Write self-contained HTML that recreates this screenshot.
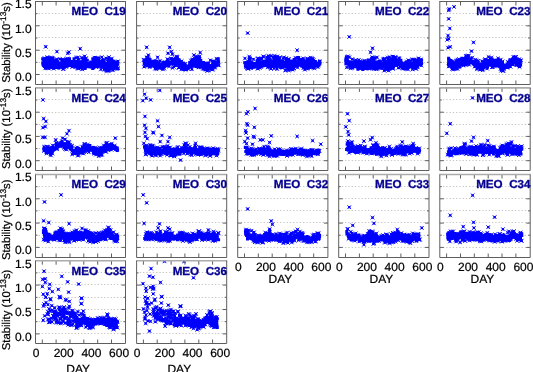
<!DOCTYPE html>
<html><head><meta charset="utf-8"><title>MEO stability</title><style>
html,body{margin:0;padding:0;background:#fff;width:533px;height:372px;overflow:hidden;}
svg{display:block;will-change:transform;}
text{font-family:"Liberation Sans",sans-serif;text-rendering:geometricPrecision;}
.ttl{font-size:11.65px;font-weight:bold;fill:#050090;stroke:#050090;stroke-width:0.3px;white-space:pre;}
.lab text{font-size:12px;}
.lab .yl{font-size:11.3px;}
.lab .sup{font-size:8.4px;}
</style></head><body>
<svg width="533" height="372" viewBox="0 0 533 372">
<rect width="533" height="372" fill="#fff"/>
<path d="M36.4 74.5H124.5M36.4 62.5H124.5M36.4 50.5H124.5M36.4 37.5H124.5M36.4 25.5H124.5M36.4 13.5H124.5" stroke="#c6c6c6" stroke-width="1" stroke-dasharray="1.3 1.97" stroke-dashoffset="1" fill="none"/>
<clipPath id="kC19"><rect x="35.5" y="1.5" width="90" height="83"/></clipPath><g clip-path="url(#kC19)">
<path d="M42.3 60.8L45.4 60.4L52.3 59.9L57.5 61.9L62.6 61.3L69.5 60L76.5 60.2L83.4 61.1L90.3 61.9L95.4 59.4L102.4 60.9L109.3 62.2L116.2 62.3L118.4 62.3L118.4 67.9L116.2 68.6L109.3 69.2L102.4 68.5L95.4 66.5L90.3 68.5L83.4 67.8L76.5 66.8L69.5 65.4L62.6 67.7L57.5 68.5L52.3 66.7L45.4 67.2L42.3 66.9 Z" fill="#0000ff"/>
<path d="M92.6 55.8l3.8 3.8m0 -3.8l-3.8 3.8M70.2 64.9l3.8 3.8m0 -3.8l-3.8 3.8M107 57.6l3.8 3.8m0 -3.8l-3.8 3.8M80.4 67.4l3.8 3.8m0 -3.8l-3.8 3.8M60.7 57.4l3.8 3.8m0 -3.8l-3.8 3.8M77.4 65.6l3.8 3.8m0 -3.8l-3.8 3.8M83 58.1l3.8 3.8m0 -3.8l-3.8 3.8M106.7 67.9l3.8 3.8m0 -3.8l-3.8 3.8M62 58.1l3.8 3.8m0 -3.8l-3.8 3.8M93.9 65.1l3.8 3.8m0 -3.8l-3.8 3.8M74.2 55.8l3.8 3.8m0 -3.8l-3.8 3.8M80.2 65.7l3.8 3.8m0 -3.8l-3.8 3.8M45.9 55.6l3.8 3.8m0 -3.8l-3.8 3.8M47.1 65.3l3.8 3.8m0 -3.8l-3.8 3.8M65.4 56.6l3.8 3.8m0 -3.8l-3.8 3.8M111 68.3l3.8 3.8m0 -3.8l-3.8 3.8M60.3 58.6l3.8 3.8m0 -3.8l-3.8 3.8M77.1 64.7l3.8 3.8m0 -3.8l-3.8 3.8M76.1 55.5l3.8 3.8m0 -3.8l-3.8 3.8M61.4 67.2l3.8 3.8m0 -3.8l-3.8 3.8M80.9 58.3l3.8 3.8m0 -3.8l-3.8 3.8M74.1 65l3.8 3.8m0 -3.8l-3.8 3.8M57.9 57.2l3.8 3.8m0 -3.8l-3.8 3.8M99 67.5l3.8 3.8m0 -3.8l-3.8 3.8M105.8 57.6l3.8 3.8m0 -3.8l-3.8 3.8M106.6 69.1l3.8 3.8m0 -3.8l-3.8 3.8M46.1 56.6l3.8 3.8m0 -3.8l-3.8 3.8M46.2 65.5l3.8 3.8m0 -3.8l-3.8 3.8M50.2 56.2l3.8 3.8m0 -3.8l-3.8 3.8M49.9 64.5l3.8 3.8m0 -3.8l-3.8 3.8M96.4 56.1l3.8 3.8m0 -3.8l-3.8 3.8M104.7 69l3.8 3.8m0 -3.8l-3.8 3.8M94.6 56.2l3.8 3.8m0 -3.8l-3.8 3.8M62.4 65.6l3.8 3.8m0 -3.8l-3.8 3.8M81.9 57l3.8 3.8m0 -3.8l-3.8 3.8M75.6 65.7l3.8 3.8m0 -3.8l-3.8 3.8M79.8 55.8l3.8 3.8m0 -3.8l-3.8 3.8M51.8 66.7l3.8 3.8m0 -3.8l-3.8 3.8M106.2 57l3.8 3.8m0 -3.8l-3.8 3.8M49 65l3.8 3.8m0 -3.8l-3.8 3.8M107.2 57.9l3.8 3.8m0 -3.8l-3.8 3.8M114.8 67.1l3.8 3.8m0 -3.8l-3.8 3.8M49.3 56.6l3.8 3.8m0 -3.8l-3.8 3.8M49.6 66.1l3.8 3.8m0 -3.8l-3.8 3.8M116.1 59.4l3.8 3.8m0 -3.8l-3.8 3.8M102.3 67.7l3.8 3.8m0 -3.8l-3.8 3.8M45.2 55.5l3.8 3.8m0 -3.8l-3.8 3.8M105.7 68.8l3.8 3.8m0 -3.8l-3.8 3.8M84.1 56.8l3.8 3.8m0 -3.8l-3.8 3.8M76.8 66.7l3.8 3.8m0 -3.8l-3.8 3.8M48.8 57l3.8 3.8m0 -3.8l-3.8 3.8M46.4 66.4l3.8 3.8m0 -3.8l-3.8 3.8M41.9 57.5l3.8 3.8m0 -3.8l-3.8 3.8M64.4 65.1l3.8 3.8m0 -3.8l-3.8 3.8M43.8 56.8l3.8 3.8m0 -3.8l-3.8 3.8M116.2 66.3l3.8 3.8m0 -3.8l-3.8 3.8M104.1 56.4l3.8 3.8m0 -3.8l-3.8 3.8M43.3 66.4l3.8 3.8m0 -3.8l-3.8 3.8M61.1 58.1l3.8 3.8m0 -3.8l-3.8 3.8M45.5 65l3.8 3.8m0 -3.8l-3.8 3.8M64.5 57.2l3.8 3.8m0 -3.8l-3.8 3.8M58.7 65.8l3.8 3.8m0 -3.8l-3.8 3.8M49 55.6l3.8 3.8m0 -3.8l-3.8 3.8M45.2 66l3.8 3.8m0 -3.8l-3.8 3.8M42.7 56.5l3.8 3.8m0 -3.8l-3.8 3.8M64.6 63.7l3.8 3.8m0 -3.8l-3.8 3.8M42.2 56.8l3.8 3.8m0 -3.8l-3.8 3.8M94.5 65.1l3.8 3.8m0 -3.8l-3.8 3.8M83.8 56.4l3.8 3.8m0 -3.8l-3.8 3.8M75.9 66.5l3.8 3.8m0 -3.8l-3.8 3.8M54.9 57.7l3.8 3.8m0 -3.8l-3.8 3.8M109 67.3l3.8 3.8m0 -3.8l-3.8 3.8M99.9 55.2l3.8 3.8m0 -3.8l-3.8 3.8M61.3 66.8l3.8 3.8m0 -3.8l-3.8 3.8M106.4 57.3l3.8 3.8m0 -3.8l-3.8 3.8M71.7 64.4l3.8 3.8m0 -3.8l-3.8 3.8M55.1 57.4l3.8 3.8m0 -3.8l-3.8 3.8M104.2 68.1l3.8 3.8m0 -3.8l-3.8 3.8M43.8 44.9l3.8 3.8m0 -3.8l-3.8 3.8M55 49.7l3.8 3.8m0 -3.8l-3.8 3.8M65.9 51.4l3.8 3.8m0 -3.8l-3.8 3.8M67.1 50.2l3.8 3.8m0 -3.8l-3.8 3.8M78.3 46.8l3.8 3.8m0 -3.8l-3.8 3.8M82.8 54.4l3.8 3.8m0 -3.8l-3.8 3.8M107 55.2l3.8 3.8m0 -3.8l-3.8 3.8M110 56.6l3.8 3.8m0 -3.8l-3.8 3.8" stroke="#0000ff" stroke-width="0.85" fill="none"/>
<path d="M93.4 56.6h2.3v2.3h-2.3zM70.9 65.7h2.3v2.3h-2.3zM107.8 58.4h2.3v2.3h-2.3zM81.2 68.2h2.3v2.3h-2.3zM61.5 58.2h2.3v2.3h-2.3zM78.2 66.4h2.3v2.3h-2.3zM83.8 58.8h2.3v2.3h-2.3zM107.4 68.6h2.3v2.3h-2.3zM62.8 58.8h2.3v2.3h-2.3zM94.6 65.8h2.3v2.3h-2.3zM74.9 56.5h2.3v2.3h-2.3zM81 66.5h2.3v2.3h-2.3zM46.6 56.3h2.3v2.3h-2.3zM47.9 66h2.3v2.3h-2.3zM66.2 57.4h2.3v2.3h-2.3zM111.8 69.1h2.3v2.3h-2.3zM61.1 59.4h2.3v2.3h-2.3zM77.9 65.5h2.3v2.3h-2.3zM76.9 56.2h2.3v2.3h-2.3zM62.1 68h2.3v2.3h-2.3zM81.6 59h2.3v2.3h-2.3zM74.8 65.7h2.3v2.3h-2.3zM58.7 58h2.3v2.3h-2.3zM99.8 68.3h2.3v2.3h-2.3zM106.6 58.4h2.3v2.3h-2.3zM107.3 69.8h2.3v2.3h-2.3zM46.9 57.3h2.3v2.3h-2.3zM46.9 66.2h2.3v2.3h-2.3zM50.9 57h2.3v2.3h-2.3zM50.7 65.3h2.3v2.3h-2.3zM97.1 56.8h2.3v2.3h-2.3zM105.5 69.8h2.3v2.3h-2.3zM95.4 56.9h2.3v2.3h-2.3zM63.1 66.3h2.3v2.3h-2.3zM82.6 57.7h2.3v2.3h-2.3zM76.3 66.4h2.3v2.3h-2.3zM80.5 56.6h2.3v2.3h-2.3zM52.5 67.4h2.3v2.3h-2.3zM106.9 57.8h2.3v2.3h-2.3zM49.8 65.7h2.3v2.3h-2.3zM107.9 58.6h2.3v2.3h-2.3zM115.6 67.9h2.3v2.3h-2.3zM50.1 57.4h2.3v2.3h-2.3zM50.3 66.8h2.3v2.3h-2.3zM116.9 60.1h2.3v2.3h-2.3zM103 68.4h2.3v2.3h-2.3zM46 56.3h2.3v2.3h-2.3zM106.4 69.5h2.3v2.3h-2.3zM84.8 57.5h2.3v2.3h-2.3zM77.5 67.4h2.3v2.3h-2.3zM49.5 57.7h2.3v2.3h-2.3zM47.2 67.1h2.3v2.3h-2.3zM42.6 58.3h2.3v2.3h-2.3zM65.2 65.8h2.3v2.3h-2.3zM44.6 57.5h2.3v2.3h-2.3zM116.9 67h2.3v2.3h-2.3zM104.9 57.1h2.3v2.3h-2.3zM44 67.2h2.3v2.3h-2.3zM61.8 58.8h2.3v2.3h-2.3zM46.2 65.7h2.3v2.3h-2.3zM65.2 58h2.3v2.3h-2.3zM59.5 66.5h2.3v2.3h-2.3zM49.7 56.4h2.3v2.3h-2.3zM46 66.8h2.3v2.3h-2.3zM43.5 57.3h2.3v2.3h-2.3zM65.3 64.5h2.3v2.3h-2.3zM42.9 57.5h2.3v2.3h-2.3zM95.3 65.8h2.3v2.3h-2.3zM84.6 57.2h2.3v2.3h-2.3zM76.6 67.3h2.3v2.3h-2.3zM55.6 58.4h2.3v2.3h-2.3zM109.8 68.1h2.3v2.3h-2.3zM100.6 55.9h2.3v2.3h-2.3zM62.1 67.6h2.3v2.3h-2.3zM107.1 58h2.3v2.3h-2.3zM72.5 65.1h2.3v2.3h-2.3zM55.9 58.2h2.3v2.3h-2.3zM104.9 68.9h2.3v2.3h-2.3zM44.6 45.6h2.3v2.3h-2.3zM55.8 50.5h2.3v2.3h-2.3zM66.6 52.1h2.3v2.3h-2.3zM67.8 51h2.3v2.3h-2.3zM79 47.6h2.3v2.3h-2.3zM83.5 55.1h2.3v2.3h-2.3zM107.8 56h2.3v2.3h-2.3zM110.8 57.4h2.3v2.3h-2.3zM72.5 57.3h3v3h-3zM55.6 66.1h3v3h-3zM83.6 60.9h3v3h-3zM47.8 59.7h3v3h-3zM66.8 59.1h3v3h-3zM108.1 66.1h3v3h-3zM94.7 65.1h3v3h-3zM57.3 66.5h3v3h-3zM80.2 61.3h3v3h-3zM52.8 58.8h3v3h-3zM68.8 61.9h3v3h-3zM88.4 62.3h3v3h-3zM56.2 64.6h3v3h-3zM53.4 59.3h3v3h-3zM41.2 57.4h3v3h-3zM101.5 59.1h3v3h-3zM113.4 64h3v3h-3zM54.4 65.3h3v3h-3zM93.4 59.9h3v3h-3zM88.1 62.1h3v3h-3zM93.5 63.9h3v3h-3zM68.5 60.1h3v3h-3zM69.1 62.7h3v3h-3zM61 64.8h3v3h-3zM92.2 66.2h3v3h-3zM55.2 63.1h3v3h-3zM96 65h3v3h-3zM47.1 64.2h3v3h-3zM101 64.6h3v3h-3zM84.2 63.1h3v3h-3zM47.9 60.4h3v3h-3zM80.7 63h3v3h-3zM91.2 66.9h3v3h-3zM44.4 63.5h3v3h-3zM45.2 61.8h3v3h-3zM112.2 65.6h3v3h-3zM45.4 58.9h3v3h-3zM116.3 62.8h3v3h-3zM99.2 64.5h3v3h-3zM115.3 60.5h3v3h-3zM83.6 66.9h3v3h-3zM110 61.2h3v3h-3zM49.3 58.9h3v3h-3zM96.2 59.2h3v3h-3zM80.1 64.1h3v3h-3zM83.5 60.3h3v3h-3zM83.7 65.5h3v3h-3zM87.2 63.7h3v3h-3zM92.7 58.9h3v3h-3zM84.2 63.4h3v3h-3zM96.5 60.7h3v3h-3zM70.5 63.2h3v3h-3zM97.9 60h3v3h-3zM64.9 57.9h3v3h-3zM67.2 58.9h3v3h-3zM93.3 61.9h3v3h-3zM98.2 61.9h3v3h-3zM78.2 66.1h3v3h-3zM44.4 61.1h3v3h-3zM50.4 65.7h3v3h-3zM85.5 65h3v3h-3zM42.5 58.1h3v3h-3zM48.5 62.6h3v3h-3zM55.9 62.1h3v3h-3zM42.8 64.9h3v3h-3zM97.2 57h3v3h-3zM66.9 60.2h3v3h-3zM53.2 61.4h3v3h-3zM42.8 61.8h3v3h-3zM83.1 64.8h3v3h-3zM80.2 63.5h3v3h-3zM110.8 63.2h3v3h-3zM101.4 60h3v3h-3zM50.1 59.2h3v3h-3zM97.2 64.3h3v3h-3zM91.8 60.5h3v3h-3zM60.9 63h3v3h-3zM94.9 62h3v3h-3zM76.9 62.2h3v3h-3zM110.2 59h3v3h-3zM102 59.2h3v3h-3zM48.6 56.5h3v3h-3zM89.2 60.6h3v3h-3zM46.2 61.9h3v3h-3zM90.9 65.5h3v3h-3zM68 57.3h3v3h-3zM56.3 60.8h3v3h-3zM90.1 61.3h3v3h-3zM55.2 64.5h3v3h-3zM61.6 60.3h3v3h-3zM109.7 65.2h3v3h-3zM102.5 65.8h3v3h-3zM112.3 65.1h3v3h-3zM104.2 64.3h3v3h-3zM47 61.9h3v3h-3zM47.7 58.5h3v3h-3zM93.4 59.2h3v3h-3zM93 60.4h3v3h-3zM113 62.8h3v3h-3zM114.4 66.6h3v3h-3zM88.5 63.3h3v3h-3zM107 59.8h3v3h-3zM111.6 63.4h3v3h-3zM96.8 61.9h3v3h-3zM76.3 59.7h3v3h-3zM51.1 59.1h3v3h-3zM114.9 63.2h3v3h-3zM73.3 59.9h3v3h-3zM49.4 57.8h3v3h-3zM83.9 65.7h3v3h-3zM102.4 64h3v3h-3zM42.9 60.1h3v3h-3zM116.5 67.1h3v3h-3zM108.6 67h3v3h-3zM85.8 64.9h3v3h-3zM93.7 56.1h3v3h-3zM112.6 61.3h3v3h-3zM108.9 60.2h3v3h-3zM73.5 65.2h3v3h-3zM60.4 58.8h3v3h-3zM41.6 63h3v3h-3zM47.3 59.9h3v3h-3zM92.1 58.1h3v3h-3zM96.4 61.4h3v3h-3zM91.2 63.2h3v3h-3zM46.4 61.6h3v3h-3zM69.3 60h3v3h-3zM71 60.4h3v3h-3zM84.8 62.7h3v3h-3zM41.2 61.6h3v3h-3zM82.4 62.4h3v3h-3zM41.5 63.3h3v3h-3zM96.5 61.4h3v3h-3zM61.4 64.2h3v3h-3zM98.1 63.5h3v3h-3zM89.8 65.2h3v3h-3zM76.2 63.1h3v3h-3zM73.1 62.6h3v3h-3zM101.8 58.2h3v3h-3zM60.1 63.9h3v3h-3zM93.9 64.5h3v3h-3zM60.5 64.1h3v3h-3zM85.8 58.7h3v3h-3zM68.2 59.6h3v3h-3zM68.2 64.1h3v3h-3zM107 64.8h3v3h-3zM104.6 66.2h3v3h-3zM74.3 62.7h3v3h-3zM66.9 64.1h3v3h-3zM63.3 59.5h3v3h-3zM76.9 58h3v3h-3zM109.1 67.1h3v3h-3zM88.1 63h3v3h-3zM102.7 58.8h3v3h-3zM104.5 62.3h3v3h-3zM82.2 62.6h3v3h-3zM46.1 63.7h3v3h-3zM52.7 66.2h3v3h-3zM114.8 62.5h3v3h-3zM101.2 59h3v3h-3zM95.6 57.8h3v3h-3zM55.4 62.9h3v3h-3zM61.8 63.2h3v3h-3zM78.8 61.2h3v3h-3zM55.6 64.1h3v3h-3zM53.3 61.2h3v3h-3zM92.9 62.4h3v3h-3zM91.3 57.2h3v3h-3zM100.9 59.2h3v3h-3zM112.3 59.7h3v3h-3zM64.8 64.7h3v3h-3zM44.5 64.4h3v3h-3zM57.6 62.6h3v3h-3zM89 64h3v3h-3zM112.8 62.3h3v3h-3zM57.8 65.8h3v3h-3zM100.7 63.3h3v3h-3zM72.1 62.4h3v3h-3zM87 64.1h3v3h-3zM104.5 64.2h3v3h-3zM114.1 61.3h3v3h-3zM82.5 64.4h3v3h-3zM58.5 63.6h3v3h-3zM108.3 67.1h3v3h-3zM55.5 61.1h3v3h-3zM68.6 63.7h3v3h-3zM61.3 65.7h3v3h-3zM66.2 64.3h3v3h-3zM48.5 61.1h3v3h-3zM112.2 66.9h3v3h-3zM107.8 68.7h3v3h-3zM54.9 64.7h3v3h-3zM51.5 56.5h3v3h-3zM80 60.3h3v3h-3zM63.3 65.3h3v3h-3zM66.6 57.9h3v3h-3z" fill="#0000ff"/>
</g>
<path d="M42.3 84.5v-4M42.3 1.5v4M56.1 84.5v-4M56.1 1.5v4M70 84.5v-4M70 1.5v4M83.8 84.5v-4M83.8 1.5v4M97.7 84.5v-4M97.7 1.5v4M111.5 84.5v-4M111.5 1.5v4M35.5 62.3h2M125.5 62.3h-2M35.5 50.2h4M125.5 50.2h-4M35.5 38h2M125.5 38h-2M35.5 25.8h4M125.5 25.8h-4M35.5 13.7h2M125.5 13.7h-2M35.5 74.5h4M125.5 74.5h-4" stroke="#5e5e5e" stroke-width="1" fill="none"/>
<path d="M35 1.5H126" stroke="#5e5e5e" stroke-width="1"/>
<path d="M35.5 1.5V84.5H125.5V1.5" stroke="#5e5e5e" stroke-width="1" fill="none"/>
<text x="125.8" y="15.3" text-anchor="end" class="ttl">MEO  C19</text>
<path d="M137.5 74.5H225.7M137.5 62.5H225.7M137.5 50.5H225.7M137.5 37.5H225.7M137.5 25.5H225.7M137.5 13.5H225.7" stroke="#c6c6c6" stroke-width="1" stroke-dasharray="1.3 1.97" stroke-dashoffset="1" fill="none"/>
<clipPath id="kC20"><rect x="136.6" y="1.5" width="90.1" height="83"/></clipPath><g clip-path="url(#kC20)">
<path d="M143.6 61.4L148.1 58.4L153.3 61.4L158.5 63.4L164.5 62.9L170.5 60.2L177.4 59.1L182.6 64.5L187.8 64.7L193 60.5L199.9 59.1L205.1 64.7L212 64L218 60L219 59.5L219 63.4L218 65.4L212 69.7L205.1 69.9L199.9 65.2L193 67.4L187.8 69.9L182.6 69.6L177.4 65.2L170.5 65.5L164.5 68.1L158.5 69.5L153.3 67.1L148.1 65L143.6 67.1 Z" fill="#0000ff"/>
<path d="M174.4 54.6l3.8 3.8m0 -3.8l-3.8 3.8M201.8 67.1l3.8 3.8m0 -3.8l-3.8 3.8M195.5 54.7l3.8 3.8m0 -3.8l-3.8 3.8M177.4 64.8l3.8 3.8m0 -3.8l-3.8 3.8M181.3 62l3.8 3.8m0 -3.8l-3.8 3.8M161.1 67.4l3.8 3.8m0 -3.8l-3.8 3.8M194.1 54.9l3.8 3.8m0 -3.8l-3.8 3.8M206.4 68.5l3.8 3.8m0 -3.8l-3.8 3.8M162 60.7l3.8 3.8m0 -3.8l-3.8 3.8M145.1 64.2l3.8 3.8m0 -3.8l-3.8 3.8M205.9 61.8l3.8 3.8m0 -3.8l-3.8 3.8M210.5 67.8l3.8 3.8m0 -3.8l-3.8 3.8M210.5 59.3l3.8 3.8m0 -3.8l-3.8 3.8M203.9 67.4l3.8 3.8m0 -3.8l-3.8 3.8M190.5 58.2l3.8 3.8m0 -3.8l-3.8 3.8M179.3 67.5l3.8 3.8m0 -3.8l-3.8 3.8M193.1 57l3.8 3.8m0 -3.8l-3.8 3.8M142.1 64.9l3.8 3.8m0 -3.8l-3.8 3.8M190.7 57.3l3.8 3.8m0 -3.8l-3.8 3.8M212.4 65.7l3.8 3.8m0 -3.8l-3.8 3.8M181.2 61.9l3.8 3.8m0 -3.8l-3.8 3.8M171.8 64.8l3.8 3.8m0 -3.8l-3.8 3.8M179.7 59.3l3.8 3.8m0 -3.8l-3.8 3.8M190 67.3l3.8 3.8m0 -3.8l-3.8 3.8M194.4 55.9l3.8 3.8m0 -3.8l-3.8 3.8M177 65.8l3.8 3.8m0 -3.8l-3.8 3.8M194.6 56.4l3.8 3.8m0 -3.8l-3.8 3.8M203.4 67.1l3.8 3.8m0 -3.8l-3.8 3.8M194.4 56.8l3.8 3.8m0 -3.8l-3.8 3.8M196.9 65.3l3.8 3.8m0 -3.8l-3.8 3.8M171.5 57.1l3.8 3.8m0 -3.8l-3.8 3.8M199.3 65.5l3.8 3.8m0 -3.8l-3.8 3.8M180.5 61.2l3.8 3.8m0 -3.8l-3.8 3.8M211.1 66.7l3.8 3.8m0 -3.8l-3.8 3.8M165.7 57.6l3.8 3.8m0 -3.8l-3.8 3.8M205.3 69l3.8 3.8m0 -3.8l-3.8 3.8M168.6 56.9l3.8 3.8m0 -3.8l-3.8 3.8M201.1 66.7l3.8 3.8m0 -3.8l-3.8 3.8M174.2 56.9l3.8 3.8m0 -3.8l-3.8 3.8M181.7 66.8l3.8 3.8m0 -3.8l-3.8 3.8M169.4 56.6l3.8 3.8m0 -3.8l-3.8 3.8M153.2 66.7l3.8 3.8m0 -3.8l-3.8 3.8M183.4 62.1l3.8 3.8m0 -3.8l-3.8 3.8M210 67.4l3.8 3.8m0 -3.8l-3.8 3.8M162.7 60.1l3.8 3.8m0 -3.8l-3.8 3.8M197.3 64.5l3.8 3.8m0 -3.8l-3.8 3.8M145.9 55.5l3.8 3.8m0 -3.8l-3.8 3.8M160 66l3.8 3.8m0 -3.8l-3.8 3.8M214.6 56.9l3.8 3.8m0 -3.8l-3.8 3.8M213 65.3l3.8 3.8m0 -3.8l-3.8 3.8M157.3 60.8l3.8 3.8m0 -3.8l-3.8 3.8M196.6 65.4l3.8 3.8m0 -3.8l-3.8 3.8M144.8 55.8l3.8 3.8m0 -3.8l-3.8 3.8M174.5 63.2l3.8 3.8m0 -3.8l-3.8 3.8M173.9 56.6l3.8 3.8m0 -3.8l-3.8 3.8M176.9 65.9l3.8 3.8m0 -3.8l-3.8 3.8M212.3 59.5l3.8 3.8m0 -3.8l-3.8 3.8M150.9 64.4l3.8 3.8m0 -3.8l-3.8 3.8M182.3 62.4l3.8 3.8m0 -3.8l-3.8 3.8M217 63.4l3.8 3.8m0 -3.8l-3.8 3.8M141.9 58.1l3.8 3.8m0 -3.8l-3.8 3.8M186.3 67.1l3.8 3.8m0 -3.8l-3.8 3.8M194.5 57l3.8 3.8m0 -3.8l-3.8 3.8M162.4 66.6l3.8 3.8m0 -3.8l-3.8 3.8M189.1 58.7l3.8 3.8m0 -3.8l-3.8 3.8M167.2 64.5l3.8 3.8m0 -3.8l-3.8 3.8M211.1 60.2l3.8 3.8m0 -3.8l-3.8 3.8M154.5 67.3l3.8 3.8m0 -3.8l-3.8 3.8M197.8 54.4l3.8 3.8m0 -3.8l-3.8 3.8M206.6 68.1l3.8 3.8m0 -3.8l-3.8 3.8M157.9 59.1l3.8 3.8m0 -3.8l-3.8 3.8M147.8 65.2l3.8 3.8m0 -3.8l-3.8 3.8M203.4 61.3l3.8 3.8m0 -3.8l-3.8 3.8M216 63.2l3.8 3.8m0 -3.8l-3.8 3.8M142.1 57.8l3.8 3.8m0 -3.8l-3.8 3.8M199 63.8l3.8 3.8m0 -3.8l-3.8 3.8M165.8 57.3l3.8 3.8m0 -3.8l-3.8 3.8M183.7 68l3.8 3.8m0 -3.8l-3.8 3.8M144.8 45.4l3.8 3.8m0 -3.8l-3.8 3.8M146.5 53.1l3.8 3.8m0 -3.8l-3.8 3.8M155.7 55.4l3.8 3.8m0 -3.8l-3.8 3.8M167.8 45.4l3.8 3.8m0 -3.8l-3.8 3.8M166.1 51.4l3.8 3.8m0 -3.8l-3.8 3.8M169.5 49.7l3.8 3.8m0 -3.8l-3.8 3.8M170.4 52.3l3.8 3.8m0 -3.8l-3.8 3.8M170.7 66.1l3.8 3.8m0 -3.8l-3.8 3.8M175.6 54.9l3.8 3.8m0 -3.8l-3.8 3.8M192 53.1l3.8 3.8m0 -3.8l-3.8 3.8M198.3 50.6l3.8 3.8m0 -3.8l-3.8 3.8M208.4 58.3l3.8 3.8m0 -3.8l-3.8 3.8" stroke="#0000ff" stroke-width="0.85" fill="none"/>
<path d="M175.1 55.4h2.3v2.3h-2.3zM202.5 67.8h2.3v2.3h-2.3zM196.2 55.4h2.3v2.3h-2.3zM178.1 65.5h2.3v2.3h-2.3zM182.1 62.8h2.3v2.3h-2.3zM161.8 68.1h2.3v2.3h-2.3zM194.9 55.6h2.3v2.3h-2.3zM207.1 69.2h2.3v2.3h-2.3zM162.8 61.5h2.3v2.3h-2.3zM145.9 65h2.3v2.3h-2.3zM206.7 62.5h2.3v2.3h-2.3zM211.2 68.6h2.3v2.3h-2.3zM211.3 60h2.3v2.3h-2.3zM204.6 68.1h2.3v2.3h-2.3zM191.2 59h2.3v2.3h-2.3zM180.1 68.3h2.3v2.3h-2.3zM193.8 57.7h2.3v2.3h-2.3zM142.9 65.7h2.3v2.3h-2.3zM191.5 58.1h2.3v2.3h-2.3zM213.1 66.4h2.3v2.3h-2.3zM182 62.6h2.3v2.3h-2.3zM172.6 65.5h2.3v2.3h-2.3zM180.5 60.1h2.3v2.3h-2.3zM190.8 68.1h2.3v2.3h-2.3zM195.1 56.7h2.3v2.3h-2.3zM177.7 66.5h2.3v2.3h-2.3zM195.4 57.2h2.3v2.3h-2.3zM204.1 67.9h2.3v2.3h-2.3zM195.2 57.6h2.3v2.3h-2.3zM197.7 66h2.3v2.3h-2.3zM172.3 57.8h2.3v2.3h-2.3zM200.1 66.2h2.3v2.3h-2.3zM181.2 62h2.3v2.3h-2.3zM211.9 67.5h2.3v2.3h-2.3zM166.4 58.4h2.3v2.3h-2.3zM206.1 69.7h2.3v2.3h-2.3zM169.4 57.7h2.3v2.3h-2.3zM201.8 67.4h2.3v2.3h-2.3zM175 57.7h2.3v2.3h-2.3zM182.4 67.6h2.3v2.3h-2.3zM170.2 57.3h2.3v2.3h-2.3zM153.9 67.5h2.3v2.3h-2.3zM184.1 62.8h2.3v2.3h-2.3zM210.8 68.2h2.3v2.3h-2.3zM163.4 60.8h2.3v2.3h-2.3zM198 65.2h2.3v2.3h-2.3zM146.6 56.2h2.3v2.3h-2.3zM160.8 66.8h2.3v2.3h-2.3zM215.3 57.6h2.3v2.3h-2.3zM213.7 66.1h2.3v2.3h-2.3zM158.1 61.5h2.3v2.3h-2.3zM197.4 66.2h2.3v2.3h-2.3zM145.5 56.6h2.3v2.3h-2.3zM175.2 63.9h2.3v2.3h-2.3zM174.7 57.4h2.3v2.3h-2.3zM177.6 66.6h2.3v2.3h-2.3zM213 60.3h2.3v2.3h-2.3zM151.6 65.2h2.3v2.3h-2.3zM183.1 63.1h2.3v2.3h-2.3zM217.7 64.2h2.3v2.3h-2.3zM142.6 58.8h2.3v2.3h-2.3zM187.1 67.8h2.3v2.3h-2.3zM195.3 57.8h2.3v2.3h-2.3zM163.1 67.3h2.3v2.3h-2.3zM189.8 59.4h2.3v2.3h-2.3zM167.9 65.2h2.3v2.3h-2.3zM211.8 60.9h2.3v2.3h-2.3zM155.2 68h2.3v2.3h-2.3zM198.6 55.2h2.3v2.3h-2.3zM207.4 68.8h2.3v2.3h-2.3zM158.7 59.8h2.3v2.3h-2.3zM148.6 65.9h2.3v2.3h-2.3zM204.2 62.1h2.3v2.3h-2.3zM216.7 63.9h2.3v2.3h-2.3zM142.8 58.5h2.3v2.3h-2.3zM199.7 64.5h2.3v2.3h-2.3zM166.6 58.1h2.3v2.3h-2.3zM184.4 68.8h2.3v2.3h-2.3zM145.5 46.1h2.3v2.3h-2.3zM147.2 53.9h2.3v2.3h-2.3zM156.4 56.1h2.3v2.3h-2.3zM168.5 46.1h2.3v2.3h-2.3zM166.8 52.1h2.3v2.3h-2.3zM170.2 50.5h2.3v2.3h-2.3zM171.2 53.1h2.3v2.3h-2.3zM171.4 66.8h2.3v2.3h-2.3zM176.3 55.6h2.3v2.3h-2.3zM192.8 53.9h2.3v2.3h-2.3zM199 51.4h2.3v2.3h-2.3zM209.2 59.1h2.3v2.3h-2.3zM205.6 65.2h3v3h-3zM179.1 63.3h3v3h-3zM214.6 61.9h3v3h-3zM207.1 66.7h3v3h-3zM209.1 65.6h3v3h-3zM187.8 64.8h3v3h-3zM161.6 63h3v3h-3zM152.1 63.6h3v3h-3zM175.3 56.5h3v3h-3zM145.7 58.6h3v3h-3zM194.8 56.8h3v3h-3zM203.7 68.2h3v3h-3zM174.1 63.5h3v3h-3zM188.4 62.4h3v3h-3zM151.5 59.8h3v3h-3zM188.1 63.4h3v3h-3zM216.8 59.4h3v3h-3zM146.9 58.4h3v3h-3zM147.9 57.5h3v3h-3zM143.7 58.7h3v3h-3zM201.5 61.3h3v3h-3zM199.3 59.1h3v3h-3zM204.7 67h3v3h-3zM165.8 59.6h3v3h-3zM202.9 65.3h3v3h-3zM182.8 63.6h3v3h-3zM175.1 58.4h3v3h-3zM185.9 67.1h3v3h-3zM157.1 64.9h3v3h-3zM150.4 64.3h3v3h-3zM175.8 56h3v3h-3zM164.5 61.2h3v3h-3zM206 63.9h3v3h-3zM185.6 64.7h3v3h-3zM197.1 60.7h3v3h-3zM201.8 65.2h3v3h-3zM161.3 60.9h3v3h-3zM198.1 57h3v3h-3zM214.4 64.5h3v3h-3zM212.7 65.5h3v3h-3zM182 67.3h3v3h-3zM178.6 60.8h3v3h-3zM144.5 62.2h3v3h-3zM164.7 60.7h3v3h-3zM159.8 65.8h3v3h-3zM148.9 64.6h3v3h-3zM192 61h3v3h-3zM154.5 63.3h3v3h-3zM177.2 60.7h3v3h-3zM156.2 66.7h3v3h-3zM210.2 65.7h3v3h-3zM217.1 60.4h3v3h-3zM196.1 64.3h3v3h-3zM196.6 60.8h3v3h-3zM184.1 67.3h3v3h-3zM145.2 60.6h3v3h-3zM171.1 60.3h3v3h-3zM158.8 63.6h3v3h-3zM185.1 67.9h3v3h-3zM167.9 61.6h3v3h-3zM153.6 65.2h3v3h-3zM173.9 64h3v3h-3zM213.3 61.7h3v3h-3zM204.1 65.4h3v3h-3zM178.2 61.6h3v3h-3zM146.7 57.3h3v3h-3zM145.8 63.9h3v3h-3zM194.3 64.7h3v3h-3zM142.8 61.9h3v3h-3zM160.7 65.7h3v3h-3zM188.2 61h3v3h-3zM161.1 63.1h3v3h-3zM196.5 63.6h3v3h-3zM161.9 63.5h3v3h-3zM145.4 55.9h3v3h-3zM144.5 59.8h3v3h-3zM148.5 58h3v3h-3zM182.7 64.9h3v3h-3zM191.6 63.2h3v3h-3zM198 59.5h3v3h-3zM164.8 62h3v3h-3zM181.7 62.6h3v3h-3zM175.3 56.4h3v3h-3zM196.5 58.9h3v3h-3zM202.1 60.9h3v3h-3zM177.2 62h3v3h-3zM146.9 58.7h3v3h-3zM149.1 59.9h3v3h-3zM177.7 59.5h3v3h-3zM177.6 58.2h3v3h-3zM177 59.1h3v3h-3zM172.8 60.5h3v3h-3zM209.2 64.2h3v3h-3zM203.8 62.2h3v3h-3zM199.2 62h3v3h-3zM183 64.1h3v3h-3zM180.5 62.7h3v3h-3zM204.2 65.6h3v3h-3zM190.8 64.2h3v3h-3zM161.3 63.4h3v3h-3zM206.9 61.7h3v3h-3zM210.2 67h3v3h-3zM155.3 59.9h3v3h-3zM206.6 63.4h3v3h-3zM199.2 59.2h3v3h-3zM189.7 64.7h3v3h-3zM182.6 68.1h3v3h-3zM215.3 61.7h3v3h-3zM180.7 61.8h3v3h-3zM182.2 65.3h3v3h-3zM146.9 62h3v3h-3zM175.1 62h3v3h-3zM166.9 63.3h3v3h-3zM161 66.9h3v3h-3zM142.9 61.4h3v3h-3zM154.5 62.9h3v3h-3zM200.9 62.2h3v3h-3zM195 64.5h3v3h-3zM216.8 57.2h3v3h-3zM214.4 63.5h3v3h-3zM188.6 64.1h3v3h-3zM166 64.3h3v3h-3zM166.2 60.5h3v3h-3zM157.5 63h3v3h-3zM155.2 65.1h3v3h-3zM192.1 61.1h3v3h-3zM178.2 62.7h3v3h-3zM185.1 65.8h3v3h-3zM199.6 64h3v3h-3zM162.4 64.6h3v3h-3zM172.6 58.1h3v3h-3zM205.3 62.4h3v3h-3zM154.3 61.8h3v3h-3zM153.7 59.3h3v3h-3zM178.8 62.1h3v3h-3zM197.3 58.1h3v3h-3zM214.4 60.3h3v3h-3zM159.8 66.5h3v3h-3zM178 61.4h3v3h-3zM157.8 62.5h3v3h-3zM160.4 65.3h3v3h-3zM180.8 66.5h3v3h-3zM144 63.8h3v3h-3zM152.5 61.2h3v3h-3zM181.6 64.7h3v3h-3zM199 59.4h3v3h-3zM206 65.1h3v3h-3zM171 58.1h3v3h-3zM184.2 65h3v3h-3zM162 66.2h3v3h-3zM194.3 65h3v3h-3zM214 64.2h3v3h-3zM148.5 59.2h3v3h-3zM194.4 57.6h3v3h-3zM177.6 59.3h3v3h-3zM211.6 62.1h3v3h-3zM147.1 64.3h3v3h-3zM180.2 61.9h3v3h-3zM170.2 61.3h3v3h-3zM191.4 61.8h3v3h-3zM182.4 65.1h3v3h-3zM183.8 65.6h3v3h-3zM142.7 60.5h3v3h-3zM194.3 59.6h3v3h-3zM164.7 61.1h3v3h-3zM195.3 61.9h3v3h-3zM184.1 64.3h3v3h-3zM202.4 63.6h3v3h-3z" fill="#0000ff"/>
</g>
<path d="M143.4 84.5v-4M143.4 1.5v4M157.2 84.5v-4M157.2 1.5v4M171.1 84.5v-4M171.1 1.5v4M184.9 84.5v-4M184.9 1.5v4M198.8 84.5v-4M198.8 1.5v4M212.6 84.5v-4M212.6 1.5v4M136.6 62.3h2M226.7 62.3h-2M136.6 50.2h4M226.7 50.2h-4M136.6 38h2M226.7 38h-2M136.6 25.8h4M226.7 25.8h-4M136.6 13.7h2M226.7 13.7h-2M136.6 74.5h4M226.7 74.5h-4" stroke="#5e5e5e" stroke-width="1" fill="none"/>
<path d="M136.1 1.5H227.2" stroke="#5e5e5e" stroke-width="1"/>
<path d="M136.6 1.5V84.5H226.7V1.5" stroke="#5e5e5e" stroke-width="1" fill="none"/>
<text x="227" y="15.3" text-anchor="end" class="ttl">MEO  C20</text>
<path d="M238.6 74.5H326.9M238.6 62.5H326.9M238.6 50.5H326.9M238.6 37.5H326.9M238.6 25.5H326.9M238.6 13.5H326.9" stroke="#c6c6c6" stroke-width="1" stroke-dasharray="1.3 1.97" stroke-dashoffset="1" fill="none"/>
<clipPath id="kC21"><rect x="237.7" y="1.5" width="90.2" height="83"/></clipPath><g clip-path="url(#kC21)">
<path d="M244.6 61.5L249.1 59.3L254.3 62.1L261.2 60.5L267.2 58.7L273.3 59.6L280.2 59.6L287.1 61.7L292.3 62.1L298.3 58.5L304.4 62.3L312.1 60.5L318.2 62.1L320.4 62.5L320.4 66.4L318.2 67L312.1 67.1L304.4 68.9L298.3 65.9L292.3 68.2L287.1 68.7L280.2 67.5L273.3 67.5L267.2 66.6L261.2 67.1L254.3 68.2L249.1 66.7L244.6 66.8 Z" fill="#0000ff"/>
<path d="M278.1 56l3.8 3.8m0 -3.8l-3.8 3.8M246.4 66.9l3.8 3.8m0 -3.8l-3.8 3.8M258.9 57.2l3.8 3.8m0 -3.8l-3.8 3.8M312.6 66.5l3.8 3.8m0 -3.8l-3.8 3.8M286.3 58.4l3.8 3.8m0 -3.8l-3.8 3.8M275.3 67.1l3.8 3.8m0 -3.8l-3.8 3.8M256.2 56.6l3.8 3.8m0 -3.8l-3.8 3.8M302.9 67.7l3.8 3.8m0 -3.8l-3.8 3.8M305.3 56.7l3.8 3.8m0 -3.8l-3.8 3.8M255.8 66.9l3.8 3.8m0 -3.8l-3.8 3.8M281.9 55.4l3.8 3.8m0 -3.8l-3.8 3.8M295.7 65.3l3.8 3.8m0 -3.8l-3.8 3.8M261.7 55l3.8 3.8m0 -3.8l-3.8 3.8M290.7 67.9l3.8 3.8m0 -3.8l-3.8 3.8M269.4 54l3.8 3.8m0 -3.8l-3.8 3.8M291.5 66.9l3.8 3.8m0 -3.8l-3.8 3.8M293.6 55.9l3.8 3.8m0 -3.8l-3.8 3.8M304.5 66.6l3.8 3.8m0 -3.8l-3.8 3.8M306.1 58.7l3.8 3.8m0 -3.8l-3.8 3.8M315.8 65.2l3.8 3.8m0 -3.8l-3.8 3.8M259.8 56.9l3.8 3.8m0 -3.8l-3.8 3.8M245.2 66.2l3.8 3.8m0 -3.8l-3.8 3.8M264.7 55.2l3.8 3.8m0 -3.8l-3.8 3.8M245.9 66.8l3.8 3.8m0 -3.8l-3.8 3.8M275.4 54.5l3.8 3.8m0 -3.8l-3.8 3.8M286.9 68.6l3.8 3.8m0 -3.8l-3.8 3.8M308 57l3.8 3.8m0 -3.8l-3.8 3.8M280.5 66.1l3.8 3.8m0 -3.8l-3.8 3.8M287 57.1l3.8 3.8m0 -3.8l-3.8 3.8M249.2 66.1l3.8 3.8m0 -3.8l-3.8 3.8M247.4 54.7l3.8 3.8m0 -3.8l-3.8 3.8M283.5 68.2l3.8 3.8m0 -3.8l-3.8 3.8M266.7 54.7l3.8 3.8m0 -3.8l-3.8 3.8M265.6 65.5l3.8 3.8m0 -3.8l-3.8 3.8M266.7 54.1l3.8 3.8m0 -3.8l-3.8 3.8M248.6 66.2l3.8 3.8m0 -3.8l-3.8 3.8M310.2 56.5l3.8 3.8m0 -3.8l-3.8 3.8M288.7 67.2l3.8 3.8m0 -3.8l-3.8 3.8M284.4 56.1l3.8 3.8m0 -3.8l-3.8 3.8M244.4 65l3.8 3.8m0 -3.8l-3.8 3.8M308.8 55.8l3.8 3.8m0 -3.8l-3.8 3.8M286.7 66.5l3.8 3.8m0 -3.8l-3.8 3.8M243.1 56.5l3.8 3.8m0 -3.8l-3.8 3.8M294.2 64.5l3.8 3.8m0 -3.8l-3.8 3.8M277.7 55.6l3.8 3.8m0 -3.8l-3.8 3.8M292 66l3.8 3.8m0 -3.8l-3.8 3.8M310.9 57.1l3.8 3.8m0 -3.8l-3.8 3.8M259.3 65.1l3.8 3.8m0 -3.8l-3.8 3.8M305.8 57l3.8 3.8m0 -3.8l-3.8 3.8M269 67l3.8 3.8m0 -3.8l-3.8 3.8M286.1 57.4l3.8 3.8m0 -3.8l-3.8 3.8M257.5 64.9l3.8 3.8m0 -3.8l-3.8 3.8M274.9 55.3l3.8 3.8m0 -3.8l-3.8 3.8M301.5 66.2l3.8 3.8m0 -3.8l-3.8 3.8M272.7 54.1l3.8 3.8m0 -3.8l-3.8 3.8M308.5 66l3.8 3.8m0 -3.8l-3.8 3.8M281.3 56.7l3.8 3.8m0 -3.8l-3.8 3.8M288.8 65.8l3.8 3.8m0 -3.8l-3.8 3.8M301.3 56.5l3.8 3.8m0 -3.8l-3.8 3.8M286.9 67.4l3.8 3.8m0 -3.8l-3.8 3.8M307.8 58.1l3.8 3.8m0 -3.8l-3.8 3.8M292.1 66.1l3.8 3.8m0 -3.8l-3.8 3.8M251.6 57.4l3.8 3.8m0 -3.8l-3.8 3.8M306.2 66.5l3.8 3.8m0 -3.8l-3.8 3.8M301.9 57.8l3.8 3.8m0 -3.8l-3.8 3.8M257.8 66l3.8 3.8m0 -3.8l-3.8 3.8M311.9 58.4l3.8 3.8m0 -3.8l-3.8 3.8M286.6 66.6l3.8 3.8m0 -3.8l-3.8 3.8M318.2 59.5l3.8 3.8m0 -3.8l-3.8 3.8M268.8 65.8l3.8 3.8m0 -3.8l-3.8 3.8M261.4 54.6l3.8 3.8m0 -3.8l-3.8 3.8M272.2 66.5l3.8 3.8m0 -3.8l-3.8 3.8M309.8 57.3l3.8 3.8m0 -3.8l-3.8 3.8M283.6 68.6l3.8 3.8m0 -3.8l-3.8 3.8M258.6 56.9l3.8 3.8m0 -3.8l-3.8 3.8M316.3 63.8l3.8 3.8m0 -3.8l-3.8 3.8M255.9 56.7l3.8 3.8m0 -3.8l-3.8 3.8M255.8 66.3l3.8 3.8m0 -3.8l-3.8 3.8M245.8 31.1l3.8 3.8m0 -3.8l-3.8 3.8M295.2 48.3l3.8 3.8m0 -3.8l-3.8 3.8" stroke="#0000ff" stroke-width="0.85" fill="none"/>
<path d="M278.8 56.8h2.3v2.3h-2.3zM247.1 67.6h2.3v2.3h-2.3zM259.7 58h2.3v2.3h-2.3zM313.3 67.2h2.3v2.3h-2.3zM287.1 59.2h2.3v2.3h-2.3zM276 67.9h2.3v2.3h-2.3zM256.9 57.3h2.3v2.3h-2.3zM303.6 68.4h2.3v2.3h-2.3zM306.1 57.5h2.3v2.3h-2.3zM256.6 67.6h2.3v2.3h-2.3zM282.7 56.2h2.3v2.3h-2.3zM296.5 66.1h2.3v2.3h-2.3zM262.4 55.7h2.3v2.3h-2.3zM291.5 68.6h2.3v2.3h-2.3zM270.1 54.7h2.3v2.3h-2.3zM292.3 67.6h2.3v2.3h-2.3zM294.4 56.7h2.3v2.3h-2.3zM305.2 67.4h2.3v2.3h-2.3zM306.9 59.4h2.3v2.3h-2.3zM316.6 65.9h2.3v2.3h-2.3zM260.5 57.6h2.3v2.3h-2.3zM246 66.9h2.3v2.3h-2.3zM265.5 56h2.3v2.3h-2.3zM246.6 67.5h2.3v2.3h-2.3zM276.1 55.2h2.3v2.3h-2.3zM287.7 69.3h2.3v2.3h-2.3zM308.8 57.8h2.3v2.3h-2.3zM281.2 66.8h2.3v2.3h-2.3zM287.8 57.9h2.3v2.3h-2.3zM249.9 66.9h2.3v2.3h-2.3zM248.1 55.5h2.3v2.3h-2.3zM284.3 69h2.3v2.3h-2.3zM267.5 55.5h2.3v2.3h-2.3zM266.4 66.2h2.3v2.3h-2.3zM267.5 54.8h2.3v2.3h-2.3zM249.4 66.9h2.3v2.3h-2.3zM310.9 57.2h2.3v2.3h-2.3zM289.4 67.9h2.3v2.3h-2.3zM285.1 56.9h2.3v2.3h-2.3zM245.2 65.7h2.3v2.3h-2.3zM309.6 56.6h2.3v2.3h-2.3zM287.4 67.2h2.3v2.3h-2.3zM243.8 57.2h2.3v2.3h-2.3zM295 65.2h2.3v2.3h-2.3zM278.4 56.3h2.3v2.3h-2.3zM292.8 66.8h2.3v2.3h-2.3zM311.6 57.8h2.3v2.3h-2.3zM260 65.8h2.3v2.3h-2.3zM306.6 57.7h2.3v2.3h-2.3zM269.7 67.8h2.3v2.3h-2.3zM286.9 58.2h2.3v2.3h-2.3zM258.2 65.7h2.3v2.3h-2.3zM275.6 56h2.3v2.3h-2.3zM302.2 66.9h2.3v2.3h-2.3zM273.5 54.8h2.3v2.3h-2.3zM309.2 66.8h2.3v2.3h-2.3zM282.1 57.5h2.3v2.3h-2.3zM289.5 66.5h2.3v2.3h-2.3zM302.1 57.2h2.3v2.3h-2.3zM287.6 68.2h2.3v2.3h-2.3zM308.5 58.9h2.3v2.3h-2.3zM292.9 66.9h2.3v2.3h-2.3zM252.3 58.1h2.3v2.3h-2.3zM307 67.2h2.3v2.3h-2.3zM302.6 58.5h2.3v2.3h-2.3zM258.5 66.8h2.3v2.3h-2.3zM312.6 59.1h2.3v2.3h-2.3zM287.4 67.4h2.3v2.3h-2.3zM319 60.2h2.3v2.3h-2.3zM269.6 66.6h2.3v2.3h-2.3zM262.1 55.3h2.3v2.3h-2.3zM272.9 67.2h2.3v2.3h-2.3zM310.5 58h2.3v2.3h-2.3zM284.4 69.3h2.3v2.3h-2.3zM259.3 57.7h2.3v2.3h-2.3zM317 64.6h2.3v2.3h-2.3zM256.6 57.4h2.3v2.3h-2.3zM256.5 67h2.3v2.3h-2.3zM246.5 31.9h2.3v2.3h-2.3zM296 49.1h2.3v2.3h-2.3zM291 65.9h3v3h-3zM254.7 61.9h3v3h-3zM270.4 64.5h3v3h-3zM293.5 58.9h3v3h-3zM248.4 64.4h3v3h-3zM305.8 64h3v3h-3zM289.1 60.1h3v3h-3zM254.1 63.2h3v3h-3zM311.6 58.5h3v3h-3zM275.8 60h3v3h-3zM313.4 63.2h3v3h-3zM293.2 58.3h3v3h-3zM317.9 59.8h3v3h-3zM272.6 58.6h3v3h-3zM250.8 64.7h3v3h-3zM289.6 65.9h3v3h-3zM269.2 62.7h3v3h-3zM275.5 62.1h3v3h-3zM246.2 65.2h3v3h-3zM288.4 62.7h3v3h-3zM295.9 56.2h3v3h-3zM294.7 61.2h3v3h-3zM267.5 59.4h3v3h-3zM303.7 65.5h3v3h-3zM304.9 65.4h3v3h-3zM273.9 60.5h3v3h-3zM273.5 59.7h3v3h-3zM286.2 62.9h3v3h-3zM294.3 62h3v3h-3zM257.4 60.6h3v3h-3zM274.9 57.7h3v3h-3zM284 63.7h3v3h-3zM305.8 65.3h3v3h-3zM255.3 64.9h3v3h-3zM257.3 59.7h3v3h-3zM303.7 66.4h3v3h-3zM310.9 60.4h3v3h-3zM262.4 64.3h3v3h-3zM306.2 65.1h3v3h-3zM276.5 59.9h3v3h-3zM260.5 64.7h3v3h-3zM311.5 63.1h3v3h-3zM256.3 60.2h3v3h-3zM250.4 66h3v3h-3zM266.3 57.5h3v3h-3zM280 60.9h3v3h-3zM291.9 66.1h3v3h-3zM309.5 65h3v3h-3zM255.8 59.1h3v3h-3zM309.3 62.5h3v3h-3zM301.3 61.4h3v3h-3zM305.6 62.7h3v3h-3zM248.8 56.5h3v3h-3zM300.6 61.8h3v3h-3zM294.5 62.1h3v3h-3zM305.5 66.8h3v3h-3zM292.6 64.9h3v3h-3zM288.7 65.2h3v3h-3zM282.8 64.1h3v3h-3zM256.3 59.6h3v3h-3zM291.8 61.9h3v3h-3zM288.6 61.5h3v3h-3zM307.6 63.8h3v3h-3zM311.6 62h3v3h-3zM247.3 60.7h3v3h-3zM249.8 66.1h3v3h-3zM304.9 59.4h3v3h-3zM256.7 64.3h3v3h-3zM284.4 63.8h3v3h-3zM302.3 63.2h3v3h-3zM255 63.8h3v3h-3zM308.3 62.9h3v3h-3zM296.3 60.9h3v3h-3zM256.7 62.3h3v3h-3zM253.7 63.6h3v3h-3zM311.8 66h3v3h-3zM284.9 57.9h3v3h-3zM291.9 66h3v3h-3zM295.8 63.1h3v3h-3zM255.8 65.5h3v3h-3zM244.8 63.1h3v3h-3zM281.2 59.9h3v3h-3zM304.9 66.1h3v3h-3zM257.1 64.9h3v3h-3zM248.6 62.3h3v3h-3zM286.1 59.9h3v3h-3zM269.6 63h3v3h-3zM247.8 57.5h3v3h-3zM296.6 61.1h3v3h-3zM254.1 63h3v3h-3zM268.6 57.6h3v3h-3zM251.5 64.5h3v3h-3zM273 57.1h3v3h-3zM270.5 65h3v3h-3zM288.4 59.6h3v3h-3zM302.3 60.2h3v3h-3zM283.7 60.8h3v3h-3zM295.8 60.4h3v3h-3zM255.8 65.1h3v3h-3zM258.6 57.6h3v3h-3zM292.6 58h3v3h-3zM297.1 56h3v3h-3zM246.4 61.7h3v3h-3zM277.8 57.7h3v3h-3zM290 59.6h3v3h-3zM312.9 64.3h3v3h-3zM243.9 64.5h3v3h-3zM244.9 61.2h3v3h-3zM293.6 61.1h3v3h-3zM260.2 56.8h3v3h-3zM299.7 59.5h3v3h-3zM289.9 65h3v3h-3zM305.9 65.2h3v3h-3zM264.9 60.6h3v3h-3zM277 57.9h3v3h-3zM290.9 61.2h3v3h-3zM275.4 65.5h3v3h-3zM279.1 66.1h3v3h-3zM310.4 61.9h3v3h-3zM282.8 62.2h3v3h-3zM290.1 66.2h3v3h-3zM244.4 65.6h3v3h-3zM261.8 61.9h3v3h-3zM286.6 65.5h3v3h-3zM313.4 63.7h3v3h-3zM286.2 61.9h3v3h-3zM314.8 62.4h3v3h-3zM268.9 60.2h3v3h-3zM297.1 62.8h3v3h-3zM248.7 57.6h3v3h-3zM299 57.9h3v3h-3zM313.9 60.1h3v3h-3zM306.7 62.9h3v3h-3zM297.2 62.6h3v3h-3zM258.5 57.7h3v3h-3zM285.4 62.1h3v3h-3zM271.9 55.7h3v3h-3zM284.8 65.4h3v3h-3zM252.6 65.8h3v3h-3zM249.5 64.9h3v3h-3zM270.9 60.4h3v3h-3zM305.3 60.5h3v3h-3zM266.5 65h3v3h-3zM302.6 61.5h3v3h-3zM246.9 64.3h3v3h-3zM306.5 61h3v3h-3zM281 61.6h3v3h-3zM300.5 64.5h3v3h-3zM312.9 64.3h3v3h-3zM249.4 62.7h3v3h-3zM258.1 65.5h3v3h-3zM297.4 60.5h3v3h-3zM287.8 64.1h3v3h-3zM312.1 63.6h3v3h-3zM318.2 61.6h3v3h-3zM305.8 58.7h3v3h-3zM254.1 63.5h3v3h-3zM318.4 62.3h3v3h-3zM245 62.9h3v3h-3zM284.5 61.9h3v3h-3zM253.9 64.8h3v3h-3zM258.5 63.9h3v3h-3zM307.8 61h3v3h-3zM267.2 57.2h3v3h-3zM263.1 61.6h3v3h-3zM285.9 61h3v3h-3zM300.1 64.6h3v3h-3zM317.7 62.7h3v3h-3zM313.9 61h3v3h-3zM243.2 61.3h3v3h-3zM251.2 63.4h3v3h-3zM301.3 61.8h3v3h-3zM296.7 63h3v3h-3zM275 65.6h3v3h-3zM274.9 60h3v3h-3zM259.1 62h3v3h-3zM280.7 61.9h3v3h-3zM279.1 63h3v3h-3zM311.2 59.2h3v3h-3zM263.2 62.6h3v3h-3zM263.6 63.7h3v3h-3zM286 59.3h3v3h-3zM295.1 60.2h3v3h-3zM246 63h3v3h-3zM287.6 67.8h3v3h-3zM302.5 62.2h3v3h-3zM308.7 63h3v3h-3zM292 60h3v3h-3zM250 65.3h3v3h-3zM244.7 61h3v3h-3zM261.3 63.2h3v3h-3zM316.2 62.2h3v3h-3zM261.8 64h3v3h-3zM305 59.7h3v3h-3zM308 65.8h3v3h-3zM299.5 63.2h3v3h-3zM314.6 61.5h3v3h-3zM261.5 63.9h3v3h-3zM267.4 56.8h3v3h-3z" fill="#0000ff"/>
</g>
<path d="M244.5 84.5v-4M244.5 1.5v4M258.3 84.5v-4M258.3 1.5v4M272.2 84.5v-4M272.2 1.5v4M286 84.5v-4M286 1.5v4M299.9 84.5v-4M299.9 1.5v4M313.7 84.5v-4M313.7 1.5v4M237.7 62.3h2M327.9 62.3h-2M237.7 50.2h4M327.9 50.2h-4M237.7 38h2M327.9 38h-2M237.7 25.8h4M327.9 25.8h-4M237.7 13.7h2M327.9 13.7h-2M237.7 74.5h4M327.9 74.5h-4" stroke="#5e5e5e" stroke-width="1" fill="none"/>
<path d="M237.2 1.5H328.4" stroke="#5e5e5e" stroke-width="1"/>
<path d="M237.7 1.5V84.5H327.9V1.5" stroke="#5e5e5e" stroke-width="1" fill="none"/>
<text x="328.2" y="15.3" text-anchor="end" class="ttl">MEO  C21</text>
<path d="M339.6 74.5H428M339.6 62.5H428M339.6 50.5H428M339.6 37.5H428M339.6 25.5H428M339.6 13.5H428" stroke="#c6c6c6" stroke-width="1" stroke-dasharray="1.3 1.97" stroke-dashoffset="1" fill="none"/>
<clipPath id="kC22"><rect x="338.7" y="1.5" width="90.3" height="83"/></clipPath><g clip-path="url(#kC22)">
<path d="M345.6 60L345.8 57.5L350.1 60.5L355.3 62.1L362.2 63.8L368.2 62.1L372.5 60L379.5 60.8L386.4 61.9L393.3 59L399.3 59.7L407.1 63.5L414 60.8L420.9 60L421.9 60.8L421.9 64.7L420.9 65.7L414 67.8L407.1 69.2L399.3 66.3L393.3 67.3L386.4 69.1L379.5 67.8L372.5 66.9L368.2 68.2L362.2 69.9L355.3 68.2L350.1 67.1L345.8 65L345.6 65.7 Z" fill="#0000ff"/>
<path d="M416.7 56.4l3.8 3.8m0 -3.8l-3.8 3.8M348.6 64.7l3.8 3.8m0 -3.8l-3.8 3.8M418.8 57.6l3.8 3.8m0 -3.8l-3.8 3.8M410.6 67.5l3.8 3.8m0 -3.8l-3.8 3.8M382.4 56.8l3.8 3.8m0 -3.8l-3.8 3.8M370.5 65.8l3.8 3.8m0 -3.8l-3.8 3.8M359 59.6l3.8 3.8m0 -3.8l-3.8 3.8M415.8 65.4l3.8 3.8m0 -3.8l-3.8 3.8M383.2 57.4l3.8 3.8m0 -3.8l-3.8 3.8M382.3 68.7l3.8 3.8m0 -3.8l-3.8 3.8M393.2 55.2l3.8 3.8m0 -3.8l-3.8 3.8M414.3 66.6l3.8 3.8m0 -3.8l-3.8 3.8M397.6 56.8l3.8 3.8m0 -3.8l-3.8 3.8M375.4 66.7l3.8 3.8m0 -3.8l-3.8 3.8M363.8 60.1l3.8 3.8m0 -3.8l-3.8 3.8M406.1 67.5l3.8 3.8m0 -3.8l-3.8 3.8M393.1 55.7l3.8 3.8m0 -3.8l-3.8 3.8M367.9 66.6l3.8 3.8m0 -3.8l-3.8 3.8M410.4 57.5l3.8 3.8m0 -3.8l-3.8 3.8M349.9 65.4l3.8 3.8m0 -3.8l-3.8 3.8M350.5 57.1l3.8 3.8m0 -3.8l-3.8 3.8M348.6 66.5l3.8 3.8m0 -3.8l-3.8 3.8M356.9 58.1l3.8 3.8m0 -3.8l-3.8 3.8M347.6 64.5l3.8 3.8m0 -3.8l-3.8 3.8M406.6 58.3l3.8 3.8m0 -3.8l-3.8 3.8M372.2 66.9l3.8 3.8m0 -3.8l-3.8 3.8M406.8 58.8l3.8 3.8m0 -3.8l-3.8 3.8M344.9 65.4l3.8 3.8m0 -3.8l-3.8 3.8M393.4 55.7l3.8 3.8m0 -3.8l-3.8 3.8M396.5 65.9l3.8 3.8m0 -3.8l-3.8 3.8M390.9 54.8l3.8 3.8m0 -3.8l-3.8 3.8M391.1 65.8l3.8 3.8m0 -3.8l-3.8 3.8M362.7 60l3.8 3.8m0 -3.8l-3.8 3.8M414.9 64.8l3.8 3.8m0 -3.8l-3.8 3.8M358.1 59.2l3.8 3.8m0 -3.8l-3.8 3.8M386.6 68.7l3.8 3.8m0 -3.8l-3.8 3.8M355.8 60.2l3.8 3.8m0 -3.8l-3.8 3.8M380.6 66.2l3.8 3.8m0 -3.8l-3.8 3.8M383.2 57l3.8 3.8m0 -3.8l-3.8 3.8M374.3 67.3l3.8 3.8m0 -3.8l-3.8 3.8M346.1 54.4l3.8 3.8m0 -3.8l-3.8 3.8M385.4 67.6l3.8 3.8m0 -3.8l-3.8 3.8M381.4 57.6l3.8 3.8m0 -3.8l-3.8 3.8M378.9 66l3.8 3.8m0 -3.8l-3.8 3.8M385.9 55.7l3.8 3.8m0 -3.8l-3.8 3.8M370.2 66.6l3.8 3.8m0 -3.8l-3.8 3.8M362.9 58.7l3.8 3.8m0 -3.8l-3.8 3.8M358.2 66.7l3.8 3.8m0 -3.8l-3.8 3.8M387.7 55.1l3.8 3.8m0 -3.8l-3.8 3.8M399.4 64.6l3.8 3.8m0 -3.8l-3.8 3.8M352.9 58.6l3.8 3.8m0 -3.8l-3.8 3.8M390.7 66.4l3.8 3.8m0 -3.8l-3.8 3.8M355.3 59.8l3.8 3.8m0 -3.8l-3.8 3.8M390.9 66.8l3.8 3.8m0 -3.8l-3.8 3.8M354.1 58.2l3.8 3.8m0 -3.8l-3.8 3.8M390.7 66l3.8 3.8m0 -3.8l-3.8 3.8M386.3 57.6l3.8 3.8m0 -3.8l-3.8 3.8M374.7 66.5l3.8 3.8m0 -3.8l-3.8 3.8M375.1 55.4l3.8 3.8m0 -3.8l-3.8 3.8M385.4 66.9l3.8 3.8m0 -3.8l-3.8 3.8M411.8 57.9l3.8 3.8m0 -3.8l-3.8 3.8M413.8 67l3.8 3.8m0 -3.8l-3.8 3.8M362.6 59.8l3.8 3.8m0 -3.8l-3.8 3.8M400.6 66l3.8 3.8m0 -3.8l-3.8 3.8M396.8 56l3.8 3.8m0 -3.8l-3.8 3.8M349.2 64.9l3.8 3.8m0 -3.8l-3.8 3.8M412.4 57.7l3.8 3.8m0 -3.8l-3.8 3.8M398.6 65.5l3.8 3.8m0 -3.8l-3.8 3.8M404.4 60.8l3.8 3.8m0 -3.8l-3.8 3.8M401.1 66.7l3.8 3.8m0 -3.8l-3.8 3.8M347.4 55.4l3.8 3.8m0 -3.8l-3.8 3.8M369.2 66l3.8 3.8m0 -3.8l-3.8 3.8M366 59.3l3.8 3.8m0 -3.8l-3.8 3.8M419.4 63.6l3.8 3.8m0 -3.8l-3.8 3.8M405 59.6l3.8 3.8m0 -3.8l-3.8 3.8M403.3 66.4l3.8 3.8m0 -3.8l-3.8 3.8M370.4 55.2l3.8 3.8m0 -3.8l-3.8 3.8M384.3 67.6l3.8 3.8m0 -3.8l-3.8 3.8M347.3 35l3.8 3.8m0 -3.8l-3.8 3.8M370.6 46.3l3.8 3.8m0 -3.8l-3.8 3.8M368.6 50.4l3.8 3.8m0 -3.8l-3.8 3.8" stroke="#0000ff" stroke-width="0.85" fill="none"/>
<path d="M417.5 57.1h2.3v2.3h-2.3zM349.3 65.5h2.3v2.3h-2.3zM419.5 58.4h2.3v2.3h-2.3zM411.3 68.2h2.3v2.3h-2.3zM383.1 57.6h2.3v2.3h-2.3zM371.2 66.6h2.3v2.3h-2.3zM359.7 60.4h2.3v2.3h-2.3zM416.5 66.2h2.3v2.3h-2.3zM384 58.1h2.3v2.3h-2.3zM383 69.4h2.3v2.3h-2.3zM393.9 55.9h2.3v2.3h-2.3zM415.1 67.3h2.3v2.3h-2.3zM398.3 57.5h2.3v2.3h-2.3zM376.1 67.5h2.3v2.3h-2.3zM364.6 60.8h2.3v2.3h-2.3zM406.9 68.2h2.3v2.3h-2.3zM393.9 56.5h2.3v2.3h-2.3zM368.7 67.3h2.3v2.3h-2.3zM411.2 58.3h2.3v2.3h-2.3zM350.7 66.1h2.3v2.3h-2.3zM351.2 57.9h2.3v2.3h-2.3zM349.3 67.3h2.3v2.3h-2.3zM357.6 58.8h2.3v2.3h-2.3zM348.4 65.2h2.3v2.3h-2.3zM407.4 59h2.3v2.3h-2.3zM372.9 67.6h2.3v2.3h-2.3zM407.6 59.5h2.3v2.3h-2.3zM345.6 66.2h2.3v2.3h-2.3zM394.2 56.5h2.3v2.3h-2.3zM397.2 66.7h2.3v2.3h-2.3zM391.6 55.5h2.3v2.3h-2.3zM391.9 66.6h2.3v2.3h-2.3zM363.4 60.8h2.3v2.3h-2.3zM415.6 65.6h2.3v2.3h-2.3zM358.9 59.9h2.3v2.3h-2.3zM387.4 69.4h2.3v2.3h-2.3zM356.6 60.9h2.3v2.3h-2.3zM381.3 67h2.3v2.3h-2.3zM384 57.8h2.3v2.3h-2.3zM375 68.1h2.3v2.3h-2.3zM346.9 55.2h2.3v2.3h-2.3zM386.2 68.3h2.3v2.3h-2.3zM382.1 58.4h2.3v2.3h-2.3zM379.6 66.7h2.3v2.3h-2.3zM386.7 56.5h2.3v2.3h-2.3zM370.9 67.3h2.3v2.3h-2.3zM363.7 59.5h2.3v2.3h-2.3zM358.9 67.5h2.3v2.3h-2.3zM388.4 55.9h2.3v2.3h-2.3zM400.2 65.4h2.3v2.3h-2.3zM353.6 59.4h2.3v2.3h-2.3zM391.4 67.1h2.3v2.3h-2.3zM356 60.5h2.3v2.3h-2.3zM391.6 67.5h2.3v2.3h-2.3zM354.8 59h2.3v2.3h-2.3zM391.5 66.7h2.3v2.3h-2.3zM387.1 58.3h2.3v2.3h-2.3zM375.5 67.2h2.3v2.3h-2.3zM375.9 56.2h2.3v2.3h-2.3zM386.2 67.7h2.3v2.3h-2.3zM412.5 58.6h2.3v2.3h-2.3zM414.5 67.8h2.3v2.3h-2.3zM363.3 60.5h2.3v2.3h-2.3zM401.4 66.7h2.3v2.3h-2.3zM397.6 56.8h2.3v2.3h-2.3zM349.9 65.6h2.3v2.3h-2.3zM413.2 58.4h2.3v2.3h-2.3zM399.3 66.2h2.3v2.3h-2.3zM405.2 61.5h2.3v2.3h-2.3zM401.8 67.5h2.3v2.3h-2.3zM348.2 56.1h2.3v2.3h-2.3zM369.9 66.8h2.3v2.3h-2.3zM366.8 60h2.3v2.3h-2.3zM420.2 64.4h2.3v2.3h-2.3zM405.7 60.3h2.3v2.3h-2.3zM404.1 67.2h2.3v2.3h-2.3zM371.2 56h2.3v2.3h-2.3zM385.1 68.4h2.3v2.3h-2.3zM348.1 35.8h2.3v2.3h-2.3zM371.4 47.1h2.3v2.3h-2.3zM369.4 51.1h2.3v2.3h-2.3zM391.3 55.2h3v3h-3zM369.2 63.3h3v3h-3zM391.2 57.7h3v3h-3zM387.8 58.7h3v3h-3zM349.8 62.9h3v3h-3zM387.7 63.4h3v3h-3zM393 62h3v3h-3zM367.1 60.5h3v3h-3zM369.6 61.3h3v3h-3zM414 61.8h3v3h-3zM389.9 66.6h3v3h-3zM353.8 60.3h3v3h-3zM384.1 66.4h3v3h-3zM411.6 65h3v3h-3zM366.9 64.6h3v3h-3zM350.6 64.4h3v3h-3zM358.6 64.8h3v3h-3zM363.5 64h3v3h-3zM382 57.9h3v3h-3zM363 61.1h3v3h-3zM395.3 58.6h3v3h-3zM404.6 60.9h3v3h-3zM359.3 64h3v3h-3zM384.5 59.9h3v3h-3zM380.4 66.7h3v3h-3zM391.7 54.9h3v3h-3zM404.7 66.9h3v3h-3zM388.9 60.1h3v3h-3zM350.1 65.6h3v3h-3zM357.6 59.9h3v3h-3zM359.2 63.2h3v3h-3zM374 66.2h3v3h-3zM399.3 58.8h3v3h-3zM388.5 62h3v3h-3zM378.6 59.9h3v3h-3zM387.7 63h3v3h-3zM390.2 63.6h3v3h-3zM353.8 62.7h3v3h-3zM405.3 62.4h3v3h-3zM402.8 62.9h3v3h-3zM350 61.5h3v3h-3zM407.5 62.7h3v3h-3zM379.7 66h3v3h-3zM354.4 62h3v3h-3zM366.6 66.8h3v3h-3zM351.1 60.4h3v3h-3zM389.6 61.9h3v3h-3zM372.3 59.4h3v3h-3zM399.1 59.1h3v3h-3zM406.7 65.4h3v3h-3zM382.7 63.5h3v3h-3zM391.1 64.1h3v3h-3zM356.6 61.8h3v3h-3zM406 66.1h3v3h-3zM357.2 60h3v3h-3zM351.2 60.4h3v3h-3zM377.9 66.3h3v3h-3zM353.7 64.6h3v3h-3zM360.3 62.3h3v3h-3zM355.5 64.9h3v3h-3zM413.6 63.9h3v3h-3zM395.4 61h3v3h-3zM418 61.4h3v3h-3zM376.5 62.6h3v3h-3zM375 61.9h3v3h-3zM393.5 61.3h3v3h-3zM359.9 60.8h3v3h-3zM355.9 62h3v3h-3zM386.4 67.3h3v3h-3zM344.4 57.3h3v3h-3zM375 62.2h3v3h-3zM385.6 66h3v3h-3zM411.5 65.3h3v3h-3zM381.2 64.7h3v3h-3zM396.8 59.6h3v3h-3zM370.5 60.6h3v3h-3zM397 60h3v3h-3zM390.7 59.8h3v3h-3zM405.8 61.8h3v3h-3zM415.5 58.6h3v3h-3zM399.4 59.6h3v3h-3zM418.7 60.1h3v3h-3zM378.1 59.4h3v3h-3zM383.4 62.6h3v3h-3zM412.8 58.2h3v3h-3zM415.4 60.4h3v3h-3zM410.1 62h3v3h-3zM383.3 63.8h3v3h-3zM420.1 58.8h3v3h-3zM363.7 64.1h3v3h-3zM392 65.5h3v3h-3zM412.1 62.8h3v3h-3zM358.2 66.4h3v3h-3zM345.5 55.8h3v3h-3zM414.1 62.4h3v3h-3zM395.5 61h3v3h-3zM399.6 64.2h3v3h-3zM365.2 63.7h3v3h-3zM346.1 62.3h3v3h-3zM408.8 59.5h3v3h-3zM368.4 66h3v3h-3zM391.7 58.1h3v3h-3zM361.6 66.5h3v3h-3zM399.2 63.5h3v3h-3zM404.2 61.6h3v3h-3zM385.2 62.5h3v3h-3zM415.3 63.6h3v3h-3zM401.6 64.9h3v3h-3zM370.1 56.7h3v3h-3zM373.3 63.3h3v3h-3zM382.3 63.4h3v3h-3zM382.4 64h3v3h-3zM372.1 65h3v3h-3zM361.5 62.8h3v3h-3zM359.1 62.3h3v3h-3zM386.3 65.5h3v3h-3zM376.5 63.4h3v3h-3zM358.1 64.2h3v3h-3zM353.2 64.2h3v3h-3zM357.2 65.7h3v3h-3zM379.8 62.7h3v3h-3zM374.2 63.1h3v3h-3zM374.7 63.8h3v3h-3zM377.5 60h3v3h-3zM419.7 61.9h3v3h-3zM371.3 65.8h3v3h-3zM406.3 64.7h3v3h-3zM381.9 58.3h3v3h-3zM369.3 62.6h3v3h-3zM417.2 59.5h3v3h-3zM367 58.5h3v3h-3zM344.2 59h3v3h-3zM371.4 65h3v3h-3zM344.6 60.6h3v3h-3zM361.5 67.6h3v3h-3zM371.7 56.9h3v3h-3zM419.8 58.2h3v3h-3zM361.3 67.9h3v3h-3zM356.8 65.1h3v3h-3zM357.7 64h3v3h-3zM381.2 62.9h3v3h-3zM371.8 59h3v3h-3zM417.2 57.6h3v3h-3zM404.9 64h3v3h-3zM415.8 62.9h3v3h-3zM388.8 67.2h3v3h-3zM405.9 63.8h3v3h-3zM400.1 64.9h3v3h-3zM411.2 62.8h3v3h-3zM387.7 67.4h3v3h-3zM344.4 62h3v3h-3zM387.4 59.4h3v3h-3zM368.6 59.1h3v3h-3zM383.1 64.7h3v3h-3zM381.7 57.4h3v3h-3zM366.6 66.1h3v3h-3zM409 61.9h3v3h-3zM416.2 63.6h3v3h-3zM416 62.9h3v3h-3zM344.8 60.8h3v3h-3zM403.4 67.4h3v3h-3zM364.5 66.9h3v3h-3zM373.6 56.8h3v3h-3zM361.1 66.2h3v3h-3zM394 57.2h3v3h-3zM360.9 63.6h3v3h-3zM394.9 63.8h3v3h-3zM351.3 66.5h3v3h-3zM412.2 66.6h3v3h-3zM386.9 58.7h3v3h-3zM356.4 67.8h3v3h-3zM389.6 60.6h3v3h-3zM345 57h3v3h-3zM365.9 67.2h3v3h-3zM360.9 65.8h3v3h-3zM388.2 66.8h3v3h-3zM370.7 65h3v3h-3zM351.6 64.8h3v3h-3zM420 62.1h3v3h-3zM389.9 57.7h3v3h-3zM362.9 60.2h3v3h-3zM361.1 65.8h3v3h-3zM382.7 61h3v3h-3zM373.1 56.3h3v3h-3zM385.1 63.1h3v3h-3zM345.7 58.7h3v3h-3zM356 62.3h3v3h-3zM396.3 60.2h3v3h-3zM369.6 64.1h3v3h-3zM413.6 62.2h3v3h-3zM366 61h3v3h-3zM344.9 55.2h3v3h-3zM418.1 59.1h3v3h-3zM359.4 64.3h3v3h-3zM406.2 60.6h3v3h-3zM368.5 60.9h3v3h-3zM362.4 60.6h3v3h-3z" fill="#0000ff"/>
</g>
<path d="M345.5 84.5v-4M345.5 1.5v4M359.4 84.5v-4M359.4 1.5v4M373.2 84.5v-4M373.2 1.5v4M387.1 84.5v-4M387.1 1.5v4M400.9 84.5v-4M400.9 1.5v4M414.8 84.5v-4M414.8 1.5v4M338.7 62.3h2M429 62.3h-2M338.7 50.2h4M429 50.2h-4M338.7 38h2M429 38h-2M338.7 25.8h4M429 25.8h-4M338.7 13.7h2M429 13.7h-2M338.7 74.5h4M429 74.5h-4" stroke="#5e5e5e" stroke-width="1" fill="none"/>
<path d="M338.2 1.5H429.5" stroke="#5e5e5e" stroke-width="1"/>
<path d="M338.7 1.5V84.5H429V1.5" stroke="#5e5e5e" stroke-width="1" fill="none"/>
<text x="429.3" y="15.3" text-anchor="end" class="ttl">MEO  C22</text>
<path d="M440.7 74.5H529.2M440.7 62.5H529.2M440.7 50.5H529.2M440.7 37.5H529.2M440.7 25.5H529.2M440.7 13.5H529.2" stroke="#c6c6c6" stroke-width="1" stroke-dasharray="1.3 1.97" stroke-dashoffset="1" fill="none"/>
<clipPath id="kC23"><rect x="439.8" y="1.5" width="90.4" height="83"/></clipPath><g clip-path="url(#kC23)">
<path d="M447.2 58.5L449.4 59.1L454.5 64L459.7 60.8L464.9 58.6L470.1 57.9L475.3 60.8L480.5 64.4L483.9 63.4L489.1 59.6L494.3 59.7L499.4 61.9L504.6 64L509.8 61.4L514.1 56.7L518.4 61.1L521 62.6L521.2 59.3L521.2 65.9L521 67.5L518.4 66.4L514.1 63.3L509.8 67.1L504.6 69.7L499.4 68.5L494.3 65.3L489.1 66.6L483.9 69.5L480.5 69.2L475.3 66.9L470.1 63.6L464.9 64.5L459.7 66.9L454.5 69.7L449.4 65.2L447.2 63.8 Z" fill="#0000ff"/>
<path d="M500.5 59.8l3.8 3.8m0 -3.8l-3.8 3.8M467.3 62.8l3.8 3.8m0 -3.8l-3.8 3.8M482.9 58.5l3.8 3.8m0 -3.8l-3.8 3.8M472.7 64.8l3.8 3.8m0 -3.8l-3.8 3.8M474.7 58.8l3.8 3.8m0 -3.8l-3.8 3.8M502 67.1l3.8 3.8m0 -3.8l-3.8 3.8M517.3 57.5l3.8 3.8m0 -3.8l-3.8 3.8M499.3 68.7l3.8 3.8m0 -3.8l-3.8 3.8M482 59.7l3.8 3.8m0 -3.8l-3.8 3.8M475.3 65.9l3.8 3.8m0 -3.8l-3.8 3.8M511.5 55l3.8 3.8m0 -3.8l-3.8 3.8M475.1 67.3l3.8 3.8m0 -3.8l-3.8 3.8M457.7 57.9l3.8 3.8m0 -3.8l-3.8 3.8M450.2 67l3.8 3.8m0 -3.8l-3.8 3.8M466.4 53.6l3.8 3.8m0 -3.8l-3.8 3.8M490.5 65.2l3.8 3.8m0 -3.8l-3.8 3.8M489.4 55.7l3.8 3.8m0 -3.8l-3.8 3.8M517.7 65l3.8 3.8m0 -3.8l-3.8 3.8M466.8 54.1l3.8 3.8m0 -3.8l-3.8 3.8M478.1 67.8l3.8 3.8m0 -3.8l-3.8 3.8M470.3 55.8l3.8 3.8m0 -3.8l-3.8 3.8M480.8 68.3l3.8 3.8m0 -3.8l-3.8 3.8M514.1 55l3.8 3.8m0 -3.8l-3.8 3.8M515 63l3.8 3.8m0 -3.8l-3.8 3.8M457.5 57.5l3.8 3.8m0 -3.8l-3.8 3.8M448 64.2l3.8 3.8m0 -3.8l-3.8 3.8M486.7 55.1l3.8 3.8m0 -3.8l-3.8 3.8M461.2 63.4l3.8 3.8m0 -3.8l-3.8 3.8M505.9 60l3.8 3.8m0 -3.8l-3.8 3.8M447.8 63.8l3.8 3.8m0 -3.8l-3.8 3.8M518.4 59.7l3.8 3.8m0 -3.8l-3.8 3.8M485 66.7l3.8 3.8m0 -3.8l-3.8 3.8M455 58.6l3.8 3.8m0 -3.8l-3.8 3.8M476.5 65.5l3.8 3.8m0 -3.8l-3.8 3.8M483.5 57.3l3.8 3.8m0 -3.8l-3.8 3.8M490.1 65.3l3.8 3.8m0 -3.8l-3.8 3.8M473.5 57.8l3.8 3.8m0 -3.8l-3.8 3.8M511 62.7l3.8 3.8m0 -3.8l-3.8 3.8M454.2 59.1l3.8 3.8m0 -3.8l-3.8 3.8M490.7 65.2l3.8 3.8m0 -3.8l-3.8 3.8M460.1 57.5l3.8 3.8m0 -3.8l-3.8 3.8M446.8 64.4l3.8 3.8m0 -3.8l-3.8 3.8M488.2 56.9l3.8 3.8m0 -3.8l-3.8 3.8M501.4 68.9l3.8 3.8m0 -3.8l-3.8 3.8M513.4 55.1l3.8 3.8m0 -3.8l-3.8 3.8M461.6 63.5l3.8 3.8m0 -3.8l-3.8 3.8M483.2 57.9l3.8 3.8m0 -3.8l-3.8 3.8M514.1 62.7l3.8 3.8m0 -3.8l-3.8 3.8M455.8 57.9l3.8 3.8m0 -3.8l-3.8 3.8M453.9 66.7l3.8 3.8m0 -3.8l-3.8 3.8M516.8 57.7l3.8 3.8m0 -3.8l-3.8 3.8M452.7 67.2l3.8 3.8m0 -3.8l-3.8 3.8M498.9 57.8l3.8 3.8m0 -3.8l-3.8 3.8M508.6 64.8l3.8 3.8m0 -3.8l-3.8 3.8M463.9 54l3.8 3.8m0 -3.8l-3.8 3.8M493 64.5l3.8 3.8m0 -3.8l-3.8 3.8M465.2 54.1l3.8 3.8m0 -3.8l-3.8 3.8M450 65.1l3.8 3.8m0 -3.8l-3.8 3.8M480.2 59.5l3.8 3.8m0 -3.8l-3.8 3.8M451.2 67.5l3.8 3.8m0 -3.8l-3.8 3.8M476.5 60.9l3.8 3.8m0 -3.8l-3.8 3.8M464.5 63l3.8 3.8m0 -3.8l-3.8 3.8M457.3 57.7l3.8 3.8m0 -3.8l-3.8 3.8M462.7 62.5l3.8 3.8m0 -3.8l-3.8 3.8M519.2 58.4l3.8 3.8m0 -3.8l-3.8 3.8M498.8 67l3.8 3.8m0 -3.8l-3.8 3.8M500.2 59.7l3.8 3.8m0 -3.8l-3.8 3.8M456.9 65.4l3.8 3.8m0 -3.8l-3.8 3.8M514.9 57.3l3.8 3.8m0 -3.8l-3.8 3.8M455.5 67l3.8 3.8m0 -3.8l-3.8 3.8M476.3 59l3.8 3.8m0 -3.8l-3.8 3.8M505.4 65.9l3.8 3.8m0 -3.8l-3.8 3.8M496.2 56.5l3.8 3.8m0 -3.8l-3.8 3.8M457 64.7l3.8 3.8m0 -3.8l-3.8 3.8M454.1 60.9l3.8 3.8m0 -3.8l-3.8 3.8M501.1 69l3.8 3.8m0 -3.8l-3.8 3.8M452.1 5l3.8 3.8m0 -3.8l-3.8 3.8M447.4 7.1l3.8 3.8m0 -3.8l-3.8 3.8M446.8 8.4l3.8 3.8m0 -3.8l-3.8 3.8M446.8 17l3.8 3.8m0 -3.8l-3.8 3.8M447.9 26.5l3.8 3.8m0 -3.8l-3.8 3.8M446.1 33.6l3.8 3.8m0 -3.8l-3.8 3.8M445.3 37.9l3.8 3.8m0 -3.8l-3.8 3.8M446.8 36.8l3.8 3.8m0 -3.8l-3.8 3.8M446.1 45.8l3.8 3.8m0 -3.8l-3.8 3.8M448.3 45l3.8 3.8m0 -3.8l-3.8 3.8M471.6 40.5l3.8 3.8m0 -3.8l-3.8 3.8M469.6 49.2l3.8 3.8m0 -3.8l-3.8 3.8" stroke="#0000ff" stroke-width="0.85" fill="none"/>
<path d="M501.3 60.5h2.3v2.3h-2.3zM468.1 63.5h2.3v2.3h-2.3zM483.6 59.3h2.3v2.3h-2.3zM473.5 65.6h2.3v2.3h-2.3zM475.4 59.6h2.3v2.3h-2.3zM502.8 67.9h2.3v2.3h-2.3zM518.1 58.2h2.3v2.3h-2.3zM500.1 69.4h2.3v2.3h-2.3zM482.8 60.5h2.3v2.3h-2.3zM476.1 66.7h2.3v2.3h-2.3zM512.2 55.7h2.3v2.3h-2.3zM475.8 68h2.3v2.3h-2.3zM458.5 58.7h2.3v2.3h-2.3zM450.9 67.8h2.3v2.3h-2.3zM467.2 54.4h2.3v2.3h-2.3zM491.3 66h2.3v2.3h-2.3zM490.2 56.4h2.3v2.3h-2.3zM518.4 65.7h2.3v2.3h-2.3zM467.5 54.9h2.3v2.3h-2.3zM478.9 68.6h2.3v2.3h-2.3zM471 56.5h2.3v2.3h-2.3zM481.6 69h2.3v2.3h-2.3zM514.9 55.8h2.3v2.3h-2.3zM515.8 63.7h2.3v2.3h-2.3zM458.2 58.2h2.3v2.3h-2.3zM448.7 64.9h2.3v2.3h-2.3zM487.4 55.8h2.3v2.3h-2.3zM462 64.2h2.3v2.3h-2.3zM506.7 60.7h2.3v2.3h-2.3zM448.5 64.6h2.3v2.3h-2.3zM519.1 60.4h2.3v2.3h-2.3zM485.8 67.5h2.3v2.3h-2.3zM455.7 59.3h2.3v2.3h-2.3zM477.3 66.3h2.3v2.3h-2.3zM484.2 58.1h2.3v2.3h-2.3zM490.9 66.1h2.3v2.3h-2.3zM474.2 58.6h2.3v2.3h-2.3zM511.8 63.4h2.3v2.3h-2.3zM454.9 59.8h2.3v2.3h-2.3zM491.4 65.9h2.3v2.3h-2.3zM460.9 58.2h2.3v2.3h-2.3zM447.5 65.1h2.3v2.3h-2.3zM489 57.6h2.3v2.3h-2.3zM502.1 69.6h2.3v2.3h-2.3zM514.2 55.9h2.3v2.3h-2.3zM462.3 64.3h2.3v2.3h-2.3zM483.9 58.7h2.3v2.3h-2.3zM514.8 63.4h2.3v2.3h-2.3zM456.5 58.7h2.3v2.3h-2.3zM454.6 67.4h2.3v2.3h-2.3zM517.5 58.5h2.3v2.3h-2.3zM453.5 67.9h2.3v2.3h-2.3zM499.7 58.5h2.3v2.3h-2.3zM509.3 65.6h2.3v2.3h-2.3zM464.6 54.8h2.3v2.3h-2.3zM493.8 65.3h2.3v2.3h-2.3zM465.9 54.8h2.3v2.3h-2.3zM450.8 65.9h2.3v2.3h-2.3zM480.9 60.3h2.3v2.3h-2.3zM452 68.3h2.3v2.3h-2.3zM477.2 61.7h2.3v2.3h-2.3zM465.3 63.8h2.3v2.3h-2.3zM458 58.5h2.3v2.3h-2.3zM463.4 63.3h2.3v2.3h-2.3zM519.9 59.1h2.3v2.3h-2.3zM499.5 67.7h2.3v2.3h-2.3zM500.9 60.4h2.3v2.3h-2.3zM457.6 66.1h2.3v2.3h-2.3zM515.6 58.1h2.3v2.3h-2.3zM456.3 67.8h2.3v2.3h-2.3zM477 59.8h2.3v2.3h-2.3zM506.1 66.6h2.3v2.3h-2.3zM497 57.3h2.3v2.3h-2.3zM457.8 65.5h2.3v2.3h-2.3zM454.8 61.6h2.3v2.3h-2.3zM501.9 69.7h2.3v2.3h-2.3zM452.9 5.8h2.3v2.3h-2.3zM448.2 7.8h2.3v2.3h-2.3zM447.6 9.2h2.3v2.3h-2.3zM447.6 17.8h2.3v2.3h-2.3zM448.7 27.2h2.3v2.3h-2.3zM446.9 34.4h2.3v2.3h-2.3zM446.1 38.6h2.3v2.3h-2.3zM447.6 37.6h2.3v2.3h-2.3zM446.9 46.6h2.3v2.3h-2.3zM449.1 45.8h2.3v2.3h-2.3zM472.4 41.2h2.3v2.3h-2.3zM470.4 50h2.3v2.3h-2.3zM511.4 58.1h3v3h-3zM496.6 63h3v3h-3zM490.6 59h3v3h-3zM481.9 65.3h3v3h-3zM447 63.1h3v3h-3zM506.5 62.5h3v3h-3zM509.8 59.4h3v3h-3zM448.7 62.2h3v3h-3zM485.4 64.6h3v3h-3zM518.6 60.7h3v3h-3zM471.9 62.6h3v3h-3zM516.5 63.4h3v3h-3zM514.8 58.3h3v3h-3zM506.7 65.7h3v3h-3zM512.7 56.6h3v3h-3zM513.6 59.2h3v3h-3zM451.6 60.2h3v3h-3zM489.7 60.9h3v3h-3zM482.2 60.8h3v3h-3zM478.9 64h3v3h-3zM461 62.9h3v3h-3zM508.1 59.7h3v3h-3zM457.9 62h3v3h-3zM447.9 61.1h3v3h-3zM486.5 63.8h3v3h-3zM462 57.1h3v3h-3zM512.3 59.2h3v3h-3zM506 65.7h3v3h-3zM515 59.8h3v3h-3zM476.2 61.9h3v3h-3zM479.6 66.6h3v3h-3zM463.8 58.6h3v3h-3zM515.1 63.5h3v3h-3zM478.5 66.4h3v3h-3zM450.6 62.3h3v3h-3zM507.6 62h3v3h-3zM460.4 59.5h3v3h-3zM497.9 62.5h3v3h-3zM470.5 60.8h3v3h-3zM492.8 63.2h3v3h-3zM497.9 62.9h3v3h-3zM511 57.5h3v3h-3zM486.5 58.8h3v3h-3zM486.8 59.9h3v3h-3zM482.7 64.8h3v3h-3zM458.4 59.9h3v3h-3zM455.2 60.6h3v3h-3zM456.5 64.2h3v3h-3zM481.3 68h3v3h-3zM448 58.7h3v3h-3zM491 59.3h3v3h-3zM508.7 61.1h3v3h-3zM510.6 58.4h3v3h-3zM493.9 59.6h3v3h-3zM448 62.9h3v3h-3zM461.1 59.4h3v3h-3zM449 59h3v3h-3zM500.8 60.6h3v3h-3zM513.3 57.8h3v3h-3zM478.1 66.6h3v3h-3zM507.5 61.8h3v3h-3zM450.4 61.3h3v3h-3zM497 60h3v3h-3zM447.7 63.3h3v3h-3zM465 61.9h3v3h-3zM483.8 61.6h3v3h-3zM450.2 59.5h3v3h-3zM479.8 65.3h3v3h-3zM515.8 61.1h3v3h-3zM498.9 61.4h3v3h-3zM489.7 61.2h3v3h-3zM493.6 58.8h3v3h-3zM477 63h3v3h-3zM519.1 63.6h3v3h-3zM450.1 64.7h3v3h-3zM468.2 61.2h3v3h-3zM488.2 62.2h3v3h-3zM449.8 64h3v3h-3zM508.5 58.3h3v3h-3zM490.6 57.4h3v3h-3zM508.7 61.1h3v3h-3zM498 60h3v3h-3zM466.5 56.3h3v3h-3zM486 65.7h3v3h-3zM478.5 63.8h3v3h-3zM453.3 66.6h3v3h-3zM495.4 59.1h3v3h-3zM498 61.6h3v3h-3zM492.1 59.9h3v3h-3zM478.2 63.7h3v3h-3zM447.7 61h3v3h-3zM462.3 63.3h3v3h-3zM498.6 64.6h3v3h-3zM494.1 64.1h3v3h-3zM510.9 61.2h3v3h-3zM495.5 64.2h3v3h-3zM473.3 61.4h3v3h-3zM499.8 67.4h3v3h-3zM452 63.5h3v3h-3zM479.9 63.2h3v3h-3zM476.5 64.3h3v3h-3zM518.8 60.1h3v3h-3zM456.8 65.6h3v3h-3zM459.2 59.2h3v3h-3zM465 58.4h3v3h-3zM447.7 58.2h3v3h-3zM463.3 58.8h3v3h-3zM516.7 59.5h3v3h-3zM482.7 61.9h3v3h-3zM452.9 66.7h3v3h-3zM452.6 65.9h3v3h-3zM478.6 65.1h3v3h-3zM458.4 64.9h3v3h-3zM451.6 63h3v3h-3zM479.3 63.5h3v3h-3zM510.5 59.5h3v3h-3zM447.9 59.2h3v3h-3zM454.6 62.3h3v3h-3zM497.5 59.1h3v3h-3zM485.9 63.2h3v3h-3zM518.1 65h3v3h-3zM511.5 63.1h3v3h-3zM506.8 61.6h3v3h-3zM497.8 64.3h3v3h-3zM477.5 62.7h3v3h-3zM516.9 64.3h3v3h-3zM477.9 63.6h3v3h-3zM502.6 64.7h3v3h-3zM461.8 61.1h3v3h-3zM460.4 56.8h3v3h-3zM495.4 63.9h3v3h-3zM479.4 62.7h3v3h-3zM518.3 61.3h3v3h-3zM493.1 63.7h3v3h-3zM512.7 60.7h3v3h-3zM494 63.6h3v3h-3zM455.4 62h3v3h-3zM450.1 60.9h3v3h-3zM474 64.2h3v3h-3zM447.1 56.8h3v3h-3zM464.1 57h3v3h-3zM458 61.7h3v3h-3zM471.9 62.6h3v3h-3zM458 62.6h3v3h-3zM484.6 62.9h3v3h-3zM490.3 64h3v3h-3zM464 56.4h3v3h-3zM451.7 64.5h3v3h-3zM484.6 63.2h3v3h-3zM495.5 58.4h3v3h-3zM500.8 61.7h3v3h-3zM508.4 58.4h3v3h-3zM499.8 68.1h3v3h-3zM489 59h3v3h-3zM476.3 64.1h3v3h-3zM497.7 60h3v3h-3zM469.2 60.3h3v3h-3zM514.5 57h3v3h-3zM450.9 61.8h3v3h-3zM478.2 64.5h3v3h-3zM461.1 59.2h3v3h-3zM517.5 60.7h3v3h-3zM487.1 61.5h3v3h-3zM484.1 64.5h3v3h-3zM508.7 63.1h3v3h-3zM464.1 61.5h3v3h-3zM452.2 61.9h3v3h-3zM501 61.2h3v3h-3zM480.7 64.1h3v3h-3zM480.5 66.9h3v3h-3zM468.5 57.4h3v3h-3z" fill="#0000ff"/>
</g>
<path d="M446.6 84.5v-4M446.6 1.5v4M460.5 84.5v-4M460.5 1.5v4M474.3 84.5v-4M474.3 1.5v4M488.2 84.5v-4M488.2 1.5v4M502 84.5v-4M502 1.5v4M515.9 84.5v-4M515.9 1.5v4M439.8 62.3h2M530.2 62.3h-2M439.8 50.2h4M530.2 50.2h-4M439.8 38h2M530.2 38h-2M439.8 25.8h4M530.2 25.8h-4M439.8 13.7h2M530.2 13.7h-2M439.8 74.5h4M530.2 74.5h-4" stroke="#5e5e5e" stroke-width="1" fill="none"/>
<path d="M439.3 1.5H530.7" stroke="#5e5e5e" stroke-width="1"/>
<path d="M439.8 1.5V84.5H530.2V1.5" stroke="#5e5e5e" stroke-width="1" fill="none"/>
<text x="530.5" y="15.3" text-anchor="end" class="ttl">MEO  C23</text>
<path d="M36.4 160.5H124.5M36.4 148.5H124.5M36.4 136.5H124.5M36.4 124.5H124.5M36.4 112.5H124.5M36.4 99.5H124.5" stroke="#c6c6c6" stroke-width="1" stroke-dasharray="1.3 1.97" stroke-dashoffset="1" fill="none"/>
<clipPath id="kC24"><rect x="35.5" y="87.9" width="90" height="82.6"/></clipPath><g clip-path="url(#kC24)">
<path d="M43.5 146.3L45.4 148.3L50.5 149.5L54 146.8L57.5 143.7L60.9 142.6L65.2 141.9L69.5 144.2L73 148.8L76.5 150.2L81.6 147.4L86.8 145.7L92 146.8L97.2 150L100.6 149.7L104.1 146.2L108.4 144.6L112.7 144.9L117 147.5L118 149.2L118 152.6L117 150.9L112.7 148.3L108.4 149.6L104.1 151.9L100.6 155.3L97.2 154.9L92 152.1L86.8 150.6L81.6 153.5L76.5 155.5L73 154.5L69.5 149.5L65.2 147.6L60.9 147.2L57.5 148.1L54 152.1L50.5 154.7L45.4 153.1L43.5 150.7 Z" fill="#0000ff"/>
<path d="M56.8 141.7l3.8 3.8m0 -3.8l-3.8 3.8M106.4 147.7l3.8 3.8m0 -3.8l-3.8 3.8M85.7 142.9l3.8 3.8m0 -3.8l-3.8 3.8M107 146.9l3.8 3.8m0 -3.8l-3.8 3.8M45.4 145l3.8 3.8m0 -3.8l-3.8 3.8M111.4 146.8l3.8 3.8m0 -3.8l-3.8 3.8M44.9 144.7l3.8 3.8m0 -3.8l-3.8 3.8M55.2 146.9l3.8 3.8m0 -3.8l-3.8 3.8M101.9 143.6l3.8 3.8m0 -3.8l-3.8 3.8M106.3 148.2l3.8 3.8m0 -3.8l-3.8 3.8M82.8 143.5l3.8 3.8m0 -3.8l-3.8 3.8M107.4 147.3l3.8 3.8m0 -3.8l-3.8 3.8M66.5 140.3l3.8 3.8m0 -3.8l-3.8 3.8M70.2 152.4l3.8 3.8m0 -3.8l-3.8 3.8M112.4 144.9l3.8 3.8m0 -3.8l-3.8 3.8M62.6 145.6l3.8 3.8m0 -3.8l-3.8 3.8M104.3 141.8l3.8 3.8m0 -3.8l-3.8 3.8M80.4 151.2l3.8 3.8m0 -3.8l-3.8 3.8M46.1 145.2l3.8 3.8m0 -3.8l-3.8 3.8M109.1 147.6l3.8 3.8m0 -3.8l-3.8 3.8M42.2 144.9l3.8 3.8m0 -3.8l-3.8 3.8M113.8 147.6l3.8 3.8m0 -3.8l-3.8 3.8M60 139.4l3.8 3.8m0 -3.8l-3.8 3.8M63.2 147.2l3.8 3.8m0 -3.8l-3.8 3.8M49.4 145.6l3.8 3.8m0 -3.8l-3.8 3.8M94 152.7l3.8 3.8m0 -3.8l-3.8 3.8M93.3 145.7l3.8 3.8m0 -3.8l-3.8 3.8M55.2 145.6l3.8 3.8m0 -3.8l-3.8 3.8M50.8 143.6l3.8 3.8m0 -3.8l-3.8 3.8M55 147.3l3.8 3.8m0 -3.8l-3.8 3.8M65.1 139.8l3.8 3.8m0 -3.8l-3.8 3.8M58.5 144l3.8 3.8m0 -3.8l-3.8 3.8M70.2 143.8l3.8 3.8m0 -3.8l-3.8 3.8M92.3 151.8l3.8 3.8m0 -3.8l-3.8 3.8M82.6 142.1l3.8 3.8m0 -3.8l-3.8 3.8M100.1 152.8l3.8 3.8m0 -3.8l-3.8 3.8M63.3 137.4l3.8 3.8m0 -3.8l-3.8 3.8M98.7 153.2l3.8 3.8m0 -3.8l-3.8 3.8M112.7 143.8l3.8 3.8m0 -3.8l-3.8 3.8M50.5 151.6l3.8 3.8m0 -3.8l-3.8 3.8M46.1 146.8l3.8 3.8m0 -3.8l-3.8 3.8M83.6 149.7l3.8 3.8m0 -3.8l-3.8 3.8M105 140.9l3.8 3.8m0 -3.8l-3.8 3.8M108.5 146.6l3.8 3.8m0 -3.8l-3.8 3.8M73.9 146.3l3.8 3.8m0 -3.8l-3.8 3.8M64.6 147.6l3.8 3.8m0 -3.8l-3.8 3.8M83 142.2l3.8 3.8m0 -3.8l-3.8 3.8M63.1 145.2l3.8 3.8m0 -3.8l-3.8 3.8M97.9 145.7l3.8 3.8m0 -3.8l-3.8 3.8M103.8 149.6l3.8 3.8m0 -3.8l-3.8 3.8M66.9 141.6l3.8 3.8m0 -3.8l-3.8 3.8M102.6 149.4l3.8 3.8m0 -3.8l-3.8 3.8M80.3 144.8l3.8 3.8m0 -3.8l-3.8 3.8M42.2 149l3.8 3.8m0 -3.8l-3.8 3.8M82.3 144l3.8 3.8m0 -3.8l-3.8 3.8M81.3 151.6l3.8 3.8m0 -3.8l-3.8 3.8M75.4 145.5l3.8 3.8m0 -3.8l-3.8 3.8M62.2 145.4l3.8 3.8m0 -3.8l-3.8 3.8M54.1 141.1l3.8 3.8m0 -3.8l-3.8 3.8M92.2 150.6l3.8 3.8m0 -3.8l-3.8 3.8M68.3 142.8l3.8 3.8m0 -3.8l-3.8 3.8M49.1 153.5l3.8 3.8m0 -3.8l-3.8 3.8M109.9 141.7l3.8 3.8m0 -3.8l-3.8 3.8M76.6 153.2l3.8 3.8m0 -3.8l-3.8 3.8M104.6 141.7l3.8 3.8m0 -3.8l-3.8 3.8M44.7 151.6l3.8 3.8m0 -3.8l-3.8 3.8M55.3 141.3l3.8 3.8m0 -3.8l-3.8 3.8M96.8 154.2l3.8 3.8m0 -3.8l-3.8 3.8M67 140.3l3.8 3.8m0 -3.8l-3.8 3.8M104.1 149.8l3.8 3.8m0 -3.8l-3.8 3.8M94.6 146.4l3.8 3.8m0 -3.8l-3.8 3.8M76 153.7l3.8 3.8m0 -3.8l-3.8 3.8M48.5 146.1l3.8 3.8m0 -3.8l-3.8 3.8M86.9 150.3l3.8 3.8m0 -3.8l-3.8 3.8M66.6 141.8l3.8 3.8m0 -3.8l-3.8 3.8M82.1 150.1l3.8 3.8m0 -3.8l-3.8 3.8M41 98l3.8 3.8m0 -3.8l-3.8 3.8M41.7 116.8l3.8 3.8m0 -3.8l-3.8 3.8M44 119.5l3.8 3.8m0 -3.8l-3.8 3.8M41 125.8l3.8 3.8m0 -3.8l-3.8 3.8M43.3 124.7l3.8 3.8m0 -3.8l-3.8 3.8M40.9 135.4l3.8 3.8m0 -3.8l-3.8 3.8M43.1 135.4l3.8 3.8m0 -3.8l-3.8 3.8M65.1 131.9l3.8 3.8m0 -3.8l-3.8 3.8M67.1 128.8l3.8 3.8m0 -3.8l-3.8 3.8M53.8 138l3.8 3.8m0 -3.8l-3.8 3.8M60.7 136.2l3.8 3.8m0 -3.8l-3.8 3.8M113.4 136.2l3.8 3.8m0 -3.8l-3.8 3.8" stroke="#0000ff" stroke-width="0.85" fill="none"/>
<path d="M57.5 142.5h2.3v2.3h-2.3zM107.1 148.5h2.3v2.3h-2.3zM86.4 143.6h2.3v2.3h-2.3zM107.8 147.7h2.3v2.3h-2.3zM46.2 145.7h2.3v2.3h-2.3zM112.2 147.6h2.3v2.3h-2.3zM45.7 145.4h2.3v2.3h-2.3zM56 147.7h2.3v2.3h-2.3zM102.7 144.4h2.3v2.3h-2.3zM107 148.9h2.3v2.3h-2.3zM83.6 144.2h2.3v2.3h-2.3zM108.2 148h2.3v2.3h-2.3zM67.2 141h2.3v2.3h-2.3zM71 153.2h2.3v2.3h-2.3zM113.2 145.7h2.3v2.3h-2.3zM63.4 146.4h2.3v2.3h-2.3zM105 142.6h2.3v2.3h-2.3zM81.1 151.9h2.3v2.3h-2.3zM46.9 145.9h2.3v2.3h-2.3zM109.9 148.4h2.3v2.3h-2.3zM43 145.6h2.3v2.3h-2.3zM114.5 148.4h2.3v2.3h-2.3zM60.8 140.1h2.3v2.3h-2.3zM63.9 148h2.3v2.3h-2.3zM50.1 146.3h2.3v2.3h-2.3zM94.8 153.4h2.3v2.3h-2.3zM94.1 146.5h2.3v2.3h-2.3zM55.9 146.4h2.3v2.3h-2.3zM51.6 144.3h2.3v2.3h-2.3zM55.8 148h2.3v2.3h-2.3zM65.9 140.6h2.3v2.3h-2.3zM59.3 144.8h2.3v2.3h-2.3zM70.9 144.6h2.3v2.3h-2.3zM93 152.6h2.3v2.3h-2.3zM83.3 142.8h2.3v2.3h-2.3zM100.9 153.6h2.3v2.3h-2.3zM64 138.1h2.3v2.3h-2.3zM99.5 154h2.3v2.3h-2.3zM113.4 144.6h2.3v2.3h-2.3zM51.3 152.4h2.3v2.3h-2.3zM46.9 147.5h2.3v2.3h-2.3zM84.4 150.5h2.3v2.3h-2.3zM105.8 141.6h2.3v2.3h-2.3zM109.2 147.3h2.3v2.3h-2.3zM74.6 147.1h2.3v2.3h-2.3zM65.3 148.3h2.3v2.3h-2.3zM83.8 142.9h2.3v2.3h-2.3zM63.8 145.9h2.3v2.3h-2.3zM98.6 146.5h2.3v2.3h-2.3zM104.6 150.3h2.3v2.3h-2.3zM67.6 142.3h2.3v2.3h-2.3zM103.3 150.2h2.3v2.3h-2.3zM81 145.5h2.3v2.3h-2.3zM43 149.8h2.3v2.3h-2.3zM83 144.8h2.3v2.3h-2.3zM82 152.4h2.3v2.3h-2.3zM76.1 146.3h2.3v2.3h-2.3zM62.9 146.1h2.3v2.3h-2.3zM54.9 141.8h2.3v2.3h-2.3zM92.9 151.3h2.3v2.3h-2.3zM69 143.5h2.3v2.3h-2.3zM49.8 154.3h2.3v2.3h-2.3zM110.7 142.4h2.3v2.3h-2.3zM77.3 154h2.3v2.3h-2.3zM105.4 142.4h2.3v2.3h-2.3zM45.4 152.3h2.3v2.3h-2.3zM56.1 142h2.3v2.3h-2.3zM97.6 154.9h2.3v2.3h-2.3zM67.8 141.1h2.3v2.3h-2.3zM104.9 150.5h2.3v2.3h-2.3zM95.4 147.2h2.3v2.3h-2.3zM76.8 154.4h2.3v2.3h-2.3zM49.2 146.8h2.3v2.3h-2.3zM87.7 151h2.3v2.3h-2.3zM67.4 142.6h2.3v2.3h-2.3zM82.9 150.8h2.3v2.3h-2.3zM41.8 98.8h2.3v2.3h-2.3zM42.5 117.5h2.3v2.3h-2.3zM44.8 120.2h2.3v2.3h-2.3zM41.8 126.5h2.3v2.3h-2.3zM44.1 125.4h2.3v2.3h-2.3zM41.6 136.2h2.3v2.3h-2.3zM43.9 136.2h2.3v2.3h-2.3zM65.8 132.7h2.3v2.3h-2.3zM67.8 129.5h2.3v2.3h-2.3zM54.6 138.8h2.3v2.3h-2.3zM61.5 136.9h2.3v2.3h-2.3zM114.1 136.9h2.3v2.3h-2.3zM105.8 143.4h3v3h-3zM100.1 146.2h3v3h-3zM99.9 153.6h3v3h-3zM68.8 146.9h3v3h-3zM54.5 143.5h3v3h-3zM67.5 144.8h3v3h-3zM114.3 146h3v3h-3zM56.7 143.5h3v3h-3zM45.8 150.7h3v3h-3zM51.8 147.7h3v3h-3zM109.7 146.2h3v3h-3zM87.2 149.1h3v3h-3zM112.3 144.6h3v3h-3zM81.7 148h3v3h-3zM87.3 145.7h3v3h-3zM58.4 144.7h3v3h-3zM44.9 148.1h3v3h-3zM42.5 148.9h3v3h-3zM86.1 147.6h3v3h-3zM55.2 142.4h3v3h-3zM48.9 150.9h3v3h-3zM87.4 145.3h3v3h-3zM98.7 149.6h3v3h-3zM46.3 148.2h3v3h-3zM95.3 150h3v3h-3zM81.1 150.6h3v3h-3zM49 152.8h3v3h-3zM108.4 143.5h3v3h-3zM109.9 143.7h3v3h-3zM88.1 148.2h3v3h-3zM70.4 148.2h3v3h-3zM47.6 150.4h3v3h-3zM71.6 148.9h3v3h-3zM45.1 151.6h3v3h-3zM105 146.3h3v3h-3zM73.8 149.3h3v3h-3zM86 145.9h3v3h-3zM65.7 145.7h3v3h-3zM95.8 151.3h3v3h-3zM113.7 145.8h3v3h-3zM98.4 151.1h3v3h-3zM82.5 147h3v3h-3zM49.5 152.1h3v3h-3zM59.4 141h3v3h-3zM51.1 146.5h3v3h-3zM55.8 143.1h3v3h-3zM81.2 145.9h3v3h-3zM44.6 151h3v3h-3zM116.1 148.5h3v3h-3zM69.1 147.2h3v3h-3zM49.2 148.3h3v3h-3zM110.2 145.4h3v3h-3zM79.6 151h3v3h-3zM88.8 147.8h3v3h-3zM98.2 152.6h3v3h-3zM99 147.4h3v3h-3zM101.5 146.6h3v3h-3zM49.3 150.1h3v3h-3zM114.7 147.4h3v3h-3zM96.5 151.7h3v3h-3zM107.8 147.4h3v3h-3zM104.2 146.5h3v3h-3zM95.4 150.6h3v3h-3zM111 143.9h3v3h-3zM99.4 148.3h3v3h-3zM81 147.1h3v3h-3zM80 150.1h3v3h-3zM103.7 144.1h3v3h-3zM103.9 147.1h3v3h-3zM49.9 150.7h3v3h-3zM99.3 146.9h3v3h-3zM45.1 149.1h3v3h-3zM95.6 152.5h3v3h-3zM76.8 148.8h3v3h-3zM55.1 142.8h3v3h-3zM99.3 150.1h3v3h-3zM114.7 147.5h3v3h-3zM58.5 143.9h3v3h-3zM83.2 146.8h3v3h-3zM94.4 150.3h3v3h-3zM115.8 146.5h3v3h-3zM112.2 144.4h3v3h-3zM93.2 147.9h3v3h-3zM102.6 145.1h3v3h-3zM95.2 149.3h3v3h-3zM78.8 151h3v3h-3zM103.7 147.1h3v3h-3zM110.2 143.1h3v3h-3zM88.4 143.9h3v3h-3zM110.3 145.1h3v3h-3zM113.3 145.5h3v3h-3zM95.9 150.6h3v3h-3zM77.6 149.6h3v3h-3zM42.5 146.5h3v3h-3zM67.4 145.8h3v3h-3zM97.4 150.7h3v3h-3zM45.8 146.7h3v3h-3zM104.1 145.1h3v3h-3zM115.6 149h3v3h-3zM99.4 151.1h3v3h-3zM84.7 144.3h3v3h-3zM94.7 151h3v3h-3zM94.3 149.7h3v3h-3zM87.2 148.2h3v3h-3zM86.6 145.6h3v3h-3zM96.3 147.5h3v3h-3zM73.2 151.1h3v3h-3zM54.6 146.6h3v3h-3zM59 142.3h3v3h-3zM97.6 149.8h3v3h-3zM46.1 147.4h3v3h-3zM102.5 145.2h3v3h-3zM85.7 145.7h3v3h-3zM55.3 144.4h3v3h-3zM58.3 144.2h3v3h-3zM107.9 147.2h3v3h-3zM77.8 147.7h3v3h-3zM91.9 151.3h3v3h-3zM45 150.4h3v3h-3zM87.5 148.5h3v3h-3zM81.6 151.3h3v3h-3zM84.4 148.2h3v3h-3zM104.7 142.8h3v3h-3zM60.7 140.8h3v3h-3zM109.3 142.9h3v3h-3zM109.9 146.3h3v3h-3zM92.7 151.6h3v3h-3zM72.9 151.7h3v3h-3zM91.7 146.1h3v3h-3zM103.5 149.7h3v3h-3zM76.1 148.8h3v3h-3zM83.1 146.7h3v3h-3zM95.9 152.7h3v3h-3zM98 152.5h3v3h-3zM85.6 146.7h3v3h-3zM55.3 146.8h3v3h-3zM95.9 151.9h3v3h-3zM107.3 143.3h3v3h-3zM59.3 144.7h3v3h-3zM113.3 145.9h3v3h-3zM77.3 147h3v3h-3zM70.3 145.5h3v3h-3zM84.3 148.8h3v3h-3zM68.7 147.5h3v3h-3zM111.2 144.7h3v3h-3zM112.1 145.9h3v3h-3z" fill="#0000ff"/>
</g>
<path d="M42.3 170.5v-4M42.3 87.9v4M56.1 170.5v-4M56.1 87.9v4M70 170.5v-4M70 87.9v4M83.8 170.5v-4M83.8 87.9v4M97.7 170.5v-4M97.7 87.9v4M111.5 170.5v-4M111.5 87.9v4M35.5 148.6h2M125.5 148.6h-2M35.5 136.4h4M125.5 136.4h-4M35.5 124.3h2M125.5 124.3h-2M35.5 112.2h4M125.5 112.2h-4M35.5 100h2M125.5 100h-2M35.5 160.7h4M125.5 160.7h-4" stroke="#5e5e5e" stroke-width="1" fill="none"/>
<path d="M35 87.9H126" stroke="#ababab" stroke-width="1.6"/>
<path d="M35.5 87.9V170.5H125.5V87.9" stroke="#5e5e5e" stroke-width="1" fill="none"/>
<text x="125.8" y="101.7" text-anchor="end" class="ttl">MEO  C24</text>
<path d="M137.5 160.5H225.7M137.5 148.5H225.7M137.5 136.5H225.7M137.5 124.5H225.7M137.5 112.5H225.7M137.5 99.5H225.7" stroke="#c6c6c6" stroke-width="1" stroke-dasharray="1.3 1.97" stroke-dashoffset="1" fill="none"/>
<clipPath id="kC25"><rect x="136.6" y="87.9" width="90.1" height="82.6"/></clipPath><g clip-path="url(#kC25)">
<path d="M144.2 147.1L146.4 147.4L151.5 147.6L156.7 147.9L161.9 148.8L167.1 147.9L172.3 150L177.5 149.7L182.6 147.1L186.1 145.7L191.3 148.6L196.4 147.9L201.6 149.5L206.8 149.5L212 150L217.2 150.6L219 151.3L219 155.2L217.2 155L212 154.9L206.8 154.7L201.6 154.7L196.4 153.6L191.3 153.8L186.1 151.8L182.6 152.7L177.5 155.3L172.3 154.9L167.1 153.6L161.9 154.5L156.7 153.6L151.5 154.2L146.4 153.5L144.2 151.5 Z" fill="#0000ff"/>
<path d="M186.1 143.2l3.8 3.8m0 -3.8l-3.8 3.8M171.2 152.6l3.8 3.8m0 -3.8l-3.8 3.8M164.3 145.7l3.8 3.8m0 -3.8l-3.8 3.8M158.3 153.7l3.8 3.8m0 -3.8l-3.8 3.8M175.8 145.1l3.8 3.8m0 -3.8l-3.8 3.8M195.8 152.8l3.8 3.8m0 -3.8l-3.8 3.8M216.5 147.3l3.8 3.8m0 -3.8l-3.8 3.8M189.9 153.2l3.8 3.8m0 -3.8l-3.8 3.8M199.5 147.4l3.8 3.8m0 -3.8l-3.8 3.8M151.5 151.9l3.8 3.8m0 -3.8l-3.8 3.8M193.2 143.9l3.8 3.8m0 -3.8l-3.8 3.8M143.7 152.6l3.8 3.8m0 -3.8l-3.8 3.8M198.7 146.6l3.8 3.8m0 -3.8l-3.8 3.8M171.9 153.1l3.8 3.8m0 -3.8l-3.8 3.8M162.4 144.9l3.8 3.8m0 -3.8l-3.8 3.8M154.1 153.4l3.8 3.8m0 -3.8l-3.8 3.8M197.5 145.3l3.8 3.8m0 -3.8l-3.8 3.8M190.9 151.2l3.8 3.8m0 -3.8l-3.8 3.8M144.7 144.1l3.8 3.8m0 -3.8l-3.8 3.8M163.3 151.8l3.8 3.8m0 -3.8l-3.8 3.8M172.2 148.1l3.8 3.8m0 -3.8l-3.8 3.8M214.6 153.6l3.8 3.8m0 -3.8l-3.8 3.8M183.4 143.3l3.8 3.8m0 -3.8l-3.8 3.8M165.2 153.1l3.8 3.8m0 -3.8l-3.8 3.8M199.4 145.7l3.8 3.8m0 -3.8l-3.8 3.8M199.6 152.8l3.8 3.8m0 -3.8l-3.8 3.8M160.6 145l3.8 3.8m0 -3.8l-3.8 3.8M171.5 152.2l3.8 3.8m0 -3.8l-3.8 3.8M210.7 147.5l3.8 3.8m0 -3.8l-3.8 3.8M191.8 150.9l3.8 3.8m0 -3.8l-3.8 3.8M151.1 144.3l3.8 3.8m0 -3.8l-3.8 3.8M188.8 152.7l3.8 3.8m0 -3.8l-3.8 3.8M165.6 144l3.8 3.8m0 -3.8l-3.8 3.8M169 153.9l3.8 3.8m0 -3.8l-3.8 3.8M211.3 146.2l3.8 3.8m0 -3.8l-3.8 3.8M194.1 152.2l3.8 3.8m0 -3.8l-3.8 3.8M216.5 148.6l3.8 3.8m0 -3.8l-3.8 3.8M181.9 151.4l3.8 3.8m0 -3.8l-3.8 3.8M175.1 146.4l3.8 3.8m0 -3.8l-3.8 3.8M208 152.6l3.8 3.8m0 -3.8l-3.8 3.8M168.3 145.5l3.8 3.8m0 -3.8l-3.8 3.8M172.2 154.2l3.8 3.8m0 -3.8l-3.8 3.8M150.5 143.8l3.8 3.8m0 -3.8l-3.8 3.8M184.6 149.6l3.8 3.8m0 -3.8l-3.8 3.8M169.7 147.2l3.8 3.8m0 -3.8l-3.8 3.8M172.5 154.5l3.8 3.8m0 -3.8l-3.8 3.8M210.2 148l3.8 3.8m0 -3.8l-3.8 3.8M159.2 151.9l3.8 3.8m0 -3.8l-3.8 3.8M155.4 145.5l3.8 3.8m0 -3.8l-3.8 3.8M144.2 152.2l3.8 3.8m0 -3.8l-3.8 3.8M209.8 147.4l3.8 3.8m0 -3.8l-3.8 3.8M153 153.1l3.8 3.8m0 -3.8l-3.8 3.8M205.4 146.3l3.8 3.8m0 -3.8l-3.8 3.8M185.8 151.5l3.8 3.8m0 -3.8l-3.8 3.8M148.4 143.1l3.8 3.8m0 -3.8l-3.8 3.8M172 153.2l3.8 3.8m0 -3.8l-3.8 3.8M179.4 145.6l3.8 3.8m0 -3.8l-3.8 3.8M168.8 152.9l3.8 3.8m0 -3.8l-3.8 3.8M184.4 141.6l3.8 3.8m0 -3.8l-3.8 3.8M163.9 151.4l3.8 3.8m0 -3.8l-3.8 3.8M194.1 145.1l3.8 3.8m0 -3.8l-3.8 3.8M150.1 153.8l3.8 3.8m0 -3.8l-3.8 3.8M182.3 143.4l3.8 3.8m0 -3.8l-3.8 3.8M169 153.2l3.8 3.8m0 -3.8l-3.8 3.8M198.8 145.2l3.8 3.8m0 -3.8l-3.8 3.8M208.1 154l3.8 3.8m0 -3.8l-3.8 3.8M203.1 146.7l3.8 3.8m0 -3.8l-3.8 3.8M167 151.2l3.8 3.8m0 -3.8l-3.8 3.8M148.8 144.6l3.8 3.8m0 -3.8l-3.8 3.8M185.3 151.7l3.8 3.8m0 -3.8l-3.8 3.8M215.5 146.9l3.8 3.8m0 -3.8l-3.8 3.8M147.9 151.4l3.8 3.8m0 -3.8l-3.8 3.8M144.6 143.5l3.8 3.8m0 -3.8l-3.8 3.8M203.5 153.6l3.8 3.8m0 -3.8l-3.8 3.8M187.9 145l3.8 3.8m0 -3.8l-3.8 3.8M208.1 153.8l3.8 3.8m0 -3.8l-3.8 3.8M149.8 144.1l3.8 3.8m0 -3.8l-3.8 3.8M165.6 151.6l3.8 3.8m0 -3.8l-3.8 3.8M157.9 88.5l3.8 3.8m0 -3.8l-3.8 3.8M142.7 92.3l3.8 3.8m0 -3.8l-3.8 3.8M140.9 98.7l3.8 3.8m0 -3.8l-3.8 3.8M144.3 96.4l3.8 3.8m0 -3.8l-3.8 3.8M148.8 98l3.8 3.8m0 -3.8l-3.8 3.8M143.1 114.5l3.8 3.8m0 -3.8l-3.8 3.8M155.7 119l3.8 3.8m0 -3.8l-3.8 3.8M156.6 124.7l3.8 3.8m0 -3.8l-3.8 3.8M142.7 123.3l3.8 3.8m0 -3.8l-3.8 3.8M144.1 126.4l3.8 3.8m0 -3.8l-3.8 3.8M143.1 130.5l3.8 3.8m0 -3.8l-3.8 3.8M143.6 134.5l3.8 3.8m0 -3.8l-3.8 3.8M145.3 136.8l3.8 3.8m0 -3.8l-3.8 3.8M151 130.5l3.8 3.8m0 -3.8l-3.8 3.8M151.7 131.1l3.8 3.8m0 -3.8l-3.8 3.8M160 133.6l3.8 3.8m0 -3.8l-3.8 3.8M167.8 135.4l3.8 3.8m0 -3.8l-3.8 3.8M166.1 139.7l3.8 3.8m0 -3.8l-3.8 3.8M158.3 139.7l3.8 3.8m0 -3.8l-3.8 3.8M141.9 141.4l3.8 3.8m0 -3.8l-3.8 3.8M178.7 158.2l3.8 3.8m0 -3.8l-3.8 3.8M193.7 141.4l3.8 3.8m0 -3.8l-3.8 3.8M183.3 141.4l3.8 3.8m0 -3.8l-3.8 3.8" stroke="#0000ff" stroke-width="0.85" fill="none"/>
<path d="M186.8 144h2.3v2.3h-2.3zM172 153.3h2.3v2.3h-2.3zM165 146.5h2.3v2.3h-2.3zM159.1 154.4h2.3v2.3h-2.3zM176.5 145.8h2.3v2.3h-2.3zM196.6 153.5h2.3v2.3h-2.3zM217.2 148.1h2.3v2.3h-2.3zM190.7 153.9h2.3v2.3h-2.3zM200.2 148.2h2.3v2.3h-2.3zM152.3 152.6h2.3v2.3h-2.3zM193.9 144.6h2.3v2.3h-2.3zM144.4 153.3h2.3v2.3h-2.3zM199.5 147.3h2.3v2.3h-2.3zM172.6 153.9h2.3v2.3h-2.3zM163.2 145.7h2.3v2.3h-2.3zM154.9 154.1h2.3v2.3h-2.3zM198.3 146.1h2.3v2.3h-2.3zM191.6 152h2.3v2.3h-2.3zM145.5 144.8h2.3v2.3h-2.3zM164.1 152.6h2.3v2.3h-2.3zM173 148.9h2.3v2.3h-2.3zM215.4 154.4h2.3v2.3h-2.3zM184.1 144.1h2.3v2.3h-2.3zM165.9 153.8h2.3v2.3h-2.3zM200.2 146.5h2.3v2.3h-2.3zM200.4 153.5h2.3v2.3h-2.3zM161.3 145.8h2.3v2.3h-2.3zM172.3 152.9h2.3v2.3h-2.3zM211.5 148.3h2.3v2.3h-2.3zM192.6 151.6h2.3v2.3h-2.3zM151.9 145h2.3v2.3h-2.3zM189.6 153.5h2.3v2.3h-2.3zM166.3 144.8h2.3v2.3h-2.3zM169.7 154.6h2.3v2.3h-2.3zM212.1 147h2.3v2.3h-2.3zM194.9 152.9h2.3v2.3h-2.3zM217.2 149.3h2.3v2.3h-2.3zM182.6 152.1h2.3v2.3h-2.3zM175.9 147.2h2.3v2.3h-2.3zM208.7 153.3h2.3v2.3h-2.3zM169.1 146.3h2.3v2.3h-2.3zM172.9 154.9h2.3v2.3h-2.3zM151.2 144.5h2.3v2.3h-2.3zM185.4 150.3h2.3v2.3h-2.3zM170.5 148h2.3v2.3h-2.3zM173.2 155.2h2.3v2.3h-2.3zM210.9 148.7h2.3v2.3h-2.3zM159.9 152.6h2.3v2.3h-2.3zM156.2 146.3h2.3v2.3h-2.3zM145 153h2.3v2.3h-2.3zM210.5 148.2h2.3v2.3h-2.3zM153.8 153.8h2.3v2.3h-2.3zM206.2 147h2.3v2.3h-2.3zM186.6 152.2h2.3v2.3h-2.3zM149.1 143.8h2.3v2.3h-2.3zM172.8 153.9h2.3v2.3h-2.3zM180.2 146.4h2.3v2.3h-2.3zM169.5 153.6h2.3v2.3h-2.3zM185.1 142.3h2.3v2.3h-2.3zM164.6 152.1h2.3v2.3h-2.3zM194.9 145.8h2.3v2.3h-2.3zM150.8 154.6h2.3v2.3h-2.3zM183 144.2h2.3v2.3h-2.3zM169.8 154h2.3v2.3h-2.3zM199.6 145.9h2.3v2.3h-2.3zM208.9 154.7h2.3v2.3h-2.3zM203.9 147.5h2.3v2.3h-2.3zM167.8 152h2.3v2.3h-2.3zM149.6 145.4h2.3v2.3h-2.3zM186.1 152.5h2.3v2.3h-2.3zM216.2 147.7h2.3v2.3h-2.3zM148.7 152.2h2.3v2.3h-2.3zM145.3 144.2h2.3v2.3h-2.3zM204.2 154.3h2.3v2.3h-2.3zM188.7 145.8h2.3v2.3h-2.3zM208.9 154.6h2.3v2.3h-2.3zM150.5 144.9h2.3v2.3h-2.3zM166.4 152.3h2.3v2.3h-2.3zM158.7 89.2h2.3v2.3h-2.3zM143.4 93h2.3v2.3h-2.3zM141.7 99.4h2.3v2.3h-2.3zM145 97.1h2.3v2.3h-2.3zM149.5 98.8h2.3v2.3h-2.3zM143.8 115.2h2.3v2.3h-2.3zM156.4 119.8h2.3v2.3h-2.3zM157.3 125.4h2.3v2.3h-2.3zM143.4 124h2.3v2.3h-2.3zM144.8 127.2h2.3v2.3h-2.3zM143.8 131.2h2.3v2.3h-2.3zM144.3 135.2h2.3v2.3h-2.3zM146 137.5h2.3v2.3h-2.3zM151.8 131.2h2.3v2.3h-2.3zM152.4 131.8h2.3v2.3h-2.3zM160.8 134.3h2.3v2.3h-2.3zM168.5 136.2h2.3v2.3h-2.3zM166.8 140.4h2.3v2.3h-2.3zM159 140.4h2.3v2.3h-2.3zM142.7 142.2h2.3v2.3h-2.3zM179.4 158.9h2.3v2.3h-2.3zM194.4 142.2h2.3v2.3h-2.3zM184 142.2h2.3v2.3h-2.3zM150.9 148h3v3h-3zM153.8 146.9h3v3h-3zM163.8 148h3v3h-3zM174.4 148h3v3h-3zM162.9 148h3v3h-3zM153 149.7h3v3h-3zM209.3 149.3h3v3h-3zM211.9 152.2h3v3h-3zM214.2 152.4h3v3h-3zM183.4 149.2h3v3h-3zM184.8 146.1h3v3h-3zM203.4 147.8h3v3h-3zM211.2 152h3v3h-3zM170.8 148.2h3v3h-3zM158.3 148.9h3v3h-3zM194.2 147.8h3v3h-3zM172.9 147.4h3v3h-3zM157.7 149.8h3v3h-3zM192.3 147.8h3v3h-3zM192.3 150.6h3v3h-3zM177.9 151.5h3v3h-3zM202.6 150.3h3v3h-3zM155 148.5h3v3h-3zM154.9 150.5h3v3h-3zM206.3 150.4h3v3h-3zM150.2 148.4h3v3h-3zM189 149.1h3v3h-3zM163 151h3v3h-3zM193.3 145.9h3v3h-3zM179 148.9h3v3h-3zM164.8 146.8h3v3h-3zM176.3 150.8h3v3h-3zM197.8 151.4h3v3h-3zM206.4 148h3v3h-3zM215.5 152.7h3v3h-3zM202.9 152.3h3v3h-3zM166.5 146.7h3v3h-3zM184 145.6h3v3h-3zM212.3 151h3v3h-3zM198 153h3v3h-3zM180.9 150h3v3h-3zM207.7 148.2h3v3h-3zM198.6 149.3h3v3h-3zM214.5 148.1h3v3h-3zM169.1 151.3h3v3h-3zM149.8 150.7h3v3h-3zM167.4 145.9h3v3h-3zM213.5 150.8h3v3h-3zM143.4 144.9h3v3h-3zM144.7 147h3v3h-3zM206.4 152h3v3h-3zM144.9 146.8h3v3h-3zM150.6 148.2h3v3h-3zM212.2 151.7h3v3h-3zM214.1 152.6h3v3h-3zM167.2 148.6h3v3h-3zM170.3 150.3h3v3h-3zM184.7 147.6h3v3h-3zM202.5 149h3v3h-3zM159.4 152.4h3v3h-3zM162.6 145.5h3v3h-3zM178.6 152.3h3v3h-3zM215.1 151.6h3v3h-3zM176.4 150.5h3v3h-3zM159.9 150.1h3v3h-3zM186.3 148.9h3v3h-3zM199.9 150.1h3v3h-3zM177.8 151.3h3v3h-3zM153.3 146.3h3v3h-3zM172 148.1h3v3h-3zM174.1 153h3v3h-3zM197 149.7h3v3h-3zM156.7 152.3h3v3h-3zM165.7 147.9h3v3h-3zM216.4 151.4h3v3h-3zM192.2 148.1h3v3h-3zM162 151.3h3v3h-3zM160 149.9h3v3h-3zM153.4 146.3h3v3h-3zM192 148.9h3v3h-3zM184.8 148.6h3v3h-3zM186.5 148.5h3v3h-3zM212.1 149.3h3v3h-3zM201.4 149.6h3v3h-3zM188.5 150.6h3v3h-3zM215.2 151.7h3v3h-3zM174.4 153.6h3v3h-3zM177.9 152.7h3v3h-3zM180.7 148.2h3v3h-3zM188.2 149.8h3v3h-3zM143.2 145.2h3v3h-3zM143.7 147.2h3v3h-3zM189.9 151.6h3v3h-3zM153.5 151.2h3v3h-3zM198.2 148.1h3v3h-3zM152.6 148.7h3v3h-3zM198.4 153h3v3h-3zM209.2 153h3v3h-3zM190 149.8h3v3h-3zM177.6 148.7h3v3h-3zM202.5 147.6h3v3h-3zM151.2 149h3v3h-3zM172.6 148.1h3v3h-3zM168.6 149.9h3v3h-3zM172.3 149.2h3v3h-3zM153 149.8h3v3h-3zM176.4 152.3h3v3h-3zM197.4 150.6h3v3h-3zM211.7 150.1h3v3h-3zM196 149.3h3v3h-3zM194.6 149.9h3v3h-3zM209.2 147.7h3v3h-3zM160 151.2h3v3h-3zM145.2 150.7h3v3h-3zM204.3 152.9h3v3h-3zM193.1 146.4h3v3h-3zM185.9 150.9h3v3h-3zM148.2 145.1h3v3h-3zM165.8 146.4h3v3h-3zM183.2 149.6h3v3h-3zM150.8 146.9h3v3h-3zM180.1 148.9h3v3h-3zM153.4 148.3h3v3h-3zM208.8 151.3h3v3h-3zM189.7 147.1h3v3h-3zM151.7 148.2h3v3h-3zM148.5 152.1h3v3h-3zM213.4 148h3v3h-3zM172.3 153.4h3v3h-3zM206.4 147.3h3v3h-3zM198.2 149h3v3h-3zM159.4 149.3h3v3h-3zM185.3 148.3h3v3h-3zM149.7 152.9h3v3h-3zM165.1 146.6h3v3h-3zM210.9 151.5h3v3h-3zM143 145.6h3v3h-3zM205.1 152.9h3v3h-3zM187.4 149.4h3v3h-3zM158.5 146.8h3v3h-3zM214.4 152.2h3v3h-3zM193.4 149h3v3h-3zM215.4 151.6h3v3h-3zM154.7 148h3v3h-3zM194.8 151.3h3v3h-3zM204.1 151.1h3v3h-3zM166.2 150.5h3v3h-3zM180.8 148.8h3v3h-3zM176.7 148h3v3h-3zM184.3 149.5h3v3h-3zM161.2 149.4h3v3h-3zM201.8 148.6h3v3h-3zM209.8 151.2h3v3h-3zM156.5 152.6h3v3h-3zM178.7 148.5h3v3h-3zM144.1 149h3v3h-3zM201.2 146.6h3v3h-3zM168.7 148.9h3v3h-3zM144.3 148.3h3v3h-3z" fill="#0000ff"/>
</g>
<path d="M143.4 170.5v-4M143.4 87.9v4M157.2 170.5v-4M157.2 87.9v4M171.1 170.5v-4M171.1 87.9v4M184.9 170.5v-4M184.9 87.9v4M198.8 170.5v-4M198.8 87.9v4M212.6 170.5v-4M212.6 87.9v4M136.6 148.6h2M226.7 148.6h-2M136.6 136.4h4M226.7 136.4h-4M136.6 124.3h2M226.7 124.3h-2M136.6 112.2h4M226.7 112.2h-4M136.6 100h2M226.7 100h-2M136.6 160.7h4M226.7 160.7h-4" stroke="#5e5e5e" stroke-width="1" fill="none"/>
<path d="M136.1 87.9H227.2" stroke="#ababab" stroke-width="1.6"/>
<path d="M136.6 87.9V170.5H226.7V87.9" stroke="#5e5e5e" stroke-width="1" fill="none"/>
<text x="227" y="101.7" text-anchor="end" class="ttl">MEO  C25</text>
<path d="M238.6 160.5H326.9M238.6 148.5H326.9M238.6 136.5H326.9M238.6 124.5H326.9M238.6 112.5H326.9M238.6 99.5H326.9" stroke="#c6c6c6" stroke-width="1" stroke-dasharray="1.3 1.97" stroke-dashoffset="1" fill="none"/>
<clipPath id="kC26"><rect x="237.7" y="87.9" width="90.2" height="82.6"/></clipPath><g clip-path="url(#kC26)">
<path d="M245.2 146.9L246.5 145.9L250.8 149.2L256 150.6L261.2 148.9L266.4 148.8L271.5 150.2L276.7 150.6L281.9 151.5L287.1 150.6L292.3 149.7L297.4 149.7L302.6 150.4L307.8 151.5L313 150L318.2 150.4L320 151L320 154.3L318.2 154.3L313 154.9L307.8 155.9L302.6 154.3L297.4 154.1L292.3 154.1L287.1 155L281.9 155.9L276.7 155L271.5 155.5L266.4 154.5L261.2 153.3L256 155L250.8 154L246.5 152.4L245.2 150.9 Z" fill="#0000ff"/>
<path d="M257.7 146.9l3.8 3.8m0 -3.8l-3.8 3.8M261.6 152.7l3.8 3.8m0 -3.8l-3.8 3.8M254.6 147.4l3.8 3.8m0 -3.8l-3.8 3.8M308.9 152.8l3.8 3.8m0 -3.8l-3.8 3.8M307.1 149.8l3.8 3.8m0 -3.8l-3.8 3.8M296.3 152.2l3.8 3.8m0 -3.8l-3.8 3.8M298.4 147.6l3.8 3.8m0 -3.8l-3.8 3.8M274.2 153.4l3.8 3.8m0 -3.8l-3.8 3.8M244.6 141.6l3.8 3.8m0 -3.8l-3.8 3.8M246.8 152l3.8 3.8m0 -3.8l-3.8 3.8M249.4 146.5l3.8 3.8m0 -3.8l-3.8 3.8M287.7 152.3l3.8 3.8m0 -3.8l-3.8 3.8M288.4 148.5l3.8 3.8m0 -3.8l-3.8 3.8M252.1 152.3l3.8 3.8m0 -3.8l-3.8 3.8M292.7 148.2l3.8 3.8m0 -3.8l-3.8 3.8M300.8 153.1l3.8 3.8m0 -3.8l-3.8 3.8M262.3 144.8l3.8 3.8m0 -3.8l-3.8 3.8M267.7 154.4l3.8 3.8m0 -3.8l-3.8 3.8M267.2 146.6l3.8 3.8m0 -3.8l-3.8 3.8M246.1 151.4l3.8 3.8m0 -3.8l-3.8 3.8M294 146.7l3.8 3.8m0 -3.8l-3.8 3.8M304.5 152.9l3.8 3.8m0 -3.8l-3.8 3.8M299.7 147l3.8 3.8m0 -3.8l-3.8 3.8M249.4 152.8l3.8 3.8m0 -3.8l-3.8 3.8M265.4 144.7l3.8 3.8m0 -3.8l-3.8 3.8M297.3 151.9l3.8 3.8m0 -3.8l-3.8 3.8M258.2 147.2l3.8 3.8m0 -3.8l-3.8 3.8M254.2 152l3.8 3.8m0 -3.8l-3.8 3.8M257.6 146.8l3.8 3.8m0 -3.8l-3.8 3.8M259.1 152.2l3.8 3.8m0 -3.8l-3.8 3.8M257.6 147l3.8 3.8m0 -3.8l-3.8 3.8M247 151.8l3.8 3.8m0 -3.8l-3.8 3.8M249.6 147l3.8 3.8m0 -3.8l-3.8 3.8M261.5 153l3.8 3.8m0 -3.8l-3.8 3.8M298.7 147.3l3.8 3.8m0 -3.8l-3.8 3.8M248.3 151.2l3.8 3.8m0 -3.8l-3.8 3.8M306.7 149.4l3.8 3.8m0 -3.8l-3.8 3.8M285.4 152.9l3.8 3.8m0 -3.8l-3.8 3.8M314.6 148.3l3.8 3.8m0 -3.8l-3.8 3.8M275.3 153.9l3.8 3.8m0 -3.8l-3.8 3.8M305.7 148.9l3.8 3.8m0 -3.8l-3.8 3.8M272.9 154.1l3.8 3.8m0 -3.8l-3.8 3.8M279.5 149.4l3.8 3.8m0 -3.8l-3.8 3.8M299.4 151.5l3.8 3.8m0 -3.8l-3.8 3.8M316.8 149l3.8 3.8m0 -3.8l-3.8 3.8M272.5 153.7l3.8 3.8m0 -3.8l-3.8 3.8M277.8 147.4l3.8 3.8m0 -3.8l-3.8 3.8M305.3 152.6l3.8 3.8m0 -3.8l-3.8 3.8M250.5 147.7l3.8 3.8m0 -3.8l-3.8 3.8M288.4 152.9l3.8 3.8m0 -3.8l-3.8 3.8M315.8 149l3.8 3.8m0 -3.8l-3.8 3.8M305 154.5l3.8 3.8m0 -3.8l-3.8 3.8M278.6 148.8l3.8 3.8m0 -3.8l-3.8 3.8M251.9 153l3.8 3.8m0 -3.8l-3.8 3.8M272.8 147.3l3.8 3.8m0 -3.8l-3.8 3.8M285.2 154l3.8 3.8m0 -3.8l-3.8 3.8M266.2 145.6l3.8 3.8m0 -3.8l-3.8 3.8M290.9 152.9l3.8 3.8m0 -3.8l-3.8 3.8M290.8 147.4l3.8 3.8m0 -3.8l-3.8 3.8M298.2 151.6l3.8 3.8m0 -3.8l-3.8 3.8M284.9 148.5l3.8 3.8m0 -3.8l-3.8 3.8M309.7 154.2l3.8 3.8m0 -3.8l-3.8 3.8M308 149l3.8 3.8m0 -3.8l-3.8 3.8M304.1 152.4l3.8 3.8m0 -3.8l-3.8 3.8M316.8 149.4l3.8 3.8m0 -3.8l-3.8 3.8M293.2 151.5l3.8 3.8m0 -3.8l-3.8 3.8M276.3 147.1l3.8 3.8m0 -3.8l-3.8 3.8M250.6 153.3l3.8 3.8m0 -3.8l-3.8 3.8M266.3 146l3.8 3.8m0 -3.8l-3.8 3.8M312.6 151.4l3.8 3.8m0 -3.8l-3.8 3.8M289 147l3.8 3.8m0 -3.8l-3.8 3.8M297.5 151.9l3.8 3.8m0 -3.8l-3.8 3.8M317.5 149.1l3.8 3.8m0 -3.8l-3.8 3.8M244.8 151.7l3.8 3.8m0 -3.8l-3.8 3.8M257.3 147.5l3.8 3.8m0 -3.8l-3.8 3.8M275.6 152.3l3.8 3.8m0 -3.8l-3.8 3.8M278.4 148.5l3.8 3.8m0 -3.8l-3.8 3.8M316 152.3l3.8 3.8m0 -3.8l-3.8 3.8M253.2 106.6l3.8 3.8m0 -3.8l-3.8 3.8M244.6 111.8l3.8 3.8m0 -3.8l-3.8 3.8M246 110l3.8 3.8m0 -3.8l-3.8 3.8M245.1 121.9l3.8 3.8m0 -3.8l-3.8 3.8M245.8 123.3l3.8 3.8m0 -3.8l-3.8 3.8M252.4 125.4l3.8 3.8m0 -3.8l-3.8 3.8M243.7 128.8l3.8 3.8m0 -3.8l-3.8 3.8M244.1 131.1l3.8 3.8m0 -3.8l-3.8 3.8M245.8 136.2l3.8 3.8m0 -3.8l-3.8 3.8M251.5 134.5l3.8 3.8m0 -3.8l-3.8 3.8M252.4 135.4l3.8 3.8m0 -3.8l-3.8 3.8M258.4 138l3.8 3.8m0 -3.8l-3.8 3.8M261 138l3.8 3.8m0 -3.8l-3.8 3.8M269.3 134l3.8 3.8m0 -3.8l-3.8 3.8M267.6 140.6l3.8 3.8m0 -3.8l-3.8 3.8M250.6 142.3l3.8 3.8m0 -3.8l-3.8 3.8M295.2 134.5l3.8 3.8m0 -3.8l-3.8 3.8M310.7 138.8l3.8 3.8m0 -3.8l-3.8 3.8M318.9 142.3l3.8 3.8m0 -3.8l-3.8 3.8M242.9 139.7l3.8 3.8m0 -3.8l-3.8 3.8" stroke="#0000ff" stroke-width="0.85" fill="none"/>
<path d="M258.4 147.6h2.3v2.3h-2.3zM262.3 153.5h2.3v2.3h-2.3zM255.4 148.1h2.3v2.3h-2.3zM309.6 153.5h2.3v2.3h-2.3zM307.9 150.5h2.3v2.3h-2.3zM297 152.9h2.3v2.3h-2.3zM299.2 148.3h2.3v2.3h-2.3zM275 154.2h2.3v2.3h-2.3zM245.4 142.4h2.3v2.3h-2.3zM247.5 152.8h2.3v2.3h-2.3zM250.2 147.2h2.3v2.3h-2.3zM288.4 153h2.3v2.3h-2.3zM289.2 149.2h2.3v2.3h-2.3zM252.9 153h2.3v2.3h-2.3zM293.5 148.9h2.3v2.3h-2.3zM301.6 153.8h2.3v2.3h-2.3zM263 145.5h2.3v2.3h-2.3zM268.4 155.1h2.3v2.3h-2.3zM268 147.4h2.3v2.3h-2.3zM246.8 152.2h2.3v2.3h-2.3zM294.7 147.4h2.3v2.3h-2.3zM305.3 153.6h2.3v2.3h-2.3zM300.5 147.8h2.3v2.3h-2.3zM250.1 153.6h2.3v2.3h-2.3zM266.2 145.4h2.3v2.3h-2.3zM298.1 152.7h2.3v2.3h-2.3zM259 148h2.3v2.3h-2.3zM255 152.8h2.3v2.3h-2.3zM258.3 147.6h2.3v2.3h-2.3zM259.9 153h2.3v2.3h-2.3zM258.3 147.7h2.3v2.3h-2.3zM247.7 152.6h2.3v2.3h-2.3zM250.3 147.8h2.3v2.3h-2.3zM262.3 153.8h2.3v2.3h-2.3zM299.4 148.1h2.3v2.3h-2.3zM249.1 152h2.3v2.3h-2.3zM307.5 150.2h2.3v2.3h-2.3zM286.2 153.6h2.3v2.3h-2.3zM315.3 149h2.3v2.3h-2.3zM276 154.7h2.3v2.3h-2.3zM306.5 149.6h2.3v2.3h-2.3zM273.7 154.9h2.3v2.3h-2.3zM280.3 150.2h2.3v2.3h-2.3zM300.2 152.3h2.3v2.3h-2.3zM317.6 149.8h2.3v2.3h-2.3zM273.3 154.4h2.3v2.3h-2.3zM278.5 148.1h2.3v2.3h-2.3zM306 153.3h2.3v2.3h-2.3zM251.3 148.4h2.3v2.3h-2.3zM289.2 153.7h2.3v2.3h-2.3zM316.6 149.7h2.3v2.3h-2.3zM305.8 155.3h2.3v2.3h-2.3zM279.3 149.5h2.3v2.3h-2.3zM252.7 153.7h2.3v2.3h-2.3zM273.6 148h2.3v2.3h-2.3zM286 154.7h2.3v2.3h-2.3zM266.9 146.3h2.3v2.3h-2.3zM291.7 153.6h2.3v2.3h-2.3zM291.6 148.1h2.3v2.3h-2.3zM298.9 152.4h2.3v2.3h-2.3zM285.7 149.3h2.3v2.3h-2.3zM310.5 155h2.3v2.3h-2.3zM308.7 149.8h2.3v2.3h-2.3zM304.9 153.2h2.3v2.3h-2.3zM317.6 150.2h2.3v2.3h-2.3zM294 152.3h2.3v2.3h-2.3zM277 147.9h2.3v2.3h-2.3zM251.4 154h2.3v2.3h-2.3zM267.1 146.7h2.3v2.3h-2.3zM313.4 152.2h2.3v2.3h-2.3zM289.8 147.8h2.3v2.3h-2.3zM298.3 152.7h2.3v2.3h-2.3zM318.3 149.8h2.3v2.3h-2.3zM245.5 152.4h2.3v2.3h-2.3zM258.1 148.3h2.3v2.3h-2.3zM276.3 153.1h2.3v2.3h-2.3zM279.2 149.2h2.3v2.3h-2.3zM316.8 153h2.3v2.3h-2.3zM253.9 107.3h2.3v2.3h-2.3zM245.3 112.5h2.3v2.3h-2.3zM246.8 110.8h2.3v2.3h-2.3zM245.8 122.6h2.3v2.3h-2.3zM246.5 124h2.3v2.3h-2.3zM253.2 126.1h2.3v2.3h-2.3zM244.4 129.5h2.3v2.3h-2.3zM244.8 131.8h2.3v2.3h-2.3zM246.5 136.9h2.3v2.3h-2.3zM252.2 135.2h2.3v2.3h-2.3zM253.2 136.2h2.3v2.3h-2.3zM259.2 138.8h2.3v2.3h-2.3zM261.8 138.8h2.3v2.3h-2.3zM270.1 134.8h2.3v2.3h-2.3zM268.4 141.3h2.3v2.3h-2.3zM251.3 143h2.3v2.3h-2.3zM296 135.2h2.3v2.3h-2.3zM311.5 139.5h2.3v2.3h-2.3zM319.7 143h2.3v2.3h-2.3zM243.7 140.4h2.3v2.3h-2.3zM271.2 150.1h3v3h-3zM284.2 151.7h3v3h-3zM287.4 151.9h3v3h-3zM302.2 148.7h3v3h-3zM253.6 152.4h3v3h-3zM267.3 152h3v3h-3zM266.1 153.5h3v3h-3zM303.6 149.7h3v3h-3zM308 150.1h3v3h-3zM303.9 149.2h3v3h-3zM300.6 152.4h3v3h-3zM253.6 150.6h3v3h-3zM311.5 148.5h3v3h-3zM301.5 149.2h3v3h-3zM292 147.9h3v3h-3zM302 152h3v3h-3zM262.9 150.8h3v3h-3zM283.6 151h3v3h-3zM309.5 148.3h3v3h-3zM279.2 152.4h3v3h-3zM313.1 150.7h3v3h-3zM262.8 151.9h3v3h-3zM302.6 151.5h3v3h-3zM306.8 154h3v3h-3zM285.9 152.2h3v3h-3zM305.5 150.1h3v3h-3zM316.5 152.4h3v3h-3zM302.3 149.6h3v3h-3zM275.2 151.9h3v3h-3zM266.8 146.5h3v3h-3zM305.8 152.8h3v3h-3zM310.1 152.1h3v3h-3zM278.9 150.9h3v3h-3zM315.6 152.5h3v3h-3zM311 151.8h3v3h-3zM253.8 149.1h3v3h-3zM252.6 152.5h3v3h-3zM271.5 150h3v3h-3zM305.7 152.8h3v3h-3zM296.5 150.1h3v3h-3zM263.4 148.4h3v3h-3zM306.7 149.4h3v3h-3zM251.4 149.3h3v3h-3zM259.9 147.7h3v3h-3zM316.9 148.8h3v3h-3zM313.9 152.2h3v3h-3zM295.7 149.5h3v3h-3zM271 151.4h3v3h-3zM249.1 150.2h3v3h-3zM291.7 150.1h3v3h-3zM306.7 151.1h3v3h-3zM251.2 150.7h3v3h-3zM253.8 148.6h3v3h-3zM275.3 151.9h3v3h-3zM291 152.2h3v3h-3zM252.3 151.2h3v3h-3zM316.2 148.9h3v3h-3zM270.3 153h3v3h-3zM281.4 149.9h3v3h-3zM266.4 148.9h3v3h-3zM282 152.4h3v3h-3zM266.5 151.4h3v3h-3zM301.1 151h3v3h-3zM305.2 152.8h3v3h-3zM250.9 149.9h3v3h-3zM281.9 152.8h3v3h-3zM284.8 150.5h3v3h-3zM259.4 150.6h3v3h-3zM268.4 147.9h3v3h-3zM267.1 148.8h3v3h-3zM288.5 150.3h3v3h-3zM273.6 149.3h3v3h-3zM243.8 146h3v3h-3zM281.5 151.1h3v3h-3zM295.6 150.2h3v3h-3zM296.5 148.7h3v3h-3zM283.3 150h3v3h-3zM264.5 148h3v3h-3zM287.6 149.5h3v3h-3zM262.3 146.5h3v3h-3zM303.1 149.5h3v3h-3zM250.8 149.7h3v3h-3zM245.5 145.8h3v3h-3zM313.5 151.7h3v3h-3zM309 151.1h3v3h-3zM251.5 152.6h3v3h-3zM289.7 150.3h3v3h-3zM265.7 148.5h3v3h-3zM248.2 148.5h3v3h-3zM279.6 150.7h3v3h-3zM308.4 150.7h3v3h-3zM315.5 150.8h3v3h-3zM282.3 151.5h3v3h-3zM282.2 152.9h3v3h-3zM270.7 149.2h3v3h-3zM310.5 150.5h3v3h-3zM273.9 152.4h3v3h-3zM272.1 150.1h3v3h-3zM289.7 148.1h3v3h-3zM262 149.8h3v3h-3zM262.7 149.4h3v3h-3zM281.9 149.8h3v3h-3zM275.6 149.4h3v3h-3zM297.4 152.2h3v3h-3zM253.4 151.2h3v3h-3zM270.8 151.9h3v3h-3zM282 152.6h3v3h-3zM259.4 148.5h3v3h-3zM311.3 149.8h3v3h-3zM305.8 152h3v3h-3zM248.3 150.1h3v3h-3zM291.4 149.4h3v3h-3zM309 151.2h3v3h-3zM303.2 152.6h3v3h-3zM293.1 151.7h3v3h-3zM264 148.3h3v3h-3zM282.2 151.2h3v3h-3zM252 150.1h3v3h-3zM256.9 151.5h3v3h-3zM300 150.7h3v3h-3zM309.4 149.4h3v3h-3zM304.7 149.6h3v3h-3zM298 151.7h3v3h-3zM309.4 150.8h3v3h-3zM307.1 151.4h3v3h-3zM244.3 150h3v3h-3zM280.9 151.8h3v3h-3zM271.5 153.9h3v3h-3zM247.3 151h3v3h-3zM297.7 151.7h3v3h-3zM283.9 152.8h3v3h-3zM282.3 152.3h3v3h-3zM317.2 150h3v3h-3zM316.5 151.3h3v3h-3z" fill="#0000ff"/>
</g>
<path d="M244.5 170.5v-4M244.5 87.9v4M258.3 170.5v-4M258.3 87.9v4M272.2 170.5v-4M272.2 87.9v4M286 170.5v-4M286 87.9v4M299.9 170.5v-4M299.9 87.9v4M313.7 170.5v-4M313.7 87.9v4M237.7 148.6h2M327.9 148.6h-2M237.7 136.4h4M327.9 136.4h-4M237.7 124.3h2M327.9 124.3h-2M237.7 112.2h4M327.9 112.2h-4M237.7 100h2M327.9 100h-2M237.7 160.7h4M327.9 160.7h-4" stroke="#5e5e5e" stroke-width="1" fill="none"/>
<path d="M237.2 87.9H328.4" stroke="#ababab" stroke-width="1.6"/>
<path d="M237.7 87.9V170.5H327.9V87.9" stroke="#5e5e5e" stroke-width="1" fill="none"/>
<text x="328.2" y="101.7" text-anchor="end" class="ttl">MEO  C26</text>
<path d="M339.6 160.5H428M339.6 148.5H428M339.6 136.5H428M339.6 124.5H428M339.6 112.5H428M339.6 99.5H428" stroke="#c6c6c6" stroke-width="1" stroke-dasharray="1.3 1.97" stroke-dashoffset="1" fill="none"/>
<clipPath id="kC27"><rect x="338.7" y="87.9" width="90.3" height="82.6"/></clipPath><g clip-path="url(#kC27)">
<path d="M346.2 147.3L347.5 145.2L351.8 146L355.3 149L360.5 145.8L365.6 148.4L370.8 148.1L376 147.1L381.2 149.2L386.4 149L391.5 149L396.7 148.7L401.9 147.4L407.1 148.7L412.3 146.3L417.4 149L420.2 147.5L420.2 151.9L417.4 152.9L412.3 151.6L407.1 153.5L401.9 153.1L396.7 153.5L391.5 154.2L386.4 154.2L381.2 154.8L376 153.7L370.8 153.3L365.6 152.8L360.5 150.2L355.3 154.2L351.8 152.1L347.5 151.3L346.2 151.2 Z" fill="#0000ff"/>
<path d="M348.6 142.2l3.8 3.8m0 -3.8l-3.8 3.8M363.2 150.4l3.8 3.8m0 -3.8l-3.8 3.8M352.6 145.5l3.8 3.8m0 -3.8l-3.8 3.8M378.9 152.8l3.8 3.8m0 -3.8l-3.8 3.8M374.5 142.9l3.8 3.8m0 -3.8l-3.8 3.8M393.9 151.4l3.8 3.8m0 -3.8l-3.8 3.8M371.2 143.3l3.8 3.8m0 -3.8l-3.8 3.8M368.9 150.6l3.8 3.8m0 -3.8l-3.8 3.8M387.5 144.6l3.8 3.8m0 -3.8l-3.8 3.8M407.6 151.7l3.8 3.8m0 -3.8l-3.8 3.8M411.9 144.3l3.8 3.8m0 -3.8l-3.8 3.8M364.9 151.7l3.8 3.8m0 -3.8l-3.8 3.8M399 143.7l3.8 3.8m0 -3.8l-3.8 3.8M375.5 151.9l3.8 3.8m0 -3.8l-3.8 3.8M372.7 143.2l3.8 3.8m0 -3.8l-3.8 3.8M355.5 149.5l3.8 3.8m0 -3.8l-3.8 3.8M404.9 144.7l3.8 3.8m0 -3.8l-3.8 3.8M365.4 150l3.8 3.8m0 -3.8l-3.8 3.8M371.2 144.1l3.8 3.8m0 -3.8l-3.8 3.8M390.1 153.1l3.8 3.8m0 -3.8l-3.8 3.8M382.1 146.7l3.8 3.8m0 -3.8l-3.8 3.8M379.9 152.1l3.8 3.8m0 -3.8l-3.8 3.8M375.6 143.3l3.8 3.8m0 -3.8l-3.8 3.8M396.4 152l3.8 3.8m0 -3.8l-3.8 3.8M350 141.4l3.8 3.8m0 -3.8l-3.8 3.8M397.5 151.2l3.8 3.8m0 -3.8l-3.8 3.8M347.9 141.2l3.8 3.8m0 -3.8l-3.8 3.8M409.9 150.9l3.8 3.8m0 -3.8l-3.8 3.8M356.3 144.3l3.8 3.8m0 -3.8l-3.8 3.8M369.4 151.5l3.8 3.8m0 -3.8l-3.8 3.8M417.4 146.4l3.8 3.8m0 -3.8l-3.8 3.8M401.9 152.7l3.8 3.8m0 -3.8l-3.8 3.8M355.8 144.6l3.8 3.8m0 -3.8l-3.8 3.8M382.3 152.6l3.8 3.8m0 -3.8l-3.8 3.8M389.2 147l3.8 3.8m0 -3.8l-3.8 3.8M361.9 150.6l3.8 3.8m0 -3.8l-3.8 3.8M402.1 145l3.8 3.8m0 -3.8l-3.8 3.8M415.7 151.8l3.8 3.8m0 -3.8l-3.8 3.8M396.3 146.2l3.8 3.8m0 -3.8l-3.8 3.8M403.1 151.9l3.8 3.8m0 -3.8l-3.8 3.8M403.7 144.6l3.8 3.8m0 -3.8l-3.8 3.8M359.4 148.5l3.8 3.8m0 -3.8l-3.8 3.8M394 146.8l3.8 3.8m0 -3.8l-3.8 3.8M408.8 150.7l3.8 3.8m0 -3.8l-3.8 3.8M358.8 143.7l3.8 3.8m0 -3.8l-3.8 3.8M403.7 152.8l3.8 3.8m0 -3.8l-3.8 3.8M355.5 145.9l3.8 3.8m0 -3.8l-3.8 3.8M361.5 150.5l3.8 3.8m0 -3.8l-3.8 3.8M383.1 146l3.8 3.8m0 -3.8l-3.8 3.8M355.7 150.5l3.8 3.8m0 -3.8l-3.8 3.8M410.7 143.8l3.8 3.8m0 -3.8l-3.8 3.8M369.8 150.7l3.8 3.8m0 -3.8l-3.8 3.8M375.8 144.7l3.8 3.8m0 -3.8l-3.8 3.8M400.8 152.4l3.8 3.8m0 -3.8l-3.8 3.8M362.6 144.7l3.8 3.8m0 -3.8l-3.8 3.8M355.7 150.3l3.8 3.8m0 -3.8l-3.8 3.8M398.4 144.6l3.8 3.8m0 -3.8l-3.8 3.8M362.2 149l3.8 3.8m0 -3.8l-3.8 3.8M354 145.1l3.8 3.8m0 -3.8l-3.8 3.8M384.5 153.5l3.8 3.8m0 -3.8l-3.8 3.8M394.8 145.9l3.8 3.8m0 -3.8l-3.8 3.8M360.5 149.3l3.8 3.8m0 -3.8l-3.8 3.8M414 146.5l3.8 3.8m0 -3.8l-3.8 3.8M397.8 150.6l3.8 3.8m0 -3.8l-3.8 3.8M345.8 141.2l3.8 3.8m0 -3.8l-3.8 3.8M412.4 149.7l3.8 3.8m0 -3.8l-3.8 3.8M395.4 144.7l3.8 3.8m0 -3.8l-3.8 3.8M370.6 150.8l3.8 3.8m0 -3.8l-3.8 3.8M362.9 144.9l3.8 3.8m0 -3.8l-3.8 3.8M389.9 152l3.8 3.8m0 -3.8l-3.8 3.8M410 144.7l3.8 3.8m0 -3.8l-3.8 3.8M347.1 150.8l3.8 3.8m0 -3.8l-3.8 3.8M374.1 143.9l3.8 3.8m0 -3.8l-3.8 3.8M389.9 152l3.8 3.8m0 -3.8l-3.8 3.8M409.6 144.2l3.8 3.8m0 -3.8l-3.8 3.8M357.5 149.9l3.8 3.8m0 -3.8l-3.8 3.8M345.6 111.9l3.8 3.8m0 -3.8l-3.8 3.8M347.3 118.8l3.8 3.8m0 -3.8l-3.8 3.8M343.9 125l3.8 3.8m0 -3.8l-3.8 3.8M346.1 129.7l3.8 3.8m0 -3.8l-3.8 3.8M346.8 133.1l3.8 3.8m0 -3.8l-3.8 3.8M346.1 139.2l3.8 3.8m0 -3.8l-3.8 3.8M349.9 140.1l3.8 3.8m0 -3.8l-3.8 3.8M362 139.2l3.8 3.8m0 -3.8l-3.8 3.8M370.3 135.7l3.8 3.8m0 -3.8l-3.8 3.8M368.6 137.8l3.8 3.8m0 -3.8l-3.8 3.8M374.1 140.9l3.8 3.8m0 -3.8l-3.8 3.8M379.3 154.4l3.8 3.8m0 -3.8l-3.8 3.8M400.3 140.1l3.8 3.8m0 -3.8l-3.8 3.8M411.2 141.8l3.8 3.8m0 -3.8l-3.8 3.8" stroke="#0000ff" stroke-width="0.85" fill="none"/>
<path d="M349.3 143h2.3v2.3h-2.3zM364 151.1h2.3v2.3h-2.3zM353.4 146.3h2.3v2.3h-2.3zM379.7 153.6h2.3v2.3h-2.3zM375.3 143.7h2.3v2.3h-2.3zM394.6 152.2h2.3v2.3h-2.3zM372 144.1h2.3v2.3h-2.3zM369.7 151.3h2.3v2.3h-2.3zM388.2 145.4h2.3v2.3h-2.3zM408.4 152.4h2.3v2.3h-2.3zM412.7 145h2.3v2.3h-2.3zM365.6 152.4h2.3v2.3h-2.3zM399.7 144.4h2.3v2.3h-2.3zM376.2 152.7h2.3v2.3h-2.3zM373.4 143.9h2.3v2.3h-2.3zM356.3 150.2h2.3v2.3h-2.3zM405.7 145.4h2.3v2.3h-2.3zM366.2 150.7h2.3v2.3h-2.3zM372 144.9h2.3v2.3h-2.3zM390.8 153.8h2.3v2.3h-2.3zM382.8 147.5h2.3v2.3h-2.3zM380.7 152.9h2.3v2.3h-2.3zM376.4 144h2.3v2.3h-2.3zM397.2 152.7h2.3v2.3h-2.3zM350.8 142.2h2.3v2.3h-2.3zM398.3 151.9h2.3v2.3h-2.3zM348.7 141.9h2.3v2.3h-2.3zM410.7 151.7h2.3v2.3h-2.3zM357 145h2.3v2.3h-2.3zM370.2 152.2h2.3v2.3h-2.3zM418.2 147.2h2.3v2.3h-2.3zM402.7 153.4h2.3v2.3h-2.3zM356.6 145.4h2.3v2.3h-2.3zM383 153.4h2.3v2.3h-2.3zM390 147.8h2.3v2.3h-2.3zM362.7 151.4h2.3v2.3h-2.3zM402.8 145.8h2.3v2.3h-2.3zM416.4 152.5h2.3v2.3h-2.3zM397.1 146.9h2.3v2.3h-2.3zM403.8 152.6h2.3v2.3h-2.3zM404.4 145.3h2.3v2.3h-2.3zM360.1 149.2h2.3v2.3h-2.3zM394.8 147.5h2.3v2.3h-2.3zM409.6 151.4h2.3v2.3h-2.3zM359.5 144.4h2.3v2.3h-2.3zM404.4 153.5h2.3v2.3h-2.3zM356.3 146.6h2.3v2.3h-2.3zM362.2 151.2h2.3v2.3h-2.3zM383.9 146.7h2.3v2.3h-2.3zM356.4 151.2h2.3v2.3h-2.3zM411.4 144.5h2.3v2.3h-2.3zM370.5 151.5h2.3v2.3h-2.3zM376.5 145.5h2.3v2.3h-2.3zM401.5 153.2h2.3v2.3h-2.3zM363.4 145.4h2.3v2.3h-2.3zM356.5 151h2.3v2.3h-2.3zM399.2 145.4h2.3v2.3h-2.3zM363 149.8h2.3v2.3h-2.3zM354.8 145.8h2.3v2.3h-2.3zM385.3 154.2h2.3v2.3h-2.3zM395.5 146.6h2.3v2.3h-2.3zM361.3 150h2.3v2.3h-2.3zM414.7 147.2h2.3v2.3h-2.3zM398.6 151.4h2.3v2.3h-2.3zM346.6 142h2.3v2.3h-2.3zM413.2 150.4h2.3v2.3h-2.3zM396.1 145.4h2.3v2.3h-2.3zM371.3 151.6h2.3v2.3h-2.3zM363.7 145.7h2.3v2.3h-2.3zM390.6 152.8h2.3v2.3h-2.3zM410.7 145.4h2.3v2.3h-2.3zM347.9 151.5h2.3v2.3h-2.3zM374.9 144.7h2.3v2.3h-2.3zM390.6 152.7h2.3v2.3h-2.3zM410.3 145h2.3v2.3h-2.3zM358.3 150.6h2.3v2.3h-2.3zM346.4 112.6h2.3v2.3h-2.3zM348.1 119.5h2.3v2.3h-2.3zM344.7 125.8h2.3v2.3h-2.3zM346.9 130.4h2.3v2.3h-2.3zM347.6 133.8h2.3v2.3h-2.3zM346.9 139.9h2.3v2.3h-2.3zM350.7 140.8h2.3v2.3h-2.3zM362.8 139.9h2.3v2.3h-2.3zM371.1 136.4h2.3v2.3h-2.3zM369.4 138.5h2.3v2.3h-2.3zM374.9 141.7h2.3v2.3h-2.3zM380.1 155.2h2.3v2.3h-2.3zM401.1 140.8h2.3v2.3h-2.3zM412 142.5h2.3v2.3h-2.3zM382.3 152.2h3v3h-3zM355.8 148.7h3v3h-3zM381.9 146.7h3v3h-3zM417.2 150.7h3v3h-3zM400.7 145.7h3v3h-3zM372.9 148h3v3h-3zM347.5 145.4h3v3h-3zM370.5 152.1h3v3h-3zM387.9 148.4h3v3h-3zM386 148.1h3v3h-3zM381.7 148.4h3v3h-3zM389.6 149.1h3v3h-3zM387.2 149.4h3v3h-3zM387.7 147.9h3v3h-3zM411.7 148h3v3h-3zM404.7 148.5h3v3h-3zM413 148.6h3v3h-3zM411.3 144.6h3v3h-3zM395.7 149.9h3v3h-3zM363.6 145.8h3v3h-3zM416.2 151h3v3h-3zM379.6 148h3v3h-3zM362.8 148h3v3h-3zM393.4 148.7h3v3h-3zM357.7 148.9h3v3h-3zM354.8 146.1h3v3h-3zM378.4 147.1h3v3h-3zM347.4 146.3h3v3h-3zM366.2 148.5h3v3h-3zM374.9 152.7h3v3h-3zM412.9 148.1h3v3h-3zM354.6 149.4h3v3h-3zM392.6 149.7h3v3h-3zM374.2 147.2h3v3h-3zM407.3 148.8h3v3h-3zM349.1 147.9h3v3h-3zM408.5 148.8h3v3h-3zM376.9 145.9h3v3h-3zM371.3 150.6h3v3h-3zM374.5 149.5h3v3h-3zM369.5 146.4h3v3h-3zM401.4 151.6h3v3h-3zM374 149.2h3v3h-3zM378.5 149.2h3v3h-3zM387.9 146.9h3v3h-3zM400.9 148.1h3v3h-3zM353.7 150.3h3v3h-3zM412 148h3v3h-3zM382.7 151.4h3v3h-3zM369.9 146.2h3v3h-3zM407.4 149.3h3v3h-3zM407.7 145.6h3v3h-3zM402.6 149.4h3v3h-3zM360.8 146.8h3v3h-3zM399.5 151.6h3v3h-3zM363.5 147.4h3v3h-3zM393.1 152.1h3v3h-3zM349.2 149.5h3v3h-3zM361.5 149.8h3v3h-3zM385.6 150.9h3v3h-3zM397.9 148.4h3v3h-3zM382.8 150h3v3h-3zM370.6 151.5h3v3h-3zM385.5 151.8h3v3h-3zM415.2 147.4h3v3h-3zM393.4 148.2h3v3h-3zM397.2 147.2h3v3h-3zM349.4 146.3h3v3h-3zM372.6 148.4h3v3h-3zM406.3 146.3h3v3h-3zM377.1 149.6h3v3h-3zM413.3 147.8h3v3h-3zM389.7 150.8h3v3h-3zM417.6 150.8h3v3h-3zM363.1 147h3v3h-3zM355.8 147.4h3v3h-3zM408.8 146.2h3v3h-3zM371.6 149.9h3v3h-3zM385.6 152.3h3v3h-3zM379.3 149.4h3v3h-3zM345.7 142.8h3v3h-3zM379.6 148.4h3v3h-3zM417.5 148.1h3v3h-3zM371.6 148.4h3v3h-3zM347.6 147.9h3v3h-3zM347.1 145.6h3v3h-3zM412.5 149.1h3v3h-3zM370.9 149.3h3v3h-3zM389.5 150.4h3v3h-3zM377.8 152.2h3v3h-3zM379.8 150.9h3v3h-3zM370.4 148.2h3v3h-3zM376.8 147.8h3v3h-3zM372.3 149.6h3v3h-3zM376.6 148.3h3v3h-3zM414.8 149.5h3v3h-3zM364 150.6h3v3h-3zM356.3 150.7h3v3h-3zM365.4 149.6h3v3h-3zM418 149h3v3h-3zM408.1 148.8h3v3h-3zM416.1 148.4h3v3h-3zM348.5 142.8h3v3h-3zM358.5 147.5h3v3h-3zM377.9 147.5h3v3h-3zM380.9 146.3h3v3h-3zM349.6 149.9h3v3h-3zM410.5 147.3h3v3h-3zM402 147h3v3h-3zM409 145.7h3v3h-3zM412.7 149.4h3v3h-3zM365.1 149.7h3v3h-3zM359.7 146.3h3v3h-3zM351.4 144.4h3v3h-3zM416 147.2h3v3h-3zM391.2 150.2h3v3h-3zM417.1 150.1h3v3h-3zM360.7 146.5h3v3h-3zM367.6 148h3v3h-3zM357.5 145.9h3v3h-3zM381.6 151.6h3v3h-3zM363.4 147.2h3v3h-3zM345.1 147.9h3v3h-3zM380.4 152.6h3v3h-3zM365.6 151.3h3v3h-3zM369.8 147h3v3h-3zM373.2 147.2h3v3h-3zM363.3 146.7h3v3h-3zM400.7 146.8h3v3h-3zM399.1 151.3h3v3h-3zM411.4 146.8h3v3h-3zM407.2 150.3h3v3h-3zM405.1 147.8h3v3h-3zM371 149.9h3v3h-3zM415 146.8h3v3h-3zM345.7 147.3h3v3h-3zM357 147.3h3v3h-3zM404.4 149.3h3v3h-3zM381.2 152.3h3v3h-3zM405.5 147.9h3v3h-3zM349.3 147.2h3v3h-3zM414.7 148.3h3v3h-3zM346.9 144.6h3v3h-3zM384 150.9h3v3h-3zM371.8 151.3h3v3h-3zM380.7 146.9h3v3h-3zM397.1 147.9h3v3h-3zM378.8 152.7h3v3h-3zM364 150.5h3v3h-3z" fill="#0000ff"/>
</g>
<path d="M345.5 170.5v-4M345.5 87.9v4M359.4 170.5v-4M359.4 87.9v4M373.2 170.5v-4M373.2 87.9v4M387.1 170.5v-4M387.1 87.9v4M400.9 170.5v-4M400.9 87.9v4M414.8 170.5v-4M414.8 87.9v4M338.7 148.6h2M429 148.6h-2M338.7 136.4h4M429 136.4h-4M338.7 124.3h2M429 124.3h-2M338.7 112.2h4M429 112.2h-4M338.7 100h2M429 100h-2M338.7 160.7h4M429 160.7h-4" stroke="#5e5e5e" stroke-width="1" fill="none"/>
<path d="M338.2 87.9H429.5" stroke="#ababab" stroke-width="1.6"/>
<path d="M338.7 87.9V170.5H429V87.9" stroke="#5e5e5e" stroke-width="1" fill="none"/>
<text x="429.3" y="101.7" text-anchor="end" class="ttl">MEO  C27</text>
<path d="M440.7 160.5H529.2M440.7 148.5H529.2M440.7 136.5H529.2M440.7 124.5H529.2M440.7 112.5H529.2M440.7 99.5H529.2" stroke="#c6c6c6" stroke-width="1" stroke-dasharray="1.3 1.97" stroke-dashoffset="1" fill="none"/>
<clipPath id="kC28"><rect x="439.8" y="87.9" width="90.4" height="82.6"/></clipPath><g clip-path="url(#kC28)">
<path d="M447.2 150.8L449.4 150.3L454.5 149.9L458.9 150.4L462.3 146.6L464.9 145.7L469.2 148.3L473.5 147.7L478.7 147.7L483.9 147.1L489.1 147.4L494.3 148.3L499.4 149.3L504.6 147L509.8 146.2L515 147.7L520.2 148.3L522 149.5L522 154.4L520.2 154L515 153.8L509.8 152.8L504.6 153.3L499.4 155.2L494.3 154L489.1 153.1L483.9 153.7L478.7 153.8L473.5 153.8L469.2 154L464.9 152.6L462.3 152.2L458.9 154.6L454.5 154.5L449.4 154.9L447.2 154.7 Z" fill="#0000ff"/>
<path d="M505.7 142.6l3.8 3.8m0 -3.8l-3.8 3.8M449.8 153.2l3.8 3.8m0 -3.8l-3.8 3.8M492 144.6l3.8 3.8m0 -3.8l-3.8 3.8M494.5 154.1l3.8 3.8m0 -3.8l-3.8 3.8M502.1 144.1l3.8 3.8m0 -3.8l-3.8 3.8M516 152.1l3.8 3.8m0 -3.8l-3.8 3.8M504.7 142.5l3.8 3.8m0 -3.8l-3.8 3.8M517 153.2l3.8 3.8m0 -3.8l-3.8 3.8M518.8 145.8l3.8 3.8m0 -3.8l-3.8 3.8M495.7 152l3.8 3.8m0 -3.8l-3.8 3.8M499.7 145.4l3.8 3.8m0 -3.8l-3.8 3.8M495.1 152.8l3.8 3.8m0 -3.8l-3.8 3.8M453.7 147.3l3.8 3.8m0 -3.8l-3.8 3.8M511 151.7l3.8 3.8m0 -3.8l-3.8 3.8M507.1 143l3.8 3.8m0 -3.8l-3.8 3.8M472.3 152.4l3.8 3.8m0 -3.8l-3.8 3.8M519.4 144.8l3.8 3.8m0 -3.8l-3.8 3.8M473.8 152l3.8 3.8m0 -3.8l-3.8 3.8M479.1 142.8l3.8 3.8m0 -3.8l-3.8 3.8M481.7 151.7l3.8 3.8m0 -3.8l-3.8 3.8M519.9 146.5l3.8 3.8m0 -3.8l-3.8 3.8M464.5 152.1l3.8 3.8m0 -3.8l-3.8 3.8M482.6 144.5l3.8 3.8m0 -3.8l-3.8 3.8M489.7 151l3.8 3.8m0 -3.8l-3.8 3.8M475.9 145.3l3.8 3.8m0 -3.8l-3.8 3.8M455.1 151.6l3.8 3.8m0 -3.8l-3.8 3.8M499.8 145.2l3.8 3.8m0 -3.8l-3.8 3.8M505.5 152.8l3.8 3.8m0 -3.8l-3.8 3.8M506.3 141.5l3.8 3.8m0 -3.8l-3.8 3.8M447.8 151.8l3.8 3.8m0 -3.8l-3.8 3.8M505.4 143.7l3.8 3.8m0 -3.8l-3.8 3.8M469 151.3l3.8 3.8m0 -3.8l-3.8 3.8M474.2 144.3l3.8 3.8m0 -3.8l-3.8 3.8M504.4 150.9l3.8 3.8m0 -3.8l-3.8 3.8M479.3 143.9l3.8 3.8m0 -3.8l-3.8 3.8M474.9 151.8l3.8 3.8m0 -3.8l-3.8 3.8M516.1 144.1l3.8 3.8m0 -3.8l-3.8 3.8M481.3 153.1l3.8 3.8m0 -3.8l-3.8 3.8M507.4 141.9l3.8 3.8m0 -3.8l-3.8 3.8M500.5 151.5l3.8 3.8m0 -3.8l-3.8 3.8M501.4 145l3.8 3.8m0 -3.8l-3.8 3.8M506 152.8l3.8 3.8m0 -3.8l-3.8 3.8M486.7 144.1l3.8 3.8m0 -3.8l-3.8 3.8M487.3 152.7l3.8 3.8m0 -3.8l-3.8 3.8M469 144.7l3.8 3.8m0 -3.8l-3.8 3.8M480.9 153.2l3.8 3.8m0 -3.8l-3.8 3.8M447.3 147.7l3.8 3.8m0 -3.8l-3.8 3.8M513.2 151.3l3.8 3.8m0 -3.8l-3.8 3.8M485.9 143.5l3.8 3.8m0 -3.8l-3.8 3.8M472 152.7l3.8 3.8m0 -3.8l-3.8 3.8M501.6 144.1l3.8 3.8m0 -3.8l-3.8 3.8M459.9 151.2l3.8 3.8m0 -3.8l-3.8 3.8M500.4 143.6l3.8 3.8m0 -3.8l-3.8 3.8M461.6 150.9l3.8 3.8m0 -3.8l-3.8 3.8M447.4 146.7l3.8 3.8m0 -3.8l-3.8 3.8M497 154.1l3.8 3.8m0 -3.8l-3.8 3.8M498.1 145.8l3.8 3.8m0 -3.8l-3.8 3.8M468 152.3l3.8 3.8m0 -3.8l-3.8 3.8M477.9 144.6l3.8 3.8m0 -3.8l-3.8 3.8M464.1 151.9l3.8 3.8m0 -3.8l-3.8 3.8M449.5 146.3l3.8 3.8m0 -3.8l-3.8 3.8M486.4 150.7l3.8 3.8m0 -3.8l-3.8 3.8M509.2 142l3.8 3.8m0 -3.8l-3.8 3.8M445.7 152.8l3.8 3.8m0 -3.8l-3.8 3.8M453.2 146.3l3.8 3.8m0 -3.8l-3.8 3.8M496.2 153.8l3.8 3.8m0 -3.8l-3.8 3.8M519.6 144.4l3.8 3.8m0 -3.8l-3.8 3.8M474.9 153l3.8 3.8m0 -3.8l-3.8 3.8M456.5 146.7l3.8 3.8m0 -3.8l-3.8 3.8M449 153.7l3.8 3.8m0 -3.8l-3.8 3.8M462.8 141.7l3.8 3.8m0 -3.8l-3.8 3.8M510 152.4l3.8 3.8m0 -3.8l-3.8 3.8M462.2 142.8l3.8 3.8m0 -3.8l-3.8 3.8M462.5 150.3l3.8 3.8m0 -3.8l-3.8 3.8M482.7 143l3.8 3.8m0 -3.8l-3.8 3.8M470 151.9l3.8 3.8m0 -3.8l-3.8 3.8M487.5 144.1l3.8 3.8m0 -3.8l-3.8 3.8M507.8 150.4l3.8 3.8m0 -3.8l-3.8 3.8M470.6 96l3.8 3.8m0 -3.8l-3.8 3.8M448.3 121.9l3.8 3.8m0 -3.8l-3.8 3.8M444.9 131.4l3.8 3.8m0 -3.8l-3.8 3.8M471.6 135.4l3.8 3.8m0 -3.8l-3.8 3.8M469.6 139.2l3.8 3.8m0 -3.8l-3.8 3.8M485.8 138.8l3.8 3.8m0 -3.8l-3.8 3.8M509.6 140.1l3.8 3.8m0 -3.8l-3.8 3.8" stroke="#0000ff" stroke-width="0.85" fill="none"/>
<path d="M506.4 143.3h2.3v2.3h-2.3zM450.5 154h2.3v2.3h-2.3zM492.7 145.4h2.3v2.3h-2.3zM495.3 154.9h2.3v2.3h-2.3zM502.9 144.9h2.3v2.3h-2.3zM516.8 152.8h2.3v2.3h-2.3zM505.5 143.2h2.3v2.3h-2.3zM517.8 153.9h2.3v2.3h-2.3zM519.6 146.6h2.3v2.3h-2.3zM496.4 152.8h2.3v2.3h-2.3zM500.4 146.2h2.3v2.3h-2.3zM495.8 153.5h2.3v2.3h-2.3zM454.5 148.1h2.3v2.3h-2.3zM511.7 152.5h2.3v2.3h-2.3zM507.8 143.8h2.3v2.3h-2.3zM473.1 153.1h2.3v2.3h-2.3zM520.1 145.5h2.3v2.3h-2.3zM474.5 152.7h2.3v2.3h-2.3zM479.9 143.6h2.3v2.3h-2.3zM482.5 152.5h2.3v2.3h-2.3zM520.7 147.3h2.3v2.3h-2.3zM465.3 152.8h2.3v2.3h-2.3zM483.3 145.2h2.3v2.3h-2.3zM490.4 151.8h2.3v2.3h-2.3zM476.7 146h2.3v2.3h-2.3zM455.9 152.3h2.3v2.3h-2.3zM500.5 145.9h2.3v2.3h-2.3zM506.2 153.6h2.3v2.3h-2.3zM507.1 142.2h2.3v2.3h-2.3zM448.6 152.6h2.3v2.3h-2.3zM506.1 144.5h2.3v2.3h-2.3zM469.8 152.1h2.3v2.3h-2.3zM475 145.1h2.3v2.3h-2.3zM505.1 151.6h2.3v2.3h-2.3zM480.1 144.6h2.3v2.3h-2.3zM475.6 152.6h2.3v2.3h-2.3zM516.9 144.9h2.3v2.3h-2.3zM482 153.9h2.3v2.3h-2.3zM508.1 142.7h2.3v2.3h-2.3zM501.2 152.3h2.3v2.3h-2.3zM502.2 145.8h2.3v2.3h-2.3zM506.8 153.5h2.3v2.3h-2.3zM487.5 144.8h2.3v2.3h-2.3zM488 153.4h2.3v2.3h-2.3zM469.8 145.5h2.3v2.3h-2.3zM481.7 154h2.3v2.3h-2.3zM448.1 148.5h2.3v2.3h-2.3zM514 152h2.3v2.3h-2.3zM486.7 144.2h2.3v2.3h-2.3zM472.7 153.4h2.3v2.3h-2.3zM502.4 144.8h2.3v2.3h-2.3zM460.6 151.9h2.3v2.3h-2.3zM501.1 144.3h2.3v2.3h-2.3zM462.4 151.6h2.3v2.3h-2.3zM448.1 147.5h2.3v2.3h-2.3zM497.8 154.8h2.3v2.3h-2.3zM498.9 146.6h2.3v2.3h-2.3zM468.8 153.1h2.3v2.3h-2.3zM478.7 145.3h2.3v2.3h-2.3zM464.8 152.6h2.3v2.3h-2.3zM450.2 147h2.3v2.3h-2.3zM487.2 151.5h2.3v2.3h-2.3zM510 142.7h2.3v2.3h-2.3zM446.4 153.6h2.3v2.3h-2.3zM454 147h2.3v2.3h-2.3zM496.9 154.5h2.3v2.3h-2.3zM520.3 145.1h2.3v2.3h-2.3zM475.6 153.8h2.3v2.3h-2.3zM457.2 147.4h2.3v2.3h-2.3zM449.8 154.4h2.3v2.3h-2.3zM463.5 142.5h2.3v2.3h-2.3zM510.8 153.2h2.3v2.3h-2.3zM463 143.6h2.3v2.3h-2.3zM463.3 151h2.3v2.3h-2.3zM483.5 143.7h2.3v2.3h-2.3zM470.8 152.6h2.3v2.3h-2.3zM488.3 144.9h2.3v2.3h-2.3zM508.6 151.2h2.3v2.3h-2.3zM471.4 96.8h2.3v2.3h-2.3zM449.1 122.6h2.3v2.3h-2.3zM445.7 132.2h2.3v2.3h-2.3zM472.4 136.2h2.3v2.3h-2.3zM470.4 139.9h2.3v2.3h-2.3zM486.6 139.5h2.3v2.3h-2.3zM510.4 140.8h2.3v2.3h-2.3zM480 145.9h3v3h-3zM517 152.1h3v3h-3zM498.5 150.7h3v3h-3zM473.9 152.4h3v3h-3zM449.9 153.3h3v3h-3zM463.4 146.5h3v3h-3zM452.6 148.9h3v3h-3zM471.1 150.3h3v3h-3zM488.4 151h3v3h-3zM479.7 145.4h3v3h-3zM490.9 147.1h3v3h-3zM495.2 150.5h3v3h-3zM505.3 144.4h3v3h-3zM507.9 150h3v3h-3zM489.2 148.6h3v3h-3zM498.9 150.2h3v3h-3zM475 149.9h3v3h-3zM454 149.9h3v3h-3zM453.9 151.7h3v3h-3zM470.2 145.8h3v3h-3zM493.7 150h3v3h-3zM491.7 151h3v3h-3zM447.7 149.1h3v3h-3zM463.8 147h3v3h-3zM472 151.2h3v3h-3zM514 148.7h3v3h-3zM455.5 150.8h3v3h-3zM504.5 150.2h3v3h-3zM458.8 147.3h3v3h-3zM455.3 149.8h3v3h-3zM519.2 146.2h3v3h-3zM519.8 148h3v3h-3zM465.7 148.4h3v3h-3zM492.3 151.8h3v3h-3zM481.8 149.9h3v3h-3zM519.8 147.2h3v3h-3zM468.9 146.7h3v3h-3zM462.3 148.5h3v3h-3zM481 147.5h3v3h-3zM492 145.2h3v3h-3zM498.8 146.9h3v3h-3zM472.8 150.5h3v3h-3zM500.5 149.7h3v3h-3zM475 149.4h3v3h-3zM467.3 145.4h3v3h-3zM458.5 150.8h3v3h-3zM480.6 147.5h3v3h-3zM507 144.6h3v3h-3zM499.1 150h3v3h-3zM509.8 151.6h3v3h-3zM506.6 147h3v3h-3zM493.8 150h3v3h-3zM474.1 149h3v3h-3zM470.1 145.4h3v3h-3zM488.7 147.1h3v3h-3zM475.2 147h3v3h-3zM516.2 146.5h3v3h-3zM481.5 145.4h3v3h-3zM492 152.5h3v3h-3zM473.1 146.1h3v3h-3zM457.7 149.4h3v3h-3zM494.5 151.1h3v3h-3zM482.7 150.5h3v3h-3zM480.6 150h3v3h-3zM479 146.6h3v3h-3zM503.7 148.4h3v3h-3zM507.6 143.3h3v3h-3zM471.6 149.2h3v3h-3zM457.6 150h3v3h-3zM470.6 150.9h3v3h-3zM489.8 150.2h3v3h-3zM484.3 150.9h3v3h-3zM511.3 144.3h3v3h-3zM513.8 151.5h3v3h-3zM468.5 146.1h3v3h-3zM471.8 146.3h3v3h-3zM512.4 148.9h3v3h-3zM502.2 148.8h3v3h-3zM459.7 147.5h3v3h-3zM507.3 143.6h3v3h-3zM476.5 146.1h3v3h-3zM455.4 149.9h3v3h-3zM499.2 150.6h3v3h-3zM469 148h3v3h-3zM502.9 150.3h3v3h-3zM507.6 149.2h3v3h-3zM491.7 149.1h3v3h-3zM463.1 148h3v3h-3zM493.2 147.8h3v3h-3zM501.3 150.4h3v3h-3zM492.4 146.6h3v3h-3zM502.2 149.6h3v3h-3zM464.1 148.6h3v3h-3zM458 151.4h3v3h-3zM466.2 148.5h3v3h-3zM454.5 152.3h3v3h-3zM513.8 144.4h3v3h-3zM511.5 149.2h3v3h-3zM484.9 149.9h3v3h-3zM468.1 151.6h3v3h-3zM473.4 150.9h3v3h-3zM473.5 149.7h3v3h-3zM463.5 146.3h3v3h-3zM480.1 147.2h3v3h-3zM491.6 147.3h3v3h-3zM508.4 148h3v3h-3zM505.1 151.8h3v3h-3zM458.6 148.7h3v3h-3zM490.7 148h3v3h-3zM514.3 152.6h3v3h-3zM496.9 152h3v3h-3zM498.3 151h3v3h-3zM447.3 152.5h3v3h-3zM496.4 152.1h3v3h-3zM455 152.1h3v3h-3zM460.7 149.9h3v3h-3zM488.1 148.1h3v3h-3zM504 146.9h3v3h-3zM515.7 149.7h3v3h-3zM463.8 142.6h3v3h-3zM453.1 151.6h3v3h-3zM505.5 148.6h3v3h-3zM457 149.6h3v3h-3zM484.1 149.2h3v3h-3zM447.5 150.4h3v3h-3zM500.5 145.1h3v3h-3zM501 148.5h3v3h-3zM506.5 145h3v3h-3zM504.3 147.8h3v3h-3zM502.3 150.2h3v3h-3zM447.7 153.4h3v3h-3zM461.4 145.6h3v3h-3zM463.2 150.9h3v3h-3zM507.1 142.8h3v3h-3zM485.2 147.6h3v3h-3zM455.2 149.2h3v3h-3zM458.4 149.2h3v3h-3zM456.3 149.1h3v3h-3zM453.6 147.9h3v3h-3zM517.9 151.5h3v3h-3zM508.1 147.7h3v3h-3zM480.4 145.9h3v3h-3zM485.5 147.9h3v3h-3zM515.3 152.6h3v3h-3zM501.2 148.3h3v3h-3zM490.5 145.8h3v3h-3zM496.5 150h3v3h-3zM517.8 149.2h3v3h-3zM484.8 148.2h3v3h-3zM516.3 149.6h3v3h-3zM474.5 151.9h3v3h-3zM492.6 149.3h3v3h-3zM454.9 149h3v3h-3zM519.5 152.5h3v3h-3zM511.6 146.5h3v3h-3zM505.5 151.3h3v3h-3zM468.3 149h3v3h-3zM484.9 148.2h3v3h-3zM505.6 148.4h3v3h-3zM492.8 145.7h3v3h-3zM490.5 146.1h3v3h-3zM487.3 147.8h3v3h-3zM461.3 150.8h3v3h-3zM504.7 147h3v3h-3zM497.2 150.6h3v3h-3zM510.3 151h3v3h-3zM459.4 145.9h3v3h-3z" fill="#0000ff"/>
</g>
<path d="M446.6 170.5v-4M446.6 87.9v4M460.5 170.5v-4M460.5 87.9v4M474.3 170.5v-4M474.3 87.9v4M488.2 170.5v-4M488.2 87.9v4M502 170.5v-4M502 87.9v4M515.9 170.5v-4M515.9 87.9v4M439.8 148.6h2M530.2 148.6h-2M439.8 136.4h4M530.2 136.4h-4M439.8 124.3h2M530.2 124.3h-2M439.8 112.2h4M530.2 112.2h-4M439.8 100h2M530.2 100h-2M439.8 160.7h4M530.2 160.7h-4" stroke="#5e5e5e" stroke-width="1" fill="none"/>
<path d="M439.3 87.9H530.7" stroke="#ababab" stroke-width="1.6"/>
<path d="M439.8 87.9V170.5H530.2V87.9" stroke="#5e5e5e" stroke-width="1" fill="none"/>
<text x="530.5" y="101.7" text-anchor="end" class="ttl">MEO  C28</text>
<path d="M36.4 247.5H124.5M36.4 235.5H124.5M36.4 222.5H124.5M36.4 210.5H124.5M36.4 198.5H124.5M36.4 186.5H124.5" stroke="#c6c6c6" stroke-width="1" stroke-dasharray="1.3 1.97" stroke-dashoffset="1" fill="none"/>
<clipPath id="kC29"><rect x="35.5" y="174.5" width="90" height="83"/></clipPath><g clip-path="url(#kC29)">
<path d="M43.2 231L44.5 230.7L48.8 233.1L52.3 236.3L55.7 231.4L60.9 230.4L64.4 235.2L69.5 235.2L74.7 233.7L79.9 232L85.1 231L90.3 234.6L95.4 234.6L100.6 235L105.8 232.6L109.3 230.5L114.4 235L118 235.5L118 240.4L114.4 240.2L109.3 237.1L105.8 238.2L100.6 240.2L95.4 240.7L90.3 240.7L85.1 238.4L79.9 238.1L74.7 239.8L69.5 240.8L64.4 240.8L60.9 238.3L55.7 237.9L52.3 240.9L48.8 239.7L44.5 239L43.2 238.4 Z" fill="#0000ff"/>
<path d="M86.2 229.2l3.8 3.8m0 -3.8l-3.8 3.8M93.5 239.7l3.8 3.8m0 -3.8l-3.8 3.8M72.8 229.7l3.8 3.8m0 -3.8l-3.8 3.8M65.8 238.8l3.8 3.8m0 -3.8l-3.8 3.8M73.2 230.7l3.8 3.8m0 -3.8l-3.8 3.8M41.7 237.6l3.8 3.8m0 -3.8l-3.8 3.8M98.5 231.8l3.8 3.8m0 -3.8l-3.8 3.8M102.2 236.3l3.8 3.8m0 -3.8l-3.8 3.8M42.3 227l3.8 3.8m0 -3.8l-3.8 3.8M103.5 237.6l3.8 3.8m0 -3.8l-3.8 3.8M91.6 231.7l3.8 3.8m0 -3.8l-3.8 3.8M115.3 239.3l3.8 3.8m0 -3.8l-3.8 3.8M100.9 231.1l3.8 3.8m0 -3.8l-3.8 3.8M66.5 238.5l3.8 3.8m0 -3.8l-3.8 3.8M42.1 227l3.8 3.8m0 -3.8l-3.8 3.8M113.3 239.6l3.8 3.8m0 -3.8l-3.8 3.8M66.1 231.6l3.8 3.8m0 -3.8l-3.8 3.8M52.5 238l3.8 3.8m0 -3.8l-3.8 3.8M42.5 226.3l3.8 3.8m0 -3.8l-3.8 3.8M54 236.2l3.8 3.8m0 -3.8l-3.8 3.8M114.8 232.7l3.8 3.8m0 -3.8l-3.8 3.8M59 238.4l3.8 3.8m0 -3.8l-3.8 3.8M90 231.4l3.8 3.8m0 -3.8l-3.8 3.8M57.3 238.3l3.8 3.8m0 -3.8l-3.8 3.8M61 229.3l3.8 3.8m0 -3.8l-3.8 3.8M76.9 236.3l3.8 3.8m0 -3.8l-3.8 3.8M64 232.5l3.8 3.8m0 -3.8l-3.8 3.8M94 239.9l3.8 3.8m0 -3.8l-3.8 3.8M107.5 227.8l3.8 3.8m0 -3.8l-3.8 3.8M58.9 238l3.8 3.8m0 -3.8l-3.8 3.8M58.5 226.3l3.8 3.8m0 -3.8l-3.8 3.8M77.4 237.9l3.8 3.8m0 -3.8l-3.8 3.8M106.1 228.4l3.8 3.8m0 -3.8l-3.8 3.8M72.4 238.4l3.8 3.8m0 -3.8l-3.8 3.8M63.9 233l3.8 3.8m0 -3.8l-3.8 3.8M63.8 239.1l3.8 3.8m0 -3.8l-3.8 3.8M61.1 230.1l3.8 3.8m0 -3.8l-3.8 3.8M101.4 237.2l3.8 3.8m0 -3.8l-3.8 3.8M66.4 232.8l3.8 3.8m0 -3.8l-3.8 3.8M112.4 238.6l3.8 3.8m0 -3.8l-3.8 3.8M70.4 230.5l3.8 3.8m0 -3.8l-3.8 3.8M72 238.9l3.8 3.8m0 -3.8l-3.8 3.8M108.7 228.2l3.8 3.8m0 -3.8l-3.8 3.8M81 236.3l3.8 3.8m0 -3.8l-3.8 3.8M60.2 227.4l3.8 3.8m0 -3.8l-3.8 3.8M63.3 240.3l3.8 3.8m0 -3.8l-3.8 3.8M114 232.9l3.8 3.8m0 -3.8l-3.8 3.8M96.1 239.1l3.8 3.8m0 -3.8l-3.8 3.8M103 228.5l3.8 3.8m0 -3.8l-3.8 3.8M108 236l3.8 3.8m0 -3.8l-3.8 3.8M101.6 229.9l3.8 3.8m0 -3.8l-3.8 3.8M55.6 236.6l3.8 3.8m0 -3.8l-3.8 3.8M99.9 231l3.8 3.8m0 -3.8l-3.8 3.8M113.1 237.4l3.8 3.8m0 -3.8l-3.8 3.8M96.7 231.1l3.8 3.8m0 -3.8l-3.8 3.8M91.2 240.3l3.8 3.8m0 -3.8l-3.8 3.8M60.2 228.4l3.8 3.8m0 -3.8l-3.8 3.8M51.8 237.1l3.8 3.8m0 -3.8l-3.8 3.8M76.1 230.2l3.8 3.8m0 -3.8l-3.8 3.8M86.2 239.1l3.8 3.8m0 -3.8l-3.8 3.8M80.1 226.5l3.8 3.8m0 -3.8l-3.8 3.8M43.8 238.5l3.8 3.8m0 -3.8l-3.8 3.8M111.6 230.2l3.8 3.8m0 -3.8l-3.8 3.8M103.9 237.2l3.8 3.8m0 -3.8l-3.8 3.8M73.7 229.2l3.8 3.8m0 -3.8l-3.8 3.8M81.5 237.8l3.8 3.8m0 -3.8l-3.8 3.8M106.5 226.3l3.8 3.8m0 -3.8l-3.8 3.8M90.8 238.2l3.8 3.8m0 -3.8l-3.8 3.8M105.2 228.1l3.8 3.8m0 -3.8l-3.8 3.8M103.7 235.5l3.8 3.8m0 -3.8l-3.8 3.8M74.6 228.2l3.8 3.8m0 -3.8l-3.8 3.8M65.9 239.4l3.8 3.8m0 -3.8l-3.8 3.8M67.8 231.7l3.8 3.8m0 -3.8l-3.8 3.8M67.5 240.3l3.8 3.8m0 -3.8l-3.8 3.8M84 228.4l3.8 3.8m0 -3.8l-3.8 3.8M88.3 239.8l3.8 3.8m0 -3.8l-3.8 3.8M94 231.2l3.8 3.8m0 -3.8l-3.8 3.8M46.4 239.6l3.8 3.8m0 -3.8l-3.8 3.8M42.6 200.1l3.8 3.8m0 -3.8l-3.8 3.8M59.1 193l3.8 3.8m0 -3.8l-3.8 3.8M41.7 218.9l3.8 3.8m0 -3.8l-3.8 3.8M46.9 220.7l3.8 3.8m0 -3.8l-3.8 3.8M67.2 221.8l3.8 3.8m0 -3.8l-3.8 3.8M106.6 225.4l3.8 3.8m0 -3.8l-3.8 3.8" stroke="#0000ff" stroke-width="0.85" fill="none"/>
<path d="M86.9 230h2.3v2.3h-2.3zM94.3 240.4h2.3v2.3h-2.3zM73.6 230.5h2.3v2.3h-2.3zM66.5 239.6h2.3v2.3h-2.3zM73.9 231.5h2.3v2.3h-2.3zM42.5 238.4h2.3v2.3h-2.3zM99.2 232.6h2.3v2.3h-2.3zM102.9 237h2.3v2.3h-2.3zM43.1 227.8h2.3v2.3h-2.3zM104.2 238.4h2.3v2.3h-2.3zM92.3 232.4h2.3v2.3h-2.3zM116 240.1h2.3v2.3h-2.3zM101.7 231.8h2.3v2.3h-2.3zM67.3 239.2h2.3v2.3h-2.3zM42.9 227.7h2.3v2.3h-2.3zM114 240.3h2.3v2.3h-2.3zM66.9 232.4h2.3v2.3h-2.3zM53.3 238.7h2.3v2.3h-2.3zM43.2 227.1h2.3v2.3h-2.3zM54.8 236.9h2.3v2.3h-2.3zM115.6 233.5h2.3v2.3h-2.3zM59.7 239.1h2.3v2.3h-2.3zM90.7 232.1h2.3v2.3h-2.3zM58 239h2.3v2.3h-2.3zM61.8 230.1h2.3v2.3h-2.3zM77.7 237.1h2.3v2.3h-2.3zM64.8 233.2h2.3v2.3h-2.3zM94.7 240.6h2.3v2.3h-2.3zM108.2 228.5h2.3v2.3h-2.3zM59.7 238.7h2.3v2.3h-2.3zM59.3 227.1h2.3v2.3h-2.3zM78.2 238.7h2.3v2.3h-2.3zM106.8 229.2h2.3v2.3h-2.3zM73.1 239.2h2.3v2.3h-2.3zM64.6 233.8h2.3v2.3h-2.3zM64.6 239.9h2.3v2.3h-2.3zM61.9 230.9h2.3v2.3h-2.3zM102.1 237.9h2.3v2.3h-2.3zM67.1 233.5h2.3v2.3h-2.3zM113.2 239.3h2.3v2.3h-2.3zM71.1 231.3h2.3v2.3h-2.3zM72.7 239.7h2.3v2.3h-2.3zM109.5 229h2.3v2.3h-2.3zM81.8 237.1h2.3v2.3h-2.3zM61 228.2h2.3v2.3h-2.3zM64.1 241.1h2.3v2.3h-2.3zM114.8 233.7h2.3v2.3h-2.3zM96.9 239.9h2.3v2.3h-2.3zM103.8 229.3h2.3v2.3h-2.3zM108.8 236.7h2.3v2.3h-2.3zM102.3 230.7h2.3v2.3h-2.3zM56.4 237.4h2.3v2.3h-2.3zM100.6 231.8h2.3v2.3h-2.3zM113.9 238.1h2.3v2.3h-2.3zM97.5 231.8h2.3v2.3h-2.3zM92 241h2.3v2.3h-2.3zM60.9 229.2h2.3v2.3h-2.3zM52.6 237.8h2.3v2.3h-2.3zM76.9 230.9h2.3v2.3h-2.3zM87 239.9h2.3v2.3h-2.3zM80.9 227.2h2.3v2.3h-2.3zM44.6 239.3h2.3v2.3h-2.3zM112.3 230.9h2.3v2.3h-2.3zM104.7 237.9h2.3v2.3h-2.3zM74.5 229.9h2.3v2.3h-2.3zM82.2 238.6h2.3v2.3h-2.3zM107.3 227h2.3v2.3h-2.3zM91.5 238.9h2.3v2.3h-2.3zM105.9 228.8h2.3v2.3h-2.3zM104.5 236.2h2.3v2.3h-2.3zM75.3 229h2.3v2.3h-2.3zM66.6 240.1h2.3v2.3h-2.3zM68.6 232.5h2.3v2.3h-2.3zM68.3 241h2.3v2.3h-2.3zM84.8 229.1h2.3v2.3h-2.3zM89.1 240.6h2.3v2.3h-2.3zM94.8 232h2.3v2.3h-2.3zM47.1 240.4h2.3v2.3h-2.3zM43.4 200.8h2.3v2.3h-2.3zM59.9 193.8h2.3v2.3h-2.3zM42.5 219.7h2.3v2.3h-2.3zM47.6 221.4h2.3v2.3h-2.3zM67.9 222.5h2.3v2.3h-2.3zM107.3 226.2h2.3v2.3h-2.3zM80.4 237.5h3v3h-3zM83.7 228.5h3v3h-3zM101.3 236.7h3v3h-3zM62.6 231.5h3v3h-3zM48.6 233.4h3v3h-3zM59.7 229.1h3v3h-3zM109.8 236.4h3v3h-3zM83.8 232.2h3v3h-3zM69.7 235.6h3v3h-3zM43 233.5h3v3h-3zM58 230.3h3v3h-3zM89.5 236.3h3v3h-3zM70.8 235.4h3v3h-3zM104 234.3h3v3h-3zM70.6 233.9h3v3h-3zM54.5 230.5h3v3h-3zM102.2 232.9h3v3h-3zM54.9 237.3h3v3h-3zM105.9 234.1h3v3h-3zM75.7 234.3h3v3h-3zM90.8 237.7h3v3h-3zM79.4 230.8h3v3h-3zM109.5 232.3h3v3h-3zM68.8 237.3h3v3h-3zM98.9 237.9h3v3h-3zM73 235.5h3v3h-3zM111.4 233.8h3v3h-3zM109.4 235.6h3v3h-3zM51.6 236.3h3v3h-3zM108.1 230.5h3v3h-3zM78.8 235.5h3v3h-3zM91.4 232.7h3v3h-3zM110.3 233.3h3v3h-3zM51.5 234.9h3v3h-3zM46.8 237.2h3v3h-3zM43.9 233.7h3v3h-3zM89.5 235.6h3v3h-3zM70.5 233h3v3h-3zM44.1 228.1h3v3h-3zM89.5 236.1h3v3h-3zM47.3 237.9h3v3h-3zM91.1 238.5h3v3h-3zM90.1 235.3h3v3h-3zM56.9 236.7h3v3h-3zM102.4 234.3h3v3h-3zM74.2 231.9h3v3h-3zM90.1 233.9h3v3h-3zM84.3 232h3v3h-3zM107.5 231.5h3v3h-3zM81.5 235.1h3v3h-3zM98.7 238.3h3v3h-3zM88.8 233h3v3h-3zM112.5 235.8h3v3h-3zM59.3 237.2h3v3h-3zM109.3 234.9h3v3h-3zM61.7 232.4h3v3h-3zM78.7 234.1h3v3h-3zM58.3 229.4h3v3h-3zM52.5 234.5h3v3h-3zM43.9 229.8h3v3h-3zM77.8 231.4h3v3h-3zM57.5 229h3v3h-3zM78.4 232.8h3v3h-3zM47.3 232.8h3v3h-3zM44.5 237.7h3v3h-3zM84.5 233h3v3h-3zM41.9 231.2h3v3h-3zM103.7 233.2h3v3h-3zM104.8 230.5h3v3h-3zM65.9 233.7h3v3h-3zM73.2 233.7h3v3h-3zM64.6 236.5h3v3h-3zM74.6 233.5h3v3h-3zM99.9 236.3h3v3h-3zM107.7 228h3v3h-3zM109.6 232h3v3h-3zM106.8 230.2h3v3h-3zM72.1 232.5h3v3h-3zM89.5 231.5h3v3h-3zM109.3 237h3v3h-3zM68.3 235.8h3v3h-3zM73 238h3v3h-3zM42.2 228.8h3v3h-3zM80 235.3h3v3h-3zM64.4 237.9h3v3h-3zM99.1 236.2h3v3h-3zM62.4 236.5h3v3h-3zM59 230.9h3v3h-3zM82.3 236.1h3v3h-3zM115.2 237.2h3v3h-3zM49.3 235.7h3v3h-3zM116.2 234.6h3v3h-3zM63 239.1h3v3h-3zM43.9 234.6h3v3h-3zM66.9 236.7h3v3h-3zM92.3 236.8h3v3h-3zM46.5 233.5h3v3h-3zM99.5 233.3h3v3h-3zM79.1 235.2h3v3h-3zM44.3 234h3v3h-3zM58.7 234.8h3v3h-3zM58.7 230.2h3v3h-3zM96 236.2h3v3h-3zM105.8 232.5h3v3h-3zM59.9 233.4h3v3h-3zM83 234.6h3v3h-3zM64.7 232.3h3v3h-3zM112.1 237.6h3v3h-3zM89.4 235.1h3v3h-3zM90.7 237h3v3h-3zM45.1 236h3v3h-3zM44.7 230.2h3v3h-3zM92.1 234h3v3h-3zM82.3 233.8h3v3h-3zM49.1 236.8h3v3h-3zM88.4 233.1h3v3h-3zM74.9 231.8h3v3h-3zM92 238.8h3v3h-3zM108.3 233.1h3v3h-3zM52.6 234.3h3v3h-3zM88.3 233.7h3v3h-3zM52.3 237.4h3v3h-3zM116.1 237.2h3v3h-3zM70.9 233.8h3v3h-3zM81.9 237h3v3h-3zM75.1 235h3v3h-3zM104 235.9h3v3h-3zM69.5 232.7h3v3h-3zM103.9 234.5h3v3h-3zM89 231.4h3v3h-3zM75.7 237.9h3v3h-3zM74.9 237.8h3v3h-3zM58.6 231.4h3v3h-3zM103.1 231.9h3v3h-3zM65.2 238.7h3v3h-3zM108.6 231.5h3v3h-3zM61.7 232.3h3v3h-3zM68.7 232.3h3v3h-3zM49.9 236.4h3v3h-3zM97.2 233.2h3v3h-3zM88.7 231.2h3v3h-3zM73.4 237.5h3v3h-3zM49.2 237.1h3v3h-3zM105.4 230.8h3v3h-3zM43.4 238.6h3v3h-3zM85.5 231.8h3v3h-3zM103.2 231.9h3v3h-3zM73.5 231.7h3v3h-3zM48.7 235.5h3v3h-3zM45.2 233.8h3v3h-3zM53.9 233.6h3v3h-3zM88.2 237.3h3v3h-3zM53.4 231.4h3v3h-3zM98 235.5h3v3h-3zM98 237.3h3v3h-3zM89.7 234.8h3v3h-3zM113 236.3h3v3h-3zM84.4 229.2h3v3h-3zM98.4 233.6h3v3h-3zM57.8 232.3h3v3h-3zM63.5 233.4h3v3h-3zM115.1 234.1h3v3h-3zM59.8 229.2h3v3h-3zM115.1 237h3v3h-3zM58 234.1h3v3h-3zM87.3 230.7h3v3h-3zM74.4 235.4h3v3h-3zM58.9 231.4h3v3h-3zM68.9 235.6h3v3h-3zM106.8 228h3v3h-3zM57.7 237.5h3v3h-3zM51.3 235h3v3h-3zM101.7 235.3h3v3h-3zM108.1 235.3h3v3h-3zM112.3 235.6h3v3h-3zM63 232.5h3v3h-3zM59.8 227.7h3v3h-3zM98.1 237.1h3v3h-3zM73 233.2h3v3h-3zM68.7 237.5h3v3h-3z" fill="#0000ff"/>
</g>
<path d="M42.3 257.5v-4M42.3 174.5v4M56.1 257.5v-4M56.1 174.5v4M70 257.5v-4M70 174.5v4M83.8 257.5v-4M83.8 174.5v4M97.7 257.5v-4M97.7 174.5v4M111.5 257.5v-4M111.5 174.5v4M35.5 235.2h2M125.5 235.2h-2M35.5 223.1h4M125.5 223.1h-4M35.5 210.9h2M125.5 210.9h-2M35.5 198.8h4M125.5 198.8h-4M35.5 186.7h2M125.5 186.7h-2M35.5 247.4h4M125.5 247.4h-4" stroke="#5e5e5e" stroke-width="1" fill="none"/>
<path d="M35 174.5H126" stroke="#ababab" stroke-width="1.6"/>
<path d="M35.5 174.5V257.5H125.5V174.5" stroke="#5e5e5e" stroke-width="1" fill="none"/>
<text x="125.8" y="188.3" text-anchor="end" class="ttl">MEO  C29</text>
<path d="M137.5 247.5H225.7M137.5 235.5H225.7M137.5 222.5H225.7M137.5 210.5H225.7M137.5 198.5H225.7M137.5 186.5H225.7" stroke="#c6c6c6" stroke-width="1" stroke-dasharray="1.3 1.97" stroke-dashoffset="1" fill="none"/>
<clipPath id="kC30"><rect x="136.6" y="174.5" width="90.1" height="83"/></clipPath><g clip-path="url(#kC30)">
<path d="M144.2 234.7L145.5 234L149.8 233.5L153.3 235L156.7 233.8L160.2 232.9L163.6 235L168.8 233.9L174 234.7L179.2 234.8L184.4 234.8L189.5 235.8L194.7 234.7L199.9 233.2L205.1 234.8L210.3 232.6L213.7 234.6L217.2 235.2L218.7 235.5L218.7 240.4L217.2 240.8L213.7 240.7L210.3 238.2L205.1 239.8L199.9 238.4L194.7 239.5L189.5 241L184.4 239.8L179.2 239.8L174 239.5L168.8 240.5L163.6 240.2L160.2 239L156.7 238.6L153.3 238.9L149.8 239.4L145.5 239.1L144.2 238.1 Z" fill="#0000ff"/>
<path d="M212.7 231.1l3.8 3.8m0 -3.8l-3.8 3.8M166.6 238.5l3.8 3.8m0 -3.8l-3.8 3.8M178.6 231l3.8 3.8m0 -3.8l-3.8 3.8M184.4 238.6l3.8 3.8m0 -3.8l-3.8 3.8M216.3 231l3.8 3.8m0 -3.8l-3.8 3.8M200.1 238.1l3.8 3.8m0 -3.8l-3.8 3.8M198.6 230.7l3.8 3.8m0 -3.8l-3.8 3.8M210.9 239.1l3.8 3.8m0 -3.8l-3.8 3.8M216.6 231.4l3.8 3.8m0 -3.8l-3.8 3.8M160.4 238.2l3.8 3.8m0 -3.8l-3.8 3.8M164.3 229.9l3.8 3.8m0 -3.8l-3.8 3.8M201.2 236.7l3.8 3.8m0 -3.8l-3.8 3.8M206.9 230.8l3.8 3.8m0 -3.8l-3.8 3.8M149.5 237.3l3.8 3.8m0 -3.8l-3.8 3.8M144 232.1l3.8 3.8m0 -3.8l-3.8 3.8M149 237.1l3.8 3.8m0 -3.8l-3.8 3.8M158.6 229.3l3.8 3.8m0 -3.8l-3.8 3.8M188.1 238.2l3.8 3.8m0 -3.8l-3.8 3.8M191.6 232.7l3.8 3.8m0 -3.8l-3.8 3.8M179.7 237.8l3.8 3.8m0 -3.8l-3.8 3.8M196.5 229.7l3.8 3.8m0 -3.8l-3.8 3.8M144.6 237.3l3.8 3.8m0 -3.8l-3.8 3.8M164.7 230.6l3.8 3.8m0 -3.8l-3.8 3.8M155.9 235.9l3.8 3.8m0 -3.8l-3.8 3.8M193 232.4l3.8 3.8m0 -3.8l-3.8 3.8M200.1 236.1l3.8 3.8m0 -3.8l-3.8 3.8M186.8 232.6l3.8 3.8m0 -3.8l-3.8 3.8M146.5 237.5l3.8 3.8m0 -3.8l-3.8 3.8M151.4 233.7l3.8 3.8m0 -3.8l-3.8 3.8M189.9 237.7l3.8 3.8m0 -3.8l-3.8 3.8M150.4 231.8l3.8 3.8m0 -3.8l-3.8 3.8M188.6 238.4l3.8 3.8m0 -3.8l-3.8 3.8M154.6 230.3l3.8 3.8m0 -3.8l-3.8 3.8M213.2 238.8l3.8 3.8m0 -3.8l-3.8 3.8M204.9 231.8l3.8 3.8m0 -3.8l-3.8 3.8M177.1 237.3l3.8 3.8m0 -3.8l-3.8 3.8M181.2 231.9l3.8 3.8m0 -3.8l-3.8 3.8M173.4 237l3.8 3.8m0 -3.8l-3.8 3.8M163.4 230.3l3.8 3.8m0 -3.8l-3.8 3.8M170.8 237.1l3.8 3.8m0 -3.8l-3.8 3.8M190.8 231.5l3.8 3.8m0 -3.8l-3.8 3.8M212.8 238.1l3.8 3.8m0 -3.8l-3.8 3.8M144.8 230.3l3.8 3.8m0 -3.8l-3.8 3.8M166.2 239.3l3.8 3.8m0 -3.8l-3.8 3.8M147.1 231.5l3.8 3.8m0 -3.8l-3.8 3.8M181 239.1l3.8 3.8m0 -3.8l-3.8 3.8M149.3 230.8l3.8 3.8m0 -3.8l-3.8 3.8M154.6 237.7l3.8 3.8m0 -3.8l-3.8 3.8M170.1 231.8l3.8 3.8m0 -3.8l-3.8 3.8M188 240.1l3.8 3.8m0 -3.8l-3.8 3.8M181 230.9l3.8 3.8m0 -3.8l-3.8 3.8M206.4 237.8l3.8 3.8m0 -3.8l-3.8 3.8M199.5 231.2l3.8 3.8m0 -3.8l-3.8 3.8M152.5 236l3.8 3.8m0 -3.8l-3.8 3.8M196.8 229.3l3.8 3.8m0 -3.8l-3.8 3.8M202.5 237.6l3.8 3.8m0 -3.8l-3.8 3.8M211.7 229.8l3.8 3.8m0 -3.8l-3.8 3.8M144 237.4l3.8 3.8m0 -3.8l-3.8 3.8M197.4 229.4l3.8 3.8m0 -3.8l-3.8 3.8M187.3 238.8l3.8 3.8m0 -3.8l-3.8 3.8M177.8 232.1l3.8 3.8m0 -3.8l-3.8 3.8M164.6 238.4l3.8 3.8m0 -3.8l-3.8 3.8M184.3 232.5l3.8 3.8m0 -3.8l-3.8 3.8M157.2 238.5l3.8 3.8m0 -3.8l-3.8 3.8M180.8 233.1l3.8 3.8m0 -3.8l-3.8 3.8M195.2 237.3l3.8 3.8m0 -3.8l-3.8 3.8M179.5 230.7l3.8 3.8m0 -3.8l-3.8 3.8M153.1 237.1l3.8 3.8m0 -3.8l-3.8 3.8M210.9 231.3l3.8 3.8m0 -3.8l-3.8 3.8M189.1 238.6l3.8 3.8m0 -3.8l-3.8 3.8M185.1 232.1l3.8 3.8m0 -3.8l-3.8 3.8M167.9 238.9l3.8 3.8m0 -3.8l-3.8 3.8M170.4 231.1l3.8 3.8m0 -3.8l-3.8 3.8M159.1 238.9l3.8 3.8m0 -3.8l-3.8 3.8M177.7 231.1l3.8 3.8m0 -3.8l-3.8 3.8M151.3 236.6l3.8 3.8m0 -3.8l-3.8 3.8M141.3 193l3.8 3.8m0 -3.8l-3.8 3.8M144.8 201l3.8 3.8m0 -3.8l-3.8 3.8M142.2 221.5l3.8 3.8m0 -3.8l-3.8 3.8M157.6 222l3.8 3.8m0 -3.8l-3.8 3.8M156.2 226.1l3.8 3.8m0 -3.8l-3.8 3.8M166.1 226.1l3.8 3.8m0 -3.8l-3.8 3.8M167.8 227.3l3.8 3.8m0 -3.8l-3.8 3.8M206.5 228.1l3.8 3.8m0 -3.8l-3.8 3.8" stroke="#0000ff" stroke-width="0.85" fill="none"/>
<path d="M213.4 231.9h2.3v2.3h-2.3zM167.3 239.3h2.3v2.3h-2.3zM179.4 231.7h2.3v2.3h-2.3zM185.1 239.3h2.3v2.3h-2.3zM217 231.8h2.3v2.3h-2.3zM200.8 238.8h2.3v2.3h-2.3zM199.4 231.5h2.3v2.3h-2.3zM211.7 239.8h2.3v2.3h-2.3zM217.4 232.1h2.3v2.3h-2.3zM161.1 239h2.3v2.3h-2.3zM165 230.7h2.3v2.3h-2.3zM201.9 237.4h2.3v2.3h-2.3zM207.7 231.6h2.3v2.3h-2.3zM150.3 238h2.3v2.3h-2.3zM144.8 232.8h2.3v2.3h-2.3zM149.7 237.9h2.3v2.3h-2.3zM159.3 230h2.3v2.3h-2.3zM188.9 238.9h2.3v2.3h-2.3zM192.3 233.4h2.3v2.3h-2.3zM180.4 238.6h2.3v2.3h-2.3zM197.3 230.4h2.3v2.3h-2.3zM145.4 238h2.3v2.3h-2.3zM165.5 231.3h2.3v2.3h-2.3zM156.7 236.7h2.3v2.3h-2.3zM193.8 233.1h2.3v2.3h-2.3zM200.8 236.8h2.3v2.3h-2.3zM187.5 233.4h2.3v2.3h-2.3zM147.3 238.2h2.3v2.3h-2.3zM152.1 234.5h2.3v2.3h-2.3zM190.6 238.4h2.3v2.3h-2.3zM151.1 232.6h2.3v2.3h-2.3zM189.3 239.2h2.3v2.3h-2.3zM155.4 231h2.3v2.3h-2.3zM214 239.6h2.3v2.3h-2.3zM205.7 232.5h2.3v2.3h-2.3zM177.9 238h2.3v2.3h-2.3zM181.9 232.7h2.3v2.3h-2.3zM174.2 237.7h2.3v2.3h-2.3zM164.1 231h2.3v2.3h-2.3zM171.6 237.9h2.3v2.3h-2.3zM191.6 232.2h2.3v2.3h-2.3zM213.5 238.9h2.3v2.3h-2.3zM145.6 231.1h2.3v2.3h-2.3zM166.9 240.1h2.3v2.3h-2.3zM147.9 232.2h2.3v2.3h-2.3zM181.8 239.8h2.3v2.3h-2.3zM150.1 231.6h2.3v2.3h-2.3zM155.3 238.4h2.3v2.3h-2.3zM170.8 232.6h2.3v2.3h-2.3zM188.7 240.9h2.3v2.3h-2.3zM181.7 231.6h2.3v2.3h-2.3zM207.1 238.6h2.3v2.3h-2.3zM200.3 232h2.3v2.3h-2.3zM153.3 236.7h2.3v2.3h-2.3zM197.5 230h2.3v2.3h-2.3zM203.2 238.4h2.3v2.3h-2.3zM212.4 230.6h2.3v2.3h-2.3zM144.7 238.1h2.3v2.3h-2.3zM198.1 230.1h2.3v2.3h-2.3zM188 239.5h2.3v2.3h-2.3zM178.5 232.9h2.3v2.3h-2.3zM165.4 239.2h2.3v2.3h-2.3zM185 233.3h2.3v2.3h-2.3zM158 239.2h2.3v2.3h-2.3zM181.5 233.8h2.3v2.3h-2.3zM196 238.1h2.3v2.3h-2.3zM180.2 231.4h2.3v2.3h-2.3zM153.9 237.9h2.3v2.3h-2.3zM211.7 232.1h2.3v2.3h-2.3zM189.9 239.4h2.3v2.3h-2.3zM185.8 232.8h2.3v2.3h-2.3zM168.7 239.7h2.3v2.3h-2.3zM171.1 231.8h2.3v2.3h-2.3zM159.8 239.7h2.3v2.3h-2.3zM178.4 231.8h2.3v2.3h-2.3zM152 237.3h2.3v2.3h-2.3zM142 193.8h2.3v2.3h-2.3zM145.5 201.8h2.3v2.3h-2.3zM142.9 222.2h2.3v2.3h-2.3zM158.3 222.8h2.3v2.3h-2.3zM156.9 226.8h2.3v2.3h-2.3zM166.8 226.8h2.3v2.3h-2.3zM168.5 228h2.3v2.3h-2.3zM207.2 228.8h2.3v2.3h-2.3zM168.2 238.8h3v3h-3zM196 235.1h3v3h-3zM193.6 233.9h3v3h-3zM213 234.2h3v3h-3zM180.2 237.5h3v3h-3zM202.3 232.4h3v3h-3zM206.3 237.8h3v3h-3zM196.7 231.5h3v3h-3zM189.8 237h3v3h-3zM205.9 236.3h3v3h-3zM181.1 238.1h3v3h-3zM166.4 233.5h3v3h-3zM192.2 235.4h3v3h-3zM167.8 236h3v3h-3zM169.6 233.6h3v3h-3zM162.5 233h3v3h-3zM179.4 234.6h3v3h-3zM171.4 234.8h3v3h-3zM157.2 237.3h3v3h-3zM158.7 233.8h3v3h-3zM173.4 235.2h3v3h-3zM154.6 233.7h3v3h-3zM198 233.7h3v3h-3zM211.9 232.5h3v3h-3zM151.2 236.3h3v3h-3zM212.1 235.4h3v3h-3zM178.4 232.3h3v3h-3zM194.4 237.9h3v3h-3zM177.9 237.6h3v3h-3zM170 236.2h3v3h-3zM191.8 233h3v3h-3zM194.5 236.1h3v3h-3zM207.1 236.2h3v3h-3zM179.5 236.3h3v3h-3zM214.4 235.6h3v3h-3zM188.2 235.9h3v3h-3zM143.2 236.9h3v3h-3zM197.4 231.6h3v3h-3zM153.5 236.4h3v3h-3zM203 233.4h3v3h-3zM195.5 233.9h3v3h-3zM147 235.3h3v3h-3zM146.7 236.1h3v3h-3zM164.1 236.4h3v3h-3zM146.5 234.5h3v3h-3zM151.2 233.5h3v3h-3zM156.5 237.3h3v3h-3zM151.6 236h3v3h-3zM179.8 236h3v3h-3zM175.7 236.6h3v3h-3zM197.8 234h3v3h-3zM170.3 237.5h3v3h-3zM202.9 237.2h3v3h-3zM178 234.2h3v3h-3zM188.5 237.6h3v3h-3zM181.6 233.1h3v3h-3zM161.6 235.5h3v3h-3zM188.8 234.1h3v3h-3zM212.5 233.9h3v3h-3zM162.1 235.5h3v3h-3zM161.9 234.6h3v3h-3zM195.2 237.1h3v3h-3zM158.8 231.2h3v3h-3zM160.8 234.5h3v3h-3zM215.6 233.6h3v3h-3zM200.1 232.2h3v3h-3zM184.8 237.3h3v3h-3zM186.4 234.1h3v3h-3zM206.6 236.4h3v3h-3zM205.6 233.3h3v3h-3zM199.2 234.5h3v3h-3zM166.2 237h3v3h-3zM199.6 236.1h3v3h-3zM181.3 235.4h3v3h-3zM144.6 236.7h3v3h-3zM149.9 233.2h3v3h-3zM179.8 232.5h3v3h-3zM186.1 237.2h3v3h-3zM175.6 235.2h3v3h-3zM195 237.8h3v3h-3zM148.7 233.7h3v3h-3zM199.4 233.8h3v3h-3zM173.1 237.3h3v3h-3zM158.4 232.1h3v3h-3zM199.6 234h3v3h-3zM167.1 236.1h3v3h-3zM201.9 235.1h3v3h-3zM156.8 232.3h3v3h-3zM149.8 235.5h3v3h-3zM150.2 235.7h3v3h-3zM164.3 232.2h3v3h-3zM175.9 238.2h3v3h-3zM151.7 233.3h3v3h-3zM145.4 232.4h3v3h-3zM206.4 236.8h3v3h-3zM198 232.3h3v3h-3zM183.2 236.2h3v3h-3zM179 235.3h3v3h-3zM209.3 237.2h3v3h-3zM196.9 232.4h3v3h-3zM194.8 234.6h3v3h-3zM217.1 238.3h3v3h-3zM191.3 234h3v3h-3zM215.3 236h3v3h-3zM153.1 235.3h3v3h-3zM152.7 236.3h3v3h-3zM210.1 237h3v3h-3zM155.4 232.3h3v3h-3zM184.9 233.4h3v3h-3zM159.1 238.1h3v3h-3zM191.2 238.6h3v3h-3zM195.3 237.1h3v3h-3zM183.1 237.7h3v3h-3zM215.5 237.3h3v3h-3zM181.1 235.9h3v3h-3zM146.2 231.1h3v3h-3zM149.4 237.1h3v3h-3zM149.2 233.1h3v3h-3zM171.1 235.3h3v3h-3zM158.9 233.1h3v3h-3zM166.7 231.6h3v3h-3zM145.7 234.4h3v3h-3zM174.3 236.4h3v3h-3zM163.9 237.2h3v3h-3zM163.2 238.2h3v3h-3zM187.1 238.5h3v3h-3zM164.8 235.4h3v3h-3zM150.1 235.3h3v3h-3zM145.8 233h3v3h-3zM215.5 233.3h3v3h-3zM176.1 233.5h3v3h-3zM189 235.7h3v3h-3zM204.9 233.2h3v3h-3zM201.5 234.7h3v3h-3zM180.4 233.8h3v3h-3zM213.3 236.9h3v3h-3zM159.7 238.1h3v3h-3zM166.3 238h3v3h-3zM169.7 231.8h3v3h-3zM185 237.6h3v3h-3zM210.2 232.9h3v3h-3zM180.6 236.1h3v3h-3zM205.7 232h3v3h-3zM154.8 236.1h3v3h-3zM181.4 238.1h3v3h-3zM176.3 237.1h3v3h-3zM190.9 237.1h3v3h-3zM186.8 236.1h3v3h-3zM158.4 231.6h3v3h-3zM207.1 232.8h3v3h-3zM210.1 233.2h3v3h-3zM213.7 237.9h3v3h-3z" fill="#0000ff"/>
</g>
<path d="M143.4 257.5v-4M143.4 174.5v4M157.2 257.5v-4M157.2 174.5v4M171.1 257.5v-4M171.1 174.5v4M184.9 257.5v-4M184.9 174.5v4M198.8 257.5v-4M198.8 174.5v4M212.6 257.5v-4M212.6 174.5v4M136.6 235.2h2M226.7 235.2h-2M136.6 223.1h4M226.7 223.1h-4M136.6 210.9h2M226.7 210.9h-2M136.6 198.8h4M226.7 198.8h-4M136.6 186.7h2M226.7 186.7h-2M136.6 247.4h4M226.7 247.4h-4" stroke="#5e5e5e" stroke-width="1" fill="none"/>
<path d="M136.1 174.5H227.2" stroke="#ababab" stroke-width="1.6"/>
<path d="M136.6 174.5V257.5H226.7V174.5" stroke="#5e5e5e" stroke-width="1" fill="none"/>
<text x="227" y="188.3" text-anchor="end" class="ttl">MEO  C30</text>
<path d="M238.6 247.5H326.9M238.6 235.5H326.9M238.6 222.5H326.9M238.6 210.5H326.9M238.6 198.5H326.9M238.6 186.5H326.9" stroke="#c6c6c6" stroke-width="1" stroke-dasharray="1.3 1.97" stroke-dashoffset="1" fill="none"/>
<clipPath id="kC32"><rect x="237.7" y="174.5" width="90.2" height="83"/></clipPath><g clip-path="url(#kC32)">
<path d="M245.2 230.9L246.5 232L250.8 233.4L254.3 233.9L257.7 237.1L262.9 236L266.4 233.7L269.8 231.7L273.3 233.7L276.7 236.4L281.9 235.5L287.1 235.7L292.3 235.8L297.4 232.2L302.6 235.2L307.8 237.3L313 236.4L318.2 234.8L320 234.7L320 238.1L318.2 239.8L313 241.2L307.8 242.1L302.6 239.6L297.4 238.8L292.3 241L287.1 242.3L281.9 241.6L276.7 241.2L273.3 239.8L269.8 238.6L266.4 239.8L262.9 241.7L257.7 241.7L254.3 240.5L250.8 240.3L246.5 238.1L245.2 236.5 Z" fill="#0000ff"/>
<path d="M267.8 227.2l3.8 3.8m0 -3.8l-3.8 3.8M301.7 239.2l3.8 3.8m0 -3.8l-3.8 3.8M293.7 229.4l3.8 3.8m0 -3.8l-3.8 3.8M305.1 240.4l3.8 3.8m0 -3.8l-3.8 3.8M300.8 231.7l3.8 3.8m0 -3.8l-3.8 3.8M297.7 237.4l3.8 3.8m0 -3.8l-3.8 3.8M256.4 234.9l3.8 3.8m0 -3.8l-3.8 3.8M316.4 237.2l3.8 3.8m0 -3.8l-3.8 3.8M289.3 231.4l3.8 3.8m0 -3.8l-3.8 3.8M267.2 238.9l3.8 3.8m0 -3.8l-3.8 3.8M297.9 229.7l3.8 3.8m0 -3.8l-3.8 3.8M309.5 240.1l3.8 3.8m0 -3.8l-3.8 3.8M274.4 232.1l3.8 3.8m0 -3.8l-3.8 3.8M268.9 238.2l3.8 3.8m0 -3.8l-3.8 3.8M316.8 231.5l3.8 3.8m0 -3.8l-3.8 3.8M296.7 238.3l3.8 3.8m0 -3.8l-3.8 3.8M289.9 231.4l3.8 3.8m0 -3.8l-3.8 3.8M297.7 236.4l3.8 3.8m0 -3.8l-3.8 3.8M315.8 232.4l3.8 3.8m0 -3.8l-3.8 3.8M258.9 239.6l3.8 3.8m0 -3.8l-3.8 3.8M260 233.9l3.8 3.8m0 -3.8l-3.8 3.8M307.5 240.3l3.8 3.8m0 -3.8l-3.8 3.8M252.2 230.4l3.8 3.8m0 -3.8l-3.8 3.8M281.4 241.3l3.8 3.8m0 -3.8l-3.8 3.8M256.5 233.5l3.8 3.8m0 -3.8l-3.8 3.8M251.8 239l3.8 3.8m0 -3.8l-3.8 3.8M315.6 231.3l3.8 3.8m0 -3.8l-3.8 3.8M285.9 241l3.8 3.8m0 -3.8l-3.8 3.8M312.4 232.6l3.8 3.8m0 -3.8l-3.8 3.8M313.5 239.8l3.8 3.8m0 -3.8l-3.8 3.8M315.9 233.1l3.8 3.8m0 -3.8l-3.8 3.8M252.9 240.3l3.8 3.8m0 -3.8l-3.8 3.8M246.6 228.4l3.8 3.8m0 -3.8l-3.8 3.8M255.4 240.6l3.8 3.8m0 -3.8l-3.8 3.8M300.8 232.7l3.8 3.8m0 -3.8l-3.8 3.8M266.9 237.4l3.8 3.8m0 -3.8l-3.8 3.8M299.8 231l3.8 3.8m0 -3.8l-3.8 3.8M289.9 238.3l3.8 3.8m0 -3.8l-3.8 3.8M278.1 233.5l3.8 3.8m0 -3.8l-3.8 3.8M302.7 237.3l3.8 3.8m0 -3.8l-3.8 3.8M256.4 234.6l3.8 3.8m0 -3.8l-3.8 3.8M277.6 239.6l3.8 3.8m0 -3.8l-3.8 3.8M263.4 230.7l3.8 3.8m0 -3.8l-3.8 3.8M303.2 238.3l3.8 3.8m0 -3.8l-3.8 3.8M288.4 232.8l3.8 3.8m0 -3.8l-3.8 3.8M297.1 237.5l3.8 3.8m0 -3.8l-3.8 3.8M244.3 227.7l3.8 3.8m0 -3.8l-3.8 3.8M256 240.3l3.8 3.8m0 -3.8l-3.8 3.8M313.4 234l3.8 3.8m0 -3.8l-3.8 3.8M265.7 237.4l3.8 3.8m0 -3.8l-3.8 3.8M300.3 233l3.8 3.8m0 -3.8l-3.8 3.8M256.5 239l3.8 3.8m0 -3.8l-3.8 3.8M249.5 228.9l3.8 3.8m0 -3.8l-3.8 3.8M289.9 240.5l3.8 3.8m0 -3.8l-3.8 3.8M299.4 231.4l3.8 3.8m0 -3.8l-3.8 3.8M265.9 238.1l3.8 3.8m0 -3.8l-3.8 3.8M312.2 233.3l3.8 3.8m0 -3.8l-3.8 3.8M260.5 240.7l3.8 3.8m0 -3.8l-3.8 3.8M295.6 227.6l3.8 3.8m0 -3.8l-3.8 3.8M284.1 240.2l3.8 3.8m0 -3.8l-3.8 3.8M275.6 234.2l3.8 3.8m0 -3.8l-3.8 3.8M261.2 240.3l3.8 3.8m0 -3.8l-3.8 3.8M277.9 231.6l3.8 3.8m0 -3.8l-3.8 3.8M301.4 236.8l3.8 3.8m0 -3.8l-3.8 3.8M246.4 229.7l3.8 3.8m0 -3.8l-3.8 3.8M269.1 237.5l3.8 3.8m0 -3.8l-3.8 3.8M284.3 231.7l3.8 3.8m0 -3.8l-3.8 3.8M253.4 239.1l3.8 3.8m0 -3.8l-3.8 3.8M300.8 233.1l3.8 3.8m0 -3.8l-3.8 3.8M313.6 239.1l3.8 3.8m0 -3.8l-3.8 3.8M274.8 233.6l3.8 3.8m0 -3.8l-3.8 3.8M268.3 237l3.8 3.8m0 -3.8l-3.8 3.8M276 234.3l3.8 3.8m0 -3.8l-3.8 3.8M274.2 238.2l3.8 3.8m0 -3.8l-3.8 3.8M291.5 230.7l3.8 3.8m0 -3.8l-3.8 3.8M289.8 238.7l3.8 3.8m0 -3.8l-3.8 3.8M310.9 233.4l3.8 3.8m0 -3.8l-3.8 3.8M292.7 238.8l3.8 3.8m0 -3.8l-3.8 3.8M245.8 207.1l3.8 3.8m0 -3.8l-3.8 3.8M269.3 219.1l3.8 3.8m0 -3.8l-3.8 3.8M270.5 222.6l3.8 3.8m0 -3.8l-3.8 3.8M285.2 230.7l3.8 3.8m0 -3.8l-3.8 3.8" stroke="#0000ff" stroke-width="0.85" fill="none"/>
<path d="M268.6 228h2.3v2.3h-2.3zM302.4 239.9h2.3v2.3h-2.3zM294.4 230.2h2.3v2.3h-2.3zM305.9 241.1h2.3v2.3h-2.3zM301.6 232.4h2.3v2.3h-2.3zM298.4 238.2h2.3v2.3h-2.3zM257.2 235.7h2.3v2.3h-2.3zM317.1 237.9h2.3v2.3h-2.3zM290 232.2h2.3v2.3h-2.3zM267.9 239.7h2.3v2.3h-2.3zM298.7 230.5h2.3v2.3h-2.3zM310.3 240.9h2.3v2.3h-2.3zM275.1 232.8h2.3v2.3h-2.3zM269.6 239h2.3v2.3h-2.3zM317.6 232.3h2.3v2.3h-2.3zM297.5 239h2.3v2.3h-2.3zM290.6 232.1h2.3v2.3h-2.3zM298.4 237.2h2.3v2.3h-2.3zM316.6 233.1h2.3v2.3h-2.3zM259.7 240.4h2.3v2.3h-2.3zM260.7 234.6h2.3v2.3h-2.3zM308.2 241h2.3v2.3h-2.3zM252.9 231.1h2.3v2.3h-2.3zM282.1 242h2.3v2.3h-2.3zM257.3 234.2h2.3v2.3h-2.3zM252.5 239.8h2.3v2.3h-2.3zM316.3 232.1h2.3v2.3h-2.3zM286.7 241.7h2.3v2.3h-2.3zM313.1 233.3h2.3v2.3h-2.3zM314.2 240.6h2.3v2.3h-2.3zM316.6 233.8h2.3v2.3h-2.3zM253.6 241h2.3v2.3h-2.3zM247.3 229.1h2.3v2.3h-2.3zM256.2 241.3h2.3v2.3h-2.3zM301.6 233.4h2.3v2.3h-2.3zM267.6 238.1h2.3v2.3h-2.3zM300.6 231.7h2.3v2.3h-2.3zM290.6 239.1h2.3v2.3h-2.3zM278.8 234.2h2.3v2.3h-2.3zM303.4 238.1h2.3v2.3h-2.3zM257.2 235.3h2.3v2.3h-2.3zM278.3 240.3h2.3v2.3h-2.3zM264.2 231.4h2.3v2.3h-2.3zM303.9 239.1h2.3v2.3h-2.3zM289.2 233.5h2.3v2.3h-2.3zM297.8 238.2h2.3v2.3h-2.3zM245.1 228.5h2.3v2.3h-2.3zM256.7 241h2.3v2.3h-2.3zM314.1 234.7h2.3v2.3h-2.3zM266.4 238.2h2.3v2.3h-2.3zM301.1 233.7h2.3v2.3h-2.3zM257.2 239.8h2.3v2.3h-2.3zM250.3 229.6h2.3v2.3h-2.3zM290.7 241.3h2.3v2.3h-2.3zM300.1 232.1h2.3v2.3h-2.3zM266.6 238.9h2.3v2.3h-2.3zM312.9 234.1h2.3v2.3h-2.3zM261.3 241.4h2.3v2.3h-2.3zM296.4 228.4h2.3v2.3h-2.3zM284.8 240.9h2.3v2.3h-2.3zM276.4 234.9h2.3v2.3h-2.3zM262 241h2.3v2.3h-2.3zM278.6 232.3h2.3v2.3h-2.3zM302.2 237.6h2.3v2.3h-2.3zM247.1 230.4h2.3v2.3h-2.3zM269.9 238.3h2.3v2.3h-2.3zM285 232.4h2.3v2.3h-2.3zM254.2 239.8h2.3v2.3h-2.3zM301.6 233.8h2.3v2.3h-2.3zM314.4 239.8h2.3v2.3h-2.3zM275.5 234.3h2.3v2.3h-2.3zM269.1 237.8h2.3v2.3h-2.3zM276.7 235h2.3v2.3h-2.3zM275 239h2.3v2.3h-2.3zM292.2 231.5h2.3v2.3h-2.3zM290.5 239.4h2.3v2.3h-2.3zM311.7 234.2h2.3v2.3h-2.3zM293.5 239.5h2.3v2.3h-2.3zM246.5 207.8h2.3v2.3h-2.3zM270.1 219.8h2.3v2.3h-2.3zM271.2 223.3h2.3v2.3h-2.3zM286 231.4h2.3v2.3h-2.3zM277.9 238.1h3v3h-3zM271.5 238h3v3h-3zM285.2 238h3v3h-3zM271.5 234.9h3v3h-3zM290.7 238h3v3h-3zM259.3 236.4h3v3h-3zM305.8 235.9h3v3h-3zM244.9 229.9h3v3h-3zM267.4 234.9h3v3h-3zM268.1 231.7h3v3h-3zM271 236.4h3v3h-3zM264.7 233.5h3v3h-3zM273.9 237.7h3v3h-3zM256.3 238.4h3v3h-3zM316.6 232.2h3v3h-3zM246 232.6h3v3h-3zM282.9 235.9h3v3h-3zM256.3 237.6h3v3h-3zM260.8 239.9h3v3h-3zM280.2 232.7h3v3h-3zM290.5 239.5h3v3h-3zM258.2 235.1h3v3h-3zM263.1 232.9h3v3h-3zM271.5 234.6h3v3h-3zM252.2 231.9h3v3h-3zM293.5 233.5h3v3h-3zM253.2 233.8h3v3h-3zM293.9 234.1h3v3h-3zM297.2 233.4h3v3h-3zM266.1 232.6h3v3h-3zM283.5 233.3h3v3h-3zM264.6 235.5h3v3h-3zM310.3 239.3h3v3h-3zM295.1 235.1h3v3h-3zM317 235.4h3v3h-3zM268.4 235.3h3v3h-3zM251.8 237.4h3v3h-3zM259.5 236.8h3v3h-3zM294.9 234.3h3v3h-3zM244 230.4h3v3h-3zM250.6 237.2h3v3h-3zM268.3 229.8h3v3h-3zM298.8 235h3v3h-3zM305.4 235.1h3v3h-3zM288.5 237.9h3v3h-3zM300.5 236.9h3v3h-3zM300.7 234.2h3v3h-3zM276.4 234.8h3v3h-3zM298.6 231.4h3v3h-3zM270.8 233.6h3v3h-3zM317.1 235.1h3v3h-3zM304.8 238.8h3v3h-3zM305.8 237.7h3v3h-3zM251.7 238.2h3v3h-3zM278.4 234.9h3v3h-3zM278.8 239.8h3v3h-3zM310 239.7h3v3h-3zM307.6 236.2h3v3h-3zM264.5 234.7h3v3h-3zM311.6 236.3h3v3h-3zM315.6 237.4h3v3h-3zM283 239.7h3v3h-3zM259.1 235.4h3v3h-3zM245 231.5h3v3h-3zM309.6 238.1h3v3h-3zM253.7 232.9h3v3h-3zM280.7 236.1h3v3h-3zM313.2 235.7h3v3h-3zM318.1 235h3v3h-3zM266.3 234.2h3v3h-3zM278 236.1h3v3h-3zM276.7 234.8h3v3h-3zM268.1 228.5h3v3h-3zM311.2 236.3h3v3h-3zM316 233.1h3v3h-3zM275.7 235.9h3v3h-3zM305.7 238.8h3v3h-3zM248.5 236.4h3v3h-3zM256.8 238.1h3v3h-3zM267.9 231.4h3v3h-3zM250.5 234.2h3v3h-3zM256 237.9h3v3h-3zM305 239.3h3v3h-3zM277.5 235h3v3h-3zM301.3 234.8h3v3h-3zM257.5 236.2h3v3h-3zM289.6 234h3v3h-3zM293 234.3h3v3h-3zM302.7 236.7h3v3h-3zM311.7 236.5h3v3h-3zM281.9 236.4h3v3h-3zM264.4 234.8h3v3h-3zM302.4 236h3v3h-3zM278 235.9h3v3h-3zM287.1 235.9h3v3h-3zM303.7 236.3h3v3h-3zM273.2 237.8h3v3h-3zM265.4 236.1h3v3h-3zM264.6 238.4h3v3h-3zM265.4 231.7h3v3h-3zM290.1 236.9h3v3h-3zM297.7 234.1h3v3h-3zM265.4 236.7h3v3h-3zM244.1 232.5h3v3h-3zM259.6 237h3v3h-3zM247.3 236.6h3v3h-3zM257 237.5h3v3h-3zM275.5 235.6h3v3h-3zM307.2 236.1h3v3h-3zM276 236.6h3v3h-3zM245.1 233.9h3v3h-3zM258.7 238.5h3v3h-3zM258.9 236.4h3v3h-3zM271.5 233.3h3v3h-3zM288.5 234.7h3v3h-3zM273.5 234.4h3v3h-3zM312.4 237.6h3v3h-3zM305.7 239.8h3v3h-3zM265 235.1h3v3h-3zM270.9 236.9h3v3h-3zM313.7 234.7h3v3h-3zM306.5 235.5h3v3h-3zM260.7 240.5h3v3h-3zM298 232.1h3v3h-3zM255.4 237.2h3v3h-3zM263.4 234.1h3v3h-3zM259.6 236.5h3v3h-3zM258.5 234.5h3v3h-3zM248.6 234.9h3v3h-3zM276.5 238h3v3h-3zM292.2 236.3h3v3h-3zM305.3 237.5h3v3h-3zM314.9 237.9h3v3h-3zM286.1 234.5h3v3h-3zM311.7 236.3h3v3h-3zM257.3 235.7h3v3h-3zM261.1 238.4h3v3h-3zM317.5 236.6h3v3h-3zM246 237.6h3v3h-3zM294.2 235.4h3v3h-3zM244.2 228.6h3v3h-3zM281.2 237.2h3v3h-3zM290.2 239.3h3v3h-3zM317.7 237.1h3v3h-3zM278.3 237h3v3h-3zM318.1 233.8h3v3h-3zM275.1 238.5h3v3h-3zM294.6 229.9h3v3h-3zM308 236.9h3v3h-3zM312.3 235.4h3v3h-3zM283 233.1h3v3h-3zM279 236.4h3v3h-3zM276.1 238.4h3v3h-3zM256.4 238.5h3v3h-3zM244.8 229.8h3v3h-3zM253.2 236.9h3v3h-3zM262.2 238.1h3v3h-3zM308.6 238.8h3v3h-3zM278.1 239.1h3v3h-3zM300.9 235.1h3v3h-3zM269.2 233.7h3v3h-3zM300.2 233.2h3v3h-3zM268.9 232.6h3v3h-3zM270 234.3h3v3h-3z" fill="#0000ff"/>
</g>
<path d="M244.5 257.5v-4M244.5 174.5v4M258.3 257.5v-4M258.3 174.5v4M272.2 257.5v-4M272.2 174.5v4M286 257.5v-4M286 174.5v4M299.9 257.5v-4M299.9 174.5v4M313.7 257.5v-4M313.7 174.5v4M237.7 235.2h2M327.9 235.2h-2M237.7 223.1h4M327.9 223.1h-4M237.7 210.9h2M327.9 210.9h-2M237.7 198.8h4M327.9 198.8h-4M237.7 186.7h2M327.9 186.7h-2M237.7 247.4h4M327.9 247.4h-4" stroke="#5e5e5e" stroke-width="1" fill="none"/>
<path d="M237.2 174.5H328.4" stroke="#ababab" stroke-width="1.6"/>
<path d="M237.7 174.5V257.5H327.9V174.5" stroke="#5e5e5e" stroke-width="1" fill="none"/>
<text x="328.2" y="188.3" text-anchor="end" class="ttl">MEO  C32</text>
<path d="M339.6 247.5H428M339.6 235.5H428M339.6 222.5H428M339.6 210.5H428M339.6 198.5H428M339.6 186.5H428" stroke="#c6c6c6" stroke-width="1" stroke-dasharray="1.3 1.97" stroke-dashoffset="1" fill="none"/>
<clipPath id="kC33"><rect x="338.7" y="174.5" width="90.3" height="83"/></clipPath><g clip-path="url(#kC33)">
<path d="M346.5 230L347.5 231.4L351.8 235L357 234.7L362.2 237.8L367.4 235.8L370.8 231.7L374.3 234.8L379.5 237L384.6 236.5L389.8 236L395 234.3L397.6 232.4L401.9 235L407.1 235.7L410.5 237L414 235.2L417.4 236.1L420.2 232.2L420.2 238.8L417.4 240.5L414 240.8L410.5 242.9L407.1 240.8L401.9 240.2L397.6 239.1L395 240L389.8 241.7L384.6 241.5L379.5 241.4L374.3 241.4L370.8 238.6L367.4 241L362.2 242.2L357 239.5L351.8 240.2L347.5 237.9L346.5 235.7 Z" fill="#0000ff"/>
<path d="M363 234.1l3.8 3.8m0 -3.8l-3.8 3.8M346.7 236.8l3.8 3.8m0 -3.8l-3.8 3.8M383.5 234.1l3.8 3.8m0 -3.8l-3.8 3.8M391 239.6l3.8 3.8m0 -3.8l-3.8 3.8M408.4 234.3l3.8 3.8m0 -3.8l-3.8 3.8M408.5 241.3l3.8 3.8m0 -3.8l-3.8 3.8M384.5 232.4l3.8 3.8m0 -3.8l-3.8 3.8M389.7 240.3l3.8 3.8m0 -3.8l-3.8 3.8M348.9 229.9l3.8 3.8m0 -3.8l-3.8 3.8M364.7 239.2l3.8 3.8m0 -3.8l-3.8 3.8M351.8 232.9l3.8 3.8m0 -3.8l-3.8 3.8M400.8 238.9l3.8 3.8m0 -3.8l-3.8 3.8M361.1 234.9l3.8 3.8m0 -3.8l-3.8 3.8M387.3 240.6l3.8 3.8m0 -3.8l-3.8 3.8M399.5 231.2l3.8 3.8m0 -3.8l-3.8 3.8M416.8 237.9l3.8 3.8m0 -3.8l-3.8 3.8M415.5 232.4l3.8 3.8m0 -3.8l-3.8 3.8M405.1 239.8l3.8 3.8m0 -3.8l-3.8 3.8M402 232.7l3.8 3.8m0 -3.8l-3.8 3.8M382.9 239.8l3.8 3.8m0 -3.8l-3.8 3.8M391.6 231.8l3.8 3.8m0 -3.8l-3.8 3.8M391.4 240.2l3.8 3.8m0 -3.8l-3.8 3.8M362.6 234.9l3.8 3.8m0 -3.8l-3.8 3.8M369.3 239l3.8 3.8m0 -3.8l-3.8 3.8M393.7 230.8l3.8 3.8m0 -3.8l-3.8 3.8M352 237.8l3.8 3.8m0 -3.8l-3.8 3.8M345.9 227l3.8 3.8m0 -3.8l-3.8 3.8M362.3 239.7l3.8 3.8m0 -3.8l-3.8 3.8M374.5 231.6l3.8 3.8m0 -3.8l-3.8 3.8M367.3 239.2l3.8 3.8m0 -3.8l-3.8 3.8M357.6 234.5l3.8 3.8m0 -3.8l-3.8 3.8M352.9 238.8l3.8 3.8m0 -3.8l-3.8 3.8M362.5 234.2l3.8 3.8m0 -3.8l-3.8 3.8M396.4 238.5l3.8 3.8m0 -3.8l-3.8 3.8M373.3 232.1l3.8 3.8m0 -3.8l-3.8 3.8M410.3 239.2l3.8 3.8m0 -3.8l-3.8 3.8M365.8 231.9l3.8 3.8m0 -3.8l-3.8 3.8M418 237.5l3.8 3.8m0 -3.8l-3.8 3.8M389.2 232.3l3.8 3.8m0 -3.8l-3.8 3.8M354.3 237.8l3.8 3.8m0 -3.8l-3.8 3.8M416.4 232l3.8 3.8m0 -3.8l-3.8 3.8M390.5 239.7l3.8 3.8m0 -3.8l-3.8 3.8M391.1 231l3.8 3.8m0 -3.8l-3.8 3.8M377 239l3.8 3.8m0 -3.8l-3.8 3.8M384.6 233.4l3.8 3.8m0 -3.8l-3.8 3.8M386.5 238.9l3.8 3.8m0 -3.8l-3.8 3.8M404.9 233.4l3.8 3.8m0 -3.8l-3.8 3.8M394.4 237l3.8 3.8m0 -3.8l-3.8 3.8M362.3 233.7l3.8 3.8m0 -3.8l-3.8 3.8M369.2 237.5l3.8 3.8m0 -3.8l-3.8 3.8M395.4 227.6l3.8 3.8m0 -3.8l-3.8 3.8M401.6 239.3l3.8 3.8m0 -3.8l-3.8 3.8M370.4 229.4l3.8 3.8m0 -3.8l-3.8 3.8M387.7 241.3l3.8 3.8m0 -3.8l-3.8 3.8M402 233.2l3.8 3.8m0 -3.8l-3.8 3.8M384.5 239.7l3.8 3.8m0 -3.8l-3.8 3.8M379.5 234l3.8 3.8m0 -3.8l-3.8 3.8M357.3 239.6l3.8 3.8m0 -3.8l-3.8 3.8M402.3 233l3.8 3.8m0 -3.8l-3.8 3.8M405.4 239.5l3.8 3.8m0 -3.8l-3.8 3.8M367.2 229.4l3.8 3.8m0 -3.8l-3.8 3.8M369.2 238.3l3.8 3.8m0 -3.8l-3.8 3.8M353.8 231.5l3.8 3.8m0 -3.8l-3.8 3.8M375.5 239.3l3.8 3.8m0 -3.8l-3.8 3.8M370.6 230.5l3.8 3.8m0 -3.8l-3.8 3.8M393.6 239.6l3.8 3.8m0 -3.8l-3.8 3.8M359.6 235.5l3.8 3.8m0 -3.8l-3.8 3.8M372.3 241.3l3.8 3.8m0 -3.8l-3.8 3.8M407.3 232.9l3.8 3.8m0 -3.8l-3.8 3.8M383.1 240.7l3.8 3.8m0 -3.8l-3.8 3.8M345.7 227.2l3.8 3.8m0 -3.8l-3.8 3.8M414.5 239.2l3.8 3.8m0 -3.8l-3.8 3.8M411 231.5l3.8 3.8m0 -3.8l-3.8 3.8M417.6 237.8l3.8 3.8m0 -3.8l-3.8 3.8M381 233.2l3.8 3.8m0 -3.8l-3.8 3.8M365.2 238.3l3.8 3.8m0 -3.8l-3.8 3.8M347.3 205.3l3.8 3.8m0 -3.8l-3.8 3.8M350.8 223.5l3.8 3.8m0 -3.8l-3.8 3.8M370.6 215.7l3.8 3.8m0 -3.8l-3.8 3.8M372 221.4l3.8 3.8m0 -3.8l-3.8 3.8M419.9 226.1l3.8 3.8m0 -3.8l-3.8 3.8M362 242.8l3.8 3.8m0 -3.8l-3.8 3.8M371.5 242.1l3.8 3.8m0 -3.8l-3.8 3.8" stroke="#0000ff" stroke-width="0.85" fill="none"/>
<path d="M363.8 234.9h2.3v2.3h-2.3zM347.4 237.5h2.3v2.3h-2.3zM384.2 234.9h2.3v2.3h-2.3zM391.7 240.3h2.3v2.3h-2.3zM409.1 235h2.3v2.3h-2.3zM409.2 242h2.3v2.3h-2.3zM385.2 233.1h2.3v2.3h-2.3zM390.5 241h2.3v2.3h-2.3zM349.6 230.7h2.3v2.3h-2.3zM365.5 239.9h2.3v2.3h-2.3zM352.6 233.7h2.3v2.3h-2.3zM401.5 239.6h2.3v2.3h-2.3zM361.8 235.6h2.3v2.3h-2.3zM388.1 241.3h2.3v2.3h-2.3zM400.3 231.9h2.3v2.3h-2.3zM417.5 238.7h2.3v2.3h-2.3zM416.2 233.1h2.3v2.3h-2.3zM405.8 240.6h2.3v2.3h-2.3zM402.7 233.5h2.3v2.3h-2.3zM383.7 240.6h2.3v2.3h-2.3zM392.4 232.6h2.3v2.3h-2.3zM392.1 241h2.3v2.3h-2.3zM363.3 235.6h2.3v2.3h-2.3zM370.1 239.7h2.3v2.3h-2.3zM394.5 231.5h2.3v2.3h-2.3zM352.8 238.6h2.3v2.3h-2.3zM346.7 227.8h2.3v2.3h-2.3zM363.1 240.4h2.3v2.3h-2.3zM375.2 232.4h2.3v2.3h-2.3zM368 239.9h2.3v2.3h-2.3zM358.4 235.2h2.3v2.3h-2.3zM353.7 239.5h2.3v2.3h-2.3zM363.3 234.9h2.3v2.3h-2.3zM397.1 239.2h2.3v2.3h-2.3zM374 232.9h2.3v2.3h-2.3zM411.1 239.9h2.3v2.3h-2.3zM366.6 232.6h2.3v2.3h-2.3zM418.7 238.3h2.3v2.3h-2.3zM389.9 233.1h2.3v2.3h-2.3zM355 238.6h2.3v2.3h-2.3zM417.2 232.7h2.3v2.3h-2.3zM391.3 240.4h2.3v2.3h-2.3zM391.8 231.8h2.3v2.3h-2.3zM377.7 239.7h2.3v2.3h-2.3zM385.4 234.1h2.3v2.3h-2.3zM387.3 239.6h2.3v2.3h-2.3zM405.6 234.1h2.3v2.3h-2.3zM395.1 237.7h2.3v2.3h-2.3zM363.1 234.4h2.3v2.3h-2.3zM369.9 238.3h2.3v2.3h-2.3zM396.1 228.4h2.3v2.3h-2.3zM402.4 240.1h2.3v2.3h-2.3zM371.1 230.2h2.3v2.3h-2.3zM388.5 242h2.3v2.3h-2.3zM402.8 234h2.3v2.3h-2.3zM385.2 240.5h2.3v2.3h-2.3zM380.2 234.8h2.3v2.3h-2.3zM358 240.4h2.3v2.3h-2.3zM403.1 233.7h2.3v2.3h-2.3zM406.1 240.3h2.3v2.3h-2.3zM368 230.2h2.3v2.3h-2.3zM369.9 239.1h2.3v2.3h-2.3zM354.6 232.2h2.3v2.3h-2.3zM376.2 240h2.3v2.3h-2.3zM371.4 231.2h2.3v2.3h-2.3zM394.4 240.3h2.3v2.3h-2.3zM360.4 236.3h2.3v2.3h-2.3zM373.1 242h2.3v2.3h-2.3zM408.1 233.6h2.3v2.3h-2.3zM383.9 241.4h2.3v2.3h-2.3zM346.5 227.9h2.3v2.3h-2.3zM415.3 240h2.3v2.3h-2.3zM411.7 232.3h2.3v2.3h-2.3zM418.4 238.6h2.3v2.3h-2.3zM381.8 233.9h2.3v2.3h-2.3zM365.9 239.1h2.3v2.3h-2.3zM348.1 206h2.3v2.3h-2.3zM351.6 224.2h2.3v2.3h-2.3zM371.4 216.4h2.3v2.3h-2.3zM372.8 222.2h2.3v2.3h-2.3zM420.7 226.8h2.3v2.3h-2.3zM362.8 243.5h2.3v2.3h-2.3zM372.2 242.8h2.3v2.3h-2.3zM385.7 235.1h3v3h-3zM393.1 234.9h3v3h-3zM351.1 233.6h3v3h-3zM411.4 237.4h3v3h-3zM382.9 238.1h3v3h-3zM400.6 233.6h3v3h-3zM375.1 234.5h3v3h-3zM364.7 237h3v3h-3zM354.5 235.4h3v3h-3zM391.4 232.3h3v3h-3zM366.2 235.7h3v3h-3zM358.5 237.7h3v3h-3zM396 234.6h3v3h-3zM381.8 235.2h3v3h-3zM349.1 237.5h3v3h-3zM403.3 234.8h3v3h-3zM345.3 230.2h3v3h-3zM377.5 235.4h3v3h-3zM354.3 235.7h3v3h-3zM404.2 239.1h3v3h-3zM351.2 233.5h3v3h-3zM403.1 235.1h3v3h-3zM393.8 232.4h3v3h-3zM417.3 234.2h3v3h-3zM383.2 239.1h3v3h-3zM396.5 230.3h3v3h-3zM371 238.6h3v3h-3zM401.8 238.8h3v3h-3zM405.7 234.2h3v3h-3zM376.4 237.3h3v3h-3zM392 237h3v3h-3zM362.2 240.2h3v3h-3zM385.9 238.6h3v3h-3zM391.6 237.3h3v3h-3zM365.5 235.8h3v3h-3zM402.2 236.9h3v3h-3zM374.1 235.3h3v3h-3zM411.7 233.2h3v3h-3zM349.2 234.2h3v3h-3zM373.9 235.5h3v3h-3zM378.9 237.5h3v3h-3zM403.3 236.2h3v3h-3zM395.5 237.9h3v3h-3zM409.7 238.8h3v3h-3zM399.2 235.6h3v3h-3zM397.5 236.5h3v3h-3zM396.5 233.9h3v3h-3zM358.4 238.9h3v3h-3zM392.4 236.5h3v3h-3zM355.3 236.3h3v3h-3zM360.7 237.7h3v3h-3zM357.4 233.6h3v3h-3zM371.9 232.5h3v3h-3zM372.7 239.9h3v3h-3zM352.5 234.6h3v3h-3zM413.4 233h3v3h-3zM386.2 238.1h3v3h-3zM368.4 229.6h3v3h-3zM365.7 233.9h3v3h-3zM352.5 236.8h3v3h-3zM402 234.5h3v3h-3zM384.6 235.2h3v3h-3zM392.8 236.7h3v3h-3zM409.5 236.2h3v3h-3zM353 238.2h3v3h-3zM353.6 234.2h3v3h-3zM397.1 231.7h3v3h-3zM387.3 235.2h3v3h-3zM392.1 237.3h3v3h-3zM391.1 238.2h3v3h-3zM354.8 235.7h3v3h-3zM404.2 235.7h3v3h-3zM379.9 236.1h3v3h-3zM354.3 234.2h3v3h-3zM405.5 237h3v3h-3zM405.9 238.7h3v3h-3zM415.3 236.1h3v3h-3zM385.6 236.6h3v3h-3zM350.6 232.1h3v3h-3zM399.2 234.3h3v3h-3zM393.1 233.1h3v3h-3zM367.1 231.6h3v3h-3zM414.8 238h3v3h-3zM370.2 234.2h3v3h-3zM395.6 231.9h3v3h-3zM410.1 238.3h3v3h-3zM351.2 236.3h3v3h-3zM370.3 232h3v3h-3zM364.1 238.9h3v3h-3zM363 238.4h3v3h-3zM371.2 234.6h3v3h-3zM347.5 236.8h3v3h-3zM405.5 236.2h3v3h-3zM406.3 238.5h3v3h-3zM402.4 234.9h3v3h-3zM362 236.3h3v3h-3zM396.4 234.3h3v3h-3zM375 235h3v3h-3zM403.7 233.6h3v3h-3zM371.6 233.8h3v3h-3zM384.7 238h3v3h-3zM371.2 232.1h3v3h-3zM370.4 237.7h3v3h-3zM404 238.3h3v3h-3zM345.4 232.2h3v3h-3zM415.4 238.8h3v3h-3zM414.8 239.1h3v3h-3zM416.3 236h3v3h-3zM406.1 235.9h3v3h-3zM370.9 236.6h3v3h-3zM358.3 237.1h3v3h-3zM370.3 231.2h3v3h-3zM358.9 237.1h3v3h-3zM366.6 234.3h3v3h-3zM395 238.4h3v3h-3zM358.1 238.6h3v3h-3zM376.3 235.9h3v3h-3zM397.6 237.3h3v3h-3zM403.8 235.8h3v3h-3zM390.6 233.8h3v3h-3zM376.2 239.1h3v3h-3zM407.1 240.5h3v3h-3zM351.2 234.6h3v3h-3zM371.4 231.6h3v3h-3zM350.6 234h3v3h-3zM367.8 237.5h3v3h-3zM408.6 235.6h3v3h-3zM349.9 238.4h3v3h-3zM362.8 239.9h3v3h-3zM416.8 237h3v3h-3zM400.6 238.2h3v3h-3zM385.5 236.5h3v3h-3zM373.5 239.4h3v3h-3zM385.9 233.9h3v3h-3zM362.6 236.1h3v3h-3zM355.9 234.1h3v3h-3zM363.1 239.4h3v3h-3zM412.4 232.7h3v3h-3zM348.7 233.9h3v3h-3zM357.2 235.6h3v3h-3zM362.5 235h3v3h-3zM400.7 234.7h3v3h-3zM357.2 235h3v3h-3zM375.5 236.9h3v3h-3zM386.3 239.1h3v3h-3zM386.9 239.8h3v3h-3zM406.8 237.5h3v3h-3zM393.7 237.9h3v3h-3zM355.1 235.5h3v3h-3zM407.9 240.8h3v3h-3zM349.8 237.3h3v3h-3zM384.4 235h3v3h-3zM404.2 234.1h3v3h-3zM407.7 234.2h3v3h-3zM408.3 237.9h3v3h-3zM354 233.2h3v3h-3zM361.8 239.5h3v3h-3z" fill="#0000ff"/>
</g>
<path d="M345.5 257.5v-4M345.5 174.5v4M359.4 257.5v-4M359.4 174.5v4M373.2 257.5v-4M373.2 174.5v4M387.1 257.5v-4M387.1 174.5v4M400.9 257.5v-4M400.9 174.5v4M414.8 257.5v-4M414.8 174.5v4M338.7 235.2h2M429 235.2h-2M338.7 223.1h4M429 223.1h-4M338.7 210.9h2M429 210.9h-2M338.7 198.8h4M429 198.8h-4M338.7 186.7h2M429 186.7h-2M338.7 247.4h4M429 247.4h-4" stroke="#5e5e5e" stroke-width="1" fill="none"/>
<path d="M338.2 174.5H429.5" stroke="#ababab" stroke-width="1.6"/>
<path d="M338.7 174.5V257.5H429V174.5" stroke="#5e5e5e" stroke-width="1" fill="none"/>
<text x="429.3" y="188.3" text-anchor="end" class="ttl">MEO  C33</text>
<path d="M440.7 247.5H529.2M440.7 235.5H529.2M440.7 222.5H529.2M440.7 210.5H529.2M440.7 198.5H529.2M440.7 186.5H529.2" stroke="#c6c6c6" stroke-width="1" stroke-dasharray="1.3 1.97" stroke-dashoffset="1" fill="none"/>
<clipPath id="kC34"><rect x="439.8" y="174.5" width="90.4" height="83"/></clipPath><g clip-path="url(#kC34)">
<path d="M447.2 234.4L449.4 233.7L452.8 233L456.3 235L461.5 232.9L466.6 233.5L471.8 234.8L477 233.5L482.2 235.7L487.4 234.6L492.5 236.7L497.7 235.7L502.9 235.5L508.1 234.5L512.4 232L516.7 235.4L521 234.3L522 235.7L522 240.8L521 240L516.7 240L512.4 238.1L508.1 240.4L502.9 240.4L497.7 240.8L492.5 241.9L487.4 240.7L482.2 240.8L477 239.4L471.8 239.8L466.6 239.4L461.5 239L456.3 240.2L452.8 239.3L449.4 239.8L447.2 238.8 Z" fill="#0000ff"/>
<path d="M448.3 231l3.8 3.8m0 -3.8l-3.8 3.8M507.8 237.4l3.8 3.8m0 -3.8l-3.8 3.8M478.9 231.3l3.8 3.8m0 -3.8l-3.8 3.8M519.8 238.8l3.8 3.8m0 -3.8l-3.8 3.8M500.2 233.2l3.8 3.8m0 -3.8l-3.8 3.8M466.1 237.5l3.8 3.8m0 -3.8l-3.8 3.8M449.1 229.7l3.8 3.8m0 -3.8l-3.8 3.8M448 239.5l3.8 3.8m0 -3.8l-3.8 3.8M468 232.4l3.8 3.8m0 -3.8l-3.8 3.8M460.7 236.7l3.8 3.8m0 -3.8l-3.8 3.8M485.4 230.9l3.8 3.8m0 -3.8l-3.8 3.8M495.7 238.3l3.8 3.8m0 -3.8l-3.8 3.8M449.7 230.6l3.8 3.8m0 -3.8l-3.8 3.8M515.2 238.8l3.8 3.8m0 -3.8l-3.8 3.8M456.4 231.9l3.8 3.8m0 -3.8l-3.8 3.8M511.1 235.8l3.8 3.8m0 -3.8l-3.8 3.8M518.6 232.3l3.8 3.8m0 -3.8l-3.8 3.8M517.2 237.8l3.8 3.8m0 -3.8l-3.8 3.8M516.1 233.3l3.8 3.8m0 -3.8l-3.8 3.8M479.5 239.5l3.8 3.8m0 -3.8l-3.8 3.8M449 229.7l3.8 3.8m0 -3.8l-3.8 3.8M494.1 238.2l3.8 3.8m0 -3.8l-3.8 3.8M475.3 230.2l3.8 3.8m0 -3.8l-3.8 3.8M519.1 238.9l3.8 3.8m0 -3.8l-3.8 3.8M474.2 231.3l3.8 3.8m0 -3.8l-3.8 3.8M460.3 238.4l3.8 3.8m0 -3.8l-3.8 3.8M484 232.6l3.8 3.8m0 -3.8l-3.8 3.8M481.9 238.2l3.8 3.8m0 -3.8l-3.8 3.8M479.3 232.4l3.8 3.8m0 -3.8l-3.8 3.8M499.9 239.7l3.8 3.8m0 -3.8l-3.8 3.8M511.3 230.3l3.8 3.8m0 -3.8l-3.8 3.8M469.7 237.3l3.8 3.8m0 -3.8l-3.8 3.8M478.5 233l3.8 3.8m0 -3.8l-3.8 3.8M467.5 238.6l3.8 3.8m0 -3.8l-3.8 3.8M454.9 232.3l3.8 3.8m0 -3.8l-3.8 3.8M508.7 236.5l3.8 3.8m0 -3.8l-3.8 3.8M461.7 230.3l3.8 3.8m0 -3.8l-3.8 3.8M487.1 238.4l3.8 3.8m0 -3.8l-3.8 3.8M482.3 233.2l3.8 3.8m0 -3.8l-3.8 3.8M466.6 236.9l3.8 3.8m0 -3.8l-3.8 3.8M507 229.4l3.8 3.8m0 -3.8l-3.8 3.8M500.5 239.3l3.8 3.8m0 -3.8l-3.8 3.8M500.1 233.1l3.8 3.8m0 -3.8l-3.8 3.8M470.6 238l3.8 3.8m0 -3.8l-3.8 3.8M467.8 230.1l3.8 3.8m0 -3.8l-3.8 3.8M454.3 239.6l3.8 3.8m0 -3.8l-3.8 3.8M497.8 232l3.8 3.8m0 -3.8l-3.8 3.8M492.8 240l3.8 3.8m0 -3.8l-3.8 3.8M451.3 229.5l3.8 3.8m0 -3.8l-3.8 3.8M478 239.3l3.8 3.8m0 -3.8l-3.8 3.8M497.9 232.4l3.8 3.8m0 -3.8l-3.8 3.8M472.9 237.4l3.8 3.8m0 -3.8l-3.8 3.8M462.4 229.4l3.8 3.8m0 -3.8l-3.8 3.8M461.7 237.5l3.8 3.8m0 -3.8l-3.8 3.8M518.6 230.7l3.8 3.8m0 -3.8l-3.8 3.8M475.3 238.2l3.8 3.8m0 -3.8l-3.8 3.8M505.8 230.6l3.8 3.8m0 -3.8l-3.8 3.8M503.6 238.7l3.8 3.8m0 -3.8l-3.8 3.8M476.8 230.4l3.8 3.8m0 -3.8l-3.8 3.8M488.1 238.7l3.8 3.8m0 -3.8l-3.8 3.8M488.8 233l3.8 3.8m0 -3.8l-3.8 3.8M508.3 237.2l3.8 3.8m0 -3.8l-3.8 3.8M497.9 232.5l3.8 3.8m0 -3.8l-3.8 3.8M496.5 239.1l3.8 3.8m0 -3.8l-3.8 3.8M493.2 232.5l3.8 3.8m0 -3.8l-3.8 3.8M463.2 239l3.8 3.8m0 -3.8l-3.8 3.8M462.4 229.8l3.8 3.8m0 -3.8l-3.8 3.8M453.6 238.3l3.8 3.8m0 -3.8l-3.8 3.8M518.3 231.8l3.8 3.8m0 -3.8l-3.8 3.8M455.3 238.7l3.8 3.8m0 -3.8l-3.8 3.8M512 229.2l3.8 3.8m0 -3.8l-3.8 3.8M505.6 238.7l3.8 3.8m0 -3.8l-3.8 3.8M470.4 231.5l3.8 3.8m0 -3.8l-3.8 3.8M498.1 237.5l3.8 3.8m0 -3.8l-3.8 3.8M469.7 232.5l3.8 3.8m0 -3.8l-3.8 3.8M502.6 238.6l3.8 3.8m0 -3.8l-3.8 3.8M470.6 230.4l3.8 3.8m0 -3.8l-3.8 3.8M514.3 237l3.8 3.8m0 -3.8l-3.8 3.8M448.3 213.4l3.8 3.8m0 -3.8l-3.8 3.8M470.7 193.4l3.8 3.8m0 -3.8l-3.8 3.8M471.6 220.4l3.8 3.8m0 -3.8l-3.8 3.8M472 226.1l3.8 3.8m0 -3.8l-3.8 3.8M461.3 224.8l3.8 3.8m0 -3.8l-3.8 3.8M486.3 225.2l3.8 3.8m0 -3.8l-3.8 3.8M492.7 215.2l3.8 3.8m0 -3.8l-3.8 3.8M501 227.3l3.8 3.8m0 -3.8l-3.8 3.8M458.2 240.4l3.8 3.8m0 -3.8l-3.8 3.8" stroke="#0000ff" stroke-width="0.85" fill="none"/>
<path d="M449 231.7h2.3v2.3h-2.3zM508.5 238.1h2.3v2.3h-2.3zM479.6 232.1h2.3v2.3h-2.3zM520.6 239.5h2.3v2.3h-2.3zM500.9 234h2.3v2.3h-2.3zM466.8 238.3h2.3v2.3h-2.3zM449.9 230.5h2.3v2.3h-2.3zM448.7 240.3h2.3v2.3h-2.3zM468.8 233.2h2.3v2.3h-2.3zM461.4 237.4h2.3v2.3h-2.3zM486.2 231.7h2.3v2.3h-2.3zM496.4 239h2.3v2.3h-2.3zM450.4 231.4h2.3v2.3h-2.3zM515.9 239.5h2.3v2.3h-2.3zM457.2 232.6h2.3v2.3h-2.3zM511.8 236.5h2.3v2.3h-2.3zM519.4 233.1h2.3v2.3h-2.3zM517.9 238.5h2.3v2.3h-2.3zM516.9 234h2.3v2.3h-2.3zM480.3 240.2h2.3v2.3h-2.3zM449.7 230.4h2.3v2.3h-2.3zM494.9 239h2.3v2.3h-2.3zM476.1 230.9h2.3v2.3h-2.3zM519.8 239.7h2.3v2.3h-2.3zM475 232h2.3v2.3h-2.3zM461.1 239.2h2.3v2.3h-2.3zM484.7 233.3h2.3v2.3h-2.3zM482.7 239h2.3v2.3h-2.3zM480.1 233.1h2.3v2.3h-2.3zM500.6 240.5h2.3v2.3h-2.3zM512 231.1h2.3v2.3h-2.3zM470.4 238h2.3v2.3h-2.3zM479.2 233.7h2.3v2.3h-2.3zM468.3 239.3h2.3v2.3h-2.3zM455.7 233.1h2.3v2.3h-2.3zM509.5 237.2h2.3v2.3h-2.3zM462.5 231.1h2.3v2.3h-2.3zM487.9 239.1h2.3v2.3h-2.3zM483.1 234h2.3v2.3h-2.3zM467.4 237.6h2.3v2.3h-2.3zM507.7 230.2h2.3v2.3h-2.3zM501.2 240h2.3v2.3h-2.3zM500.9 233.8h2.3v2.3h-2.3zM471.4 238.7h2.3v2.3h-2.3zM468.5 230.8h2.3v2.3h-2.3zM455 240.4h2.3v2.3h-2.3zM498.6 232.8h2.3v2.3h-2.3zM493.5 240.7h2.3v2.3h-2.3zM452.1 230.2h2.3v2.3h-2.3zM478.8 240.1h2.3v2.3h-2.3zM498.7 233.1h2.3v2.3h-2.3zM473.7 238.1h2.3v2.3h-2.3zM463.2 230.2h2.3v2.3h-2.3zM462.4 238.2h2.3v2.3h-2.3zM519.4 231.5h2.3v2.3h-2.3zM476.1 239h2.3v2.3h-2.3zM506.5 231.4h2.3v2.3h-2.3zM504.3 239.4h2.3v2.3h-2.3zM477.6 231.1h2.3v2.3h-2.3zM488.9 239.5h2.3v2.3h-2.3zM489.6 233.8h2.3v2.3h-2.3zM509.1 237.9h2.3v2.3h-2.3zM498.6 233.2h2.3v2.3h-2.3zM497.2 239.9h2.3v2.3h-2.3zM493.9 233.3h2.3v2.3h-2.3zM463.9 239.7h2.3v2.3h-2.3zM463.1 230.5h2.3v2.3h-2.3zM454.3 239h2.3v2.3h-2.3zM519 232.5h2.3v2.3h-2.3zM456 239.4h2.3v2.3h-2.3zM512.7 230h2.3v2.3h-2.3zM506.4 239.4h2.3v2.3h-2.3zM471.2 232.3h2.3v2.3h-2.3zM498.8 238.3h2.3v2.3h-2.3zM470.5 233.3h2.3v2.3h-2.3zM503.3 239.3h2.3v2.3h-2.3zM471.4 231.2h2.3v2.3h-2.3zM515.1 237.8h2.3v2.3h-2.3zM449.1 214.2h2.3v2.3h-2.3zM471.5 194.2h2.3v2.3h-2.3zM472.4 221.2h2.3v2.3h-2.3zM472.8 226.8h2.3v2.3h-2.3zM462.1 225.5h2.3v2.3h-2.3zM487.1 225.9h2.3v2.3h-2.3zM493.5 215.9h2.3v2.3h-2.3zM501.8 228h2.3v2.3h-2.3zM459 241.2h2.3v2.3h-2.3zM482.6 234h3v3h-3zM463.8 233h3v3h-3zM509.6 231.8h3v3h-3zM453.9 237h3v3h-3zM485.1 232.7h3v3h-3zM511.3 232.3h3v3h-3zM462.5 238h3v3h-3zM460.8 230.6h3v3h-3zM510.8 233.1h3v3h-3zM472.6 238.1h3v3h-3zM507.9 238.9h3v3h-3zM454.9 232.2h3v3h-3zM503.8 236.9h3v3h-3zM499.9 236.6h3v3h-3zM519.8 234h3v3h-3zM516.8 235.2h3v3h-3zM514 233.5h3v3h-3zM484.6 235.5h3v3h-3zM472.7 235.9h3v3h-3zM457.6 235.3h3v3h-3zM488.7 238.4h3v3h-3zM490.8 235.5h3v3h-3zM490.1 233.6h3v3h-3zM480.7 238.4h3v3h-3zM460.9 234h3v3h-3zM463.8 232.2h3v3h-3zM517.3 236.4h3v3h-3zM509.7 236.7h3v3h-3zM516.2 233.9h3v3h-3zM448.6 236.5h3v3h-3zM517.2 235.6h3v3h-3zM470.9 236.7h3v3h-3zM465.5 232.4h3v3h-3zM466.3 235.1h3v3h-3zM493.5 237.2h3v3h-3zM516.9 237.1h3v3h-3zM479.3 233.1h3v3h-3zM511.2 230.2h3v3h-3zM491 238.3h3v3h-3zM478.9 236.1h3v3h-3zM507.1 237.2h3v3h-3zM477.5 233.9h3v3h-3zM515.2 233.3h3v3h-3zM520.2 234.1h3v3h-3zM497 235.5h3v3h-3zM515.8 233.5h3v3h-3zM483.9 233.4h3v3h-3zM496.1 238.9h3v3h-3zM491.7 236.6h3v3h-3zM454.3 234.7h3v3h-3zM469.5 236h3v3h-3zM499.9 234.4h3v3h-3zM454.1 233.8h3v3h-3zM496 235.2h3v3h-3zM508.8 236.8h3v3h-3zM476 237.9h3v3h-3zM484.3 235.7h3v3h-3zM476.6 235.1h3v3h-3zM462.6 235.4h3v3h-3zM498.8 235.4h3v3h-3zM492 238h3v3h-3zM509.1 236.7h3v3h-3zM472.9 235.4h3v3h-3zM471.7 232.1h3v3h-3zM460.4 235.7h3v3h-3zM489.9 239.3h3v3h-3zM476.4 238.2h3v3h-3zM508.2 238.6h3v3h-3zM477.6 237h3v3h-3zM448.1 231.7h3v3h-3zM478.6 235.2h3v3h-3zM473 231.5h3v3h-3zM467.2 237.3h3v3h-3zM456.1 235.5h3v3h-3zM494.3 234h3v3h-3zM516.9 234.6h3v3h-3zM520.3 233.7h3v3h-3zM472.5 233.9h3v3h-3zM468.7 237.4h3v3h-3zM446.3 235.4h3v3h-3zM515.4 234.9h3v3h-3zM453.2 232h3v3h-3zM452.9 236.5h3v3h-3zM469 236.4h3v3h-3zM474.2 235.3h3v3h-3zM516.6 235.1h3v3h-3zM486.1 237.4h3v3h-3zM446.1 232.5h3v3h-3zM446.8 237.7h3v3h-3zM509.4 236.3h3v3h-3zM486.6 238.2h3v3h-3zM485.6 233.4h3v3h-3zM470.7 234.4h3v3h-3zM512.9 231.7h3v3h-3zM456.5 237.7h3v3h-3zM459.9 234.2h3v3h-3zM479.3 234.2h3v3h-3zM447.1 233.2h3v3h-3zM482.4 236.4h3v3h-3zM497.6 237.5h3v3h-3zM501.1 235.5h3v3h-3zM487.8 233h3v3h-3zM461.9 230.8h3v3h-3zM516.5 237h3v3h-3zM463.3 235.3h3v3h-3zM465.9 231.8h3v3h-3zM510.2 231.2h3v3h-3zM496.2 234.1h3v3h-3zM461.9 235.4h3v3h-3zM471.7 233.3h3v3h-3zM478.3 232.2h3v3h-3zM491.1 237.3h3v3h-3zM469.3 235.1h3v3h-3zM454.2 237.1h3v3h-3zM459.4 230.3h3v3h-3zM468.6 234.6h3v3h-3zM497 236.6h3v3h-3zM478.1 236h3v3h-3zM465.5 233.8h3v3h-3zM446.3 236.3h3v3h-3zM488.7 235.2h3v3h-3zM477.2 235.3h3v3h-3zM481.3 238.8h3v3h-3zM518.4 238h3v3h-3zM517.2 237.3h3v3h-3zM483.2 235.5h3v3h-3zM506.1 236.4h3v3h-3zM450.1 237h3v3h-3zM492.6 235.1h3v3h-3zM491.3 238.8h3v3h-3zM476 236.4h3v3h-3zM505.5 236.8h3v3h-3zM496.9 236.4h3v3h-3zM450.5 231.6h3v3h-3zM447.2 231.3h3v3h-3zM476.7 235h3v3h-3zM478.7 235h3v3h-3zM502.4 233.4h3v3h-3zM470.8 233h3v3h-3zM454 235.7h3v3h-3zM470.6 233.4h3v3h-3zM467.2 233.4h3v3h-3zM468.6 234.3h3v3h-3zM520.2 232.2h3v3h-3zM474.8 235.9h3v3h-3zM514.7 235.9h3v3h-3zM500.1 236h3v3h-3zM485.1 236.3h3v3h-3zM508.2 235h3v3h-3zM502.1 233.7h3v3h-3zM466.7 232.8h3v3h-3zM455.6 233.6h3v3h-3zM459.5 234.8h3v3h-3zM474 233.5h3v3h-3zM446.7 234.7h3v3h-3zM475.9 235.6h3v3h-3zM512.7 233.2h3v3h-3zM458.8 231.2h3v3h-3zM452.2 234.1h3v3h-3zM508.8 235.1h3v3h-3zM457.3 233.4h3v3h-3z" fill="#0000ff"/>
</g>
<path d="M446.6 257.5v-4M446.6 174.5v4M460.5 257.5v-4M460.5 174.5v4M474.3 257.5v-4M474.3 174.5v4M488.2 257.5v-4M488.2 174.5v4M502 257.5v-4M502 174.5v4M515.9 257.5v-4M515.9 174.5v4M439.8 235.2h2M530.2 235.2h-2M439.8 223.1h4M530.2 223.1h-4M439.8 210.9h2M530.2 210.9h-2M439.8 198.8h4M530.2 198.8h-4M439.8 186.7h2M530.2 186.7h-2M439.8 247.4h4M530.2 247.4h-4" stroke="#5e5e5e" stroke-width="1" fill="none"/>
<path d="M439.3 174.5H530.7" stroke="#ababab" stroke-width="1.6"/>
<path d="M439.8 174.5V257.5H530.2V174.5" stroke="#5e5e5e" stroke-width="1" fill="none"/>
<text x="530.5" y="188.3" text-anchor="end" class="ttl">MEO  C34</text>
<path d="M36.4 333.5H124.5M36.4 321.5H124.5M36.4 309.5H124.5M36.4 297.5H124.5M36.4 284.5H124.5M36.4 272.5H124.5" stroke="#c6c6c6" stroke-width="1" stroke-dasharray="1.3 1.97" stroke-dashoffset="1" fill="none"/>
<clipPath id="kC35"><rect x="35.5" y="260.7" width="90" height="82.8"/></clipPath><g clip-path="url(#kC35)">
<path d="M75.6 316.4L78 317L80 318.3L83.3 315.6L87.6 320.2L90.8 321.3L94.1 321L97.3 318.6L100.5 319.1L103.8 319.4L107.5 317.2L111.3 320.5L115.6 322.1L117.8 323.2L117.8 327.2L115.6 328.8L111.3 326.4L107.5 324.7L103.8 324.2L100.5 323.3L97.3 324L94.1 325.8L90.8 327.4L87.6 326.3L83.3 323.9L80 325.8L78 326.2L75.6 324.5 Z" fill="#0000ff"/>
<path d="M108.8 317.1l3.8 3.8m0 -3.8l-3.8 3.8M115.5 325.8l3.8 3.8m0 -3.8l-3.8 3.8M102.6 317.1l3.8 3.8m0 -3.8l-3.8 3.8M87.5 326.3l3.8 3.8m0 -3.8l-3.8 3.8M89.9 317.6l3.8 3.8m0 -3.8l-3.8 3.8M74.5 326.2l3.8 3.8m0 -3.8l-3.8 3.8M102.3 315.7l3.8 3.8m0 -3.8l-3.8 3.8M75.1 325.8l3.8 3.8m0 -3.8l-3.8 3.8M90.2 317.9l3.8 3.8m0 -3.8l-3.8 3.8M79.3 323.4l3.8 3.8m0 -3.8l-3.8 3.8M79.5 311.8l3.8 3.8m0 -3.8l-3.8 3.8M96.6 320.6l3.8 3.8m0 -3.8l-3.8 3.8M80.7 312.5l3.8 3.8m0 -3.8l-3.8 3.8M108.6 325.9l3.8 3.8m0 -3.8l-3.8 3.8M85.9 316.4l3.8 3.8m0 -3.8l-3.8 3.8M107.4 325.3l3.8 3.8m0 -3.8l-3.8 3.8M109.3 318.1l3.8 3.8m0 -3.8l-3.8 3.8M79.2 323.3l3.8 3.8m0 -3.8l-3.8 3.8M110.5 318.1l3.8 3.8m0 -3.8l-3.8 3.8M105.7 322.8l3.8 3.8m0 -3.8l-3.8 3.8M77.4 313.1l3.8 3.8m0 -3.8l-3.8 3.8M75.6 324.6l3.8 3.8m0 -3.8l-3.8 3.8M105.2 312.3l3.8 3.8m0 -3.8l-3.8 3.8M91.2 325.5l3.8 3.8m0 -3.8l-3.8 3.8M95.8 316.1l3.8 3.8m0 -3.8l-3.8 3.8M87.8 325l3.8 3.8m0 -3.8l-3.8 3.8M101.3 316.7l3.8 3.8m0 -3.8l-3.8 3.8M83.9 325.1l3.8 3.8m0 -3.8l-3.8 3.8M87.8 317.2l3.8 3.8m0 -3.8l-3.8 3.8M108.6 325.1l3.8 3.8m0 -3.8l-3.8 3.8M112.6 316.7l3.8 3.8m0 -3.8l-3.8 3.8M99.5 321.6l3.8 3.8m0 -3.8l-3.8 3.8M113.8 317.4l3.8 3.8m0 -3.8l-3.8 3.8M111.7 326.8l3.8 3.8m0 -3.8l-3.8 3.8M90.8 318.9l3.8 3.8m0 -3.8l-3.8 3.8M88.5 325.5l3.8 3.8m0 -3.8l-3.8 3.8M98.9 315.8l3.8 3.8m0 -3.8l-3.8 3.8M111.6 327.5l3.8 3.8m0 -3.8l-3.8 3.8M105.9 313.1l3.8 3.8m0 -3.8l-3.8 3.8M98.7 321.2l3.8 3.8m0 -3.8l-3.8 3.8M115.4 319.6l3.8 3.8m0 -3.8l-3.8 3.8M98.4 321.7l3.8 3.8m0 -3.8l-3.8 3.8M113.5 319.2l3.8 3.8m0 -3.8l-3.8 3.8M107.9 323.4l3.8 3.8m0 -3.8l-3.8 3.8M57.8 312.9l3.8 3.8m0 -3.8l-3.8 3.8M64 310.8l3.8 3.8m0 -3.8l-3.8 3.8M51.8 314.3l3.8 3.8m0 -3.8l-3.8 3.8M58.3 305.6l3.8 3.8m0 -3.8l-3.8 3.8M68.5 313.8l3.8 3.8m0 -3.8l-3.8 3.8M48.2 308.6l3.8 3.8m0 -3.8l-3.8 3.8M70.5 308.6l3.8 3.8m0 -3.8l-3.8 3.8M57 305.3l3.8 3.8m0 -3.8l-3.8 3.8M70.8 312.5l3.8 3.8m0 -3.8l-3.8 3.8M59.8 315.1l3.8 3.8m0 -3.8l-3.8 3.8M69.9 322.7l3.8 3.8m0 -3.8l-3.8 3.8M57.6 311.4l3.8 3.8m0 -3.8l-3.8 3.8M48 309.2l3.8 3.8m0 -3.8l-3.8 3.8M57.3 307.7l3.8 3.8m0 -3.8l-3.8 3.8M52.8 317.1l3.8 3.8m0 -3.8l-3.8 3.8M52.8 315.6l3.8 3.8m0 -3.8l-3.8 3.8M61.6 306.1l3.8 3.8m0 -3.8l-3.8 3.8M63.5 307.2l3.8 3.8m0 -3.8l-3.8 3.8M69.9 323.2l3.8 3.8m0 -3.8l-3.8 3.8M50 320.1l3.8 3.8m0 -3.8l-3.8 3.8M47 320.3l3.8 3.8m0 -3.8l-3.8 3.8M51.5 309.5l3.8 3.8m0 -3.8l-3.8 3.8M64.7 310.4l3.8 3.8m0 -3.8l-3.8 3.8M67.4 317.5l3.8 3.8m0 -3.8l-3.8 3.8M62.2 305.1l3.8 3.8m0 -3.8l-3.8 3.8M61.5 318.9l3.8 3.8m0 -3.8l-3.8 3.8M54.4 312.9l3.8 3.8m0 -3.8l-3.8 3.8M70.5 311.5l3.8 3.8m0 -3.8l-3.8 3.8M59.7 308.9l3.8 3.8m0 -3.8l-3.8 3.8M58.9 317.2l3.8 3.8m0 -3.8l-3.8 3.8M73.9 314.2l3.8 3.8m0 -3.8l-3.8 3.8M54.6 313.2l3.8 3.8m0 -3.8l-3.8 3.8M49.4 316.6l3.8 3.8m0 -3.8l-3.8 3.8M65.8 321l3.8 3.8m0 -3.8l-3.8 3.8M60.7 313.9l3.8 3.8m0 -3.8l-3.8 3.8M57 311.5l3.8 3.8m0 -3.8l-3.8 3.8M57.6 312.3l3.8 3.8m0 -3.8l-3.8 3.8M53.5 312l3.8 3.8m0 -3.8l-3.8 3.8M47.9 320.4l3.8 3.8m0 -3.8l-3.8 3.8M63.6 316.3l3.8 3.8m0 -3.8l-3.8 3.8M70.9 310.8l3.8 3.8m0 -3.8l-3.8 3.8M47.6 317.3l3.8 3.8m0 -3.8l-3.8 3.8M68.7 323.1l3.8 3.8m0 -3.8l-3.8 3.8M60.9 307.6l3.8 3.8m0 -3.8l-3.8 3.8M53.7 309.3l3.8 3.8m0 -3.8l-3.8 3.8M46.1 317.6l3.8 3.8m0 -3.8l-3.8 3.8M62.8 311.2l3.8 3.8m0 -3.8l-3.8 3.8M66.8 306.2l3.8 3.8m0 -3.8l-3.8 3.8M53.7 315.3l3.8 3.8m0 -3.8l-3.8 3.8M52.8 305.9l3.8 3.8m0 -3.8l-3.8 3.8M46.4 312.4l3.8 3.8m0 -3.8l-3.8 3.8M59.6 320.9l3.8 3.8m0 -3.8l-3.8 3.8M52.1 314.5l3.8 3.8m0 -3.8l-3.8 3.8M54.3 312.7l3.8 3.8m0 -3.8l-3.8 3.8M66.6 316.6l3.8 3.8m0 -3.8l-3.8 3.8M68.6 319.4l3.8 3.8m0 -3.8l-3.8 3.8M55.5 320.5l3.8 3.8m0 -3.8l-3.8 3.8M52.8 312l3.8 3.8m0 -3.8l-3.8 3.8M73 311.8l3.8 3.8m0 -3.8l-3.8 3.8M54.2 320.5l3.8 3.8m0 -3.8l-3.8 3.8M71.8 315.6l3.8 3.8m0 -3.8l-3.8 3.8M58.7 321.3l3.8 3.8m0 -3.8l-3.8 3.8M64.7 315.2l3.8 3.8m0 -3.8l-3.8 3.8M60.9 309.9l3.8 3.8m0 -3.8l-3.8 3.8M52.2 315.3l3.8 3.8m0 -3.8l-3.8 3.8M71.5 311.6l3.8 3.8m0 -3.8l-3.8 3.8M52.3 311.2l3.8 3.8m0 -3.8l-3.8 3.8M73.3 314.9l3.8 3.8m0 -3.8l-3.8 3.8M73.2 316.2l3.8 3.8m0 -3.8l-3.8 3.8M66.3 319.6l3.8 3.8m0 -3.8l-3.8 3.8M58.2 316.8l3.8 3.8m0 -3.8l-3.8 3.8M58.5 309.4l3.8 3.8m0 -3.8l-3.8 3.8M66.2 322.8l3.8 3.8m0 -3.8l-3.8 3.8M73.9 314l3.8 3.8m0 -3.8l-3.8 3.8M67.7 311.2l3.8 3.8m0 -3.8l-3.8 3.8M61.9 314.7l3.8 3.8m0 -3.8l-3.8 3.8M73.5 318.7l3.8 3.8m0 -3.8l-3.8 3.8M63.9 311l3.8 3.8m0 -3.8l-3.8 3.8M71.8 312.2l3.8 3.8m0 -3.8l-3.8 3.8M71.2 322.2l3.8 3.8m0 -3.8l-3.8 3.8M54.3 311.7l3.8 3.8m0 -3.8l-3.8 3.8M62.6 316.3l3.8 3.8m0 -3.8l-3.8 3.8M73 311.5l3.8 3.8m0 -3.8l-3.8 3.8M63.1 310.1l3.8 3.8m0 -3.8l-3.8 3.8M58.8 309l3.8 3.8m0 -3.8l-3.8 3.8M60.9 319.6l3.8 3.8m0 -3.8l-3.8 3.8M52.4 314.9l3.8 3.8m0 -3.8l-3.8 3.8M62 312.9l3.8 3.8m0 -3.8l-3.8 3.8M63.4 321.2l3.8 3.8m0 -3.8l-3.8 3.8M56.1 314.3l3.8 3.8m0 -3.8l-3.8 3.8M60.2 308.4l3.8 3.8m0 -3.8l-3.8 3.8M71.1 319.2l3.8 3.8m0 -3.8l-3.8 3.8M54.3 317.4l3.8 3.8m0 -3.8l-3.8 3.8M70.7 309.9l3.8 3.8m0 -3.8l-3.8 3.8M69.3 314.8l3.8 3.8m0 -3.8l-3.8 3.8M68.7 313l3.8 3.8m0 -3.8l-3.8 3.8M67.1 319.5l3.8 3.8m0 -3.8l-3.8 3.8M62.6 308.1l3.8 3.8m0 -3.8l-3.8 3.8M66.6 319.1l3.8 3.8m0 -3.8l-3.8 3.8M52.3 311.7l3.8 3.8m0 -3.8l-3.8 3.8M65.9 311.3l3.8 3.8m0 -3.8l-3.8 3.8M66.9 310.6l3.8 3.8m0 -3.8l-3.8 3.8M73.2 312.9l3.8 3.8m0 -3.8l-3.8 3.8M68.5 310.8l3.8 3.8m0 -3.8l-3.8 3.8M67.7 320.9l3.8 3.8m0 -3.8l-3.8 3.8M73.4 317.1l3.8 3.8m0 -3.8l-3.8 3.8M55.2 318.5l3.8 3.8m0 -3.8l-3.8 3.8M60.7 312.1l3.8 3.8m0 -3.8l-3.8 3.8M59.4 312.3l3.8 3.8m0 -3.8l-3.8 3.8M61.7 314.1l3.8 3.8m0 -3.8l-3.8 3.8M54.3 312l3.8 3.8m0 -3.8l-3.8 3.8M56.7 320.8l3.8 3.8m0 -3.8l-3.8 3.8M71.8 313.6l3.8 3.8m0 -3.8l-3.8 3.8M72.6 319.2l3.8 3.8m0 -3.8l-3.8 3.8M66.6 318.6l3.8 3.8m0 -3.8l-3.8 3.8M61.3 311l3.8 3.8m0 -3.8l-3.8 3.8M42.1 269.3l3.8 3.8m0 -3.8l-3.8 3.8M59.9 274.4l3.8 3.8m0 -3.8l-3.8 3.8M40.8 277.5l3.8 3.8m0 -3.8l-3.8 3.8M43.3 277l3.8 3.8m0 -3.8l-3.8 3.8M43.3 280.5l3.8 3.8m0 -3.8l-3.8 3.8M65.8 280l3.8 3.8m0 -3.8l-3.8 3.8M76.8 282.1l3.8 3.8m0 -3.8l-3.8 3.8M47.9 282.4l3.8 3.8m0 -3.8l-3.8 3.8M40.5 284.6l3.8 3.8m0 -3.8l-3.8 3.8M47.4 286.7l3.8 3.8m0 -3.8l-3.8 3.8M56.4 287.5l3.8 3.8m0 -3.8l-3.8 3.8M50.5 289.7l3.8 3.8m0 -3.8l-3.8 3.8M66.8 290.2l3.8 3.8m0 -3.8l-3.8 3.8M41.3 292.3l3.8 3.8m0 -3.8l-3.8 3.8M45.4 291.8l3.8 3.8m0 -3.8l-3.8 3.8M43.8 295.3l3.8 3.8m0 -3.8l-3.8 3.8M48.4 296.9l3.8 3.8m0 -3.8l-3.8 3.8M57.6 294.8l3.8 3.8m0 -3.8l-3.8 3.8M58.6 295.9l3.8 3.8m0 -3.8l-3.8 3.8M63.7 297.7l3.8 3.8m0 -3.8l-3.8 3.8M79.9 296.4l3.8 3.8m0 -3.8l-3.8 3.8M43.9 295.2l3.8 3.8m0 -3.8l-3.8 3.8M48.7 297.9l3.8 3.8m0 -3.8l-3.8 3.8M42.2 302.2l3.8 3.8m0 -3.8l-3.8 3.8M46 302.7l3.8 3.8m0 -3.8l-3.8 3.8M49.8 303.8l3.8 3.8m0 -3.8l-3.8 3.8M47.1 307l3.8 3.8m0 -3.8l-3.8 3.8M50.3 308.1l3.8 3.8m0 -3.8l-3.8 3.8M42.8 314l3.8 3.8m0 -3.8l-3.8 3.8M45.5 312.4l3.8 3.8m0 -3.8l-3.8 3.8M41.2 318.3l3.8 3.8m0 -3.8l-3.8 3.8M57.9 295.2l3.8 3.8m0 -3.8l-3.8 3.8M64.3 298.4l3.8 3.8m0 -3.8l-3.8 3.8M67.5 299.5l3.8 3.8m0 -3.8l-3.8 3.8M67.5 304.3l3.8 3.8m0 -3.8l-3.8 3.8M79.4 301.6l3.8 3.8m0 -3.8l-3.8 3.8M79.4 296.3l3.8 3.8m0 -3.8l-3.8 3.8M76.1 309.7l3.8 3.8m0 -3.8l-3.8 3.8M81.4 309.2l3.8 3.8m0 -3.8l-3.8 3.8M79.5 301.9l3.8 3.8m0 -3.8l-3.8 3.8M44.1 300.6l3.8 3.8m0 -3.8l-3.8 3.8M41.6 304.1l3.8 3.8m0 -3.8l-3.8 3.8M46.1 310.1l3.8 3.8m0 -3.8l-3.8 3.8M51.1 314.1l3.8 3.8m0 -3.8l-3.8 3.8" stroke="#0000ff" stroke-width="0.85" fill="none"/>
<path d="M109.6 317.8h2.3v2.3h-2.3zM116.2 326.6h2.3v2.3h-2.3zM103.4 317.8h2.3v2.3h-2.3zM88.3 327.1h2.3v2.3h-2.3zM90.6 318.3h2.3v2.3h-2.3zM75.3 326.9h2.3v2.3h-2.3zM103.1 316.5h2.3v2.3h-2.3zM75.8 326.5h2.3v2.3h-2.3zM91 318.6h2.3v2.3h-2.3zM80 324.1h2.3v2.3h-2.3zM80.3 312.5h2.3v2.3h-2.3zM97.3 321.4h2.3v2.3h-2.3zM81.4 313.3h2.3v2.3h-2.3zM109.4 326.7h2.3v2.3h-2.3zM86.6 317.2h2.3v2.3h-2.3zM108.1 326h2.3v2.3h-2.3zM110.1 318.9h2.3v2.3h-2.3zM79.9 324.1h2.3v2.3h-2.3zM111.3 318.9h2.3v2.3h-2.3zM106.5 323.5h2.3v2.3h-2.3zM78.1 313.9h2.3v2.3h-2.3zM76.3 325.3h2.3v2.3h-2.3zM106 313h2.3v2.3h-2.3zM92 326.3h2.3v2.3h-2.3zM96.5 316.8h2.3v2.3h-2.3zM88.6 325.7h2.3v2.3h-2.3zM102 317.4h2.3v2.3h-2.3zM84.7 325.9h2.3v2.3h-2.3zM88.6 317.9h2.3v2.3h-2.3zM109.3 325.8h2.3v2.3h-2.3zM113.4 317.4h2.3v2.3h-2.3zM100.2 322.4h2.3v2.3h-2.3zM114.6 318.2h2.3v2.3h-2.3zM112.4 327.6h2.3v2.3h-2.3zM91.6 319.6h2.3v2.3h-2.3zM89.3 326.3h2.3v2.3h-2.3zM99.6 316.5h2.3v2.3h-2.3zM112.4 328.2h2.3v2.3h-2.3zM106.6 313.9h2.3v2.3h-2.3zM99.5 322h2.3v2.3h-2.3zM116.2 320.4h2.3v2.3h-2.3zM99.2 322.5h2.3v2.3h-2.3zM114.2 320h2.3v2.3h-2.3zM108.6 324.1h2.3v2.3h-2.3zM58.6 313.7h2.3v2.3h-2.3zM64.8 311.6h2.3v2.3h-2.3zM52.6 315h2.3v2.3h-2.3zM59 306.3h2.3v2.3h-2.3zM69.3 314.5h2.3v2.3h-2.3zM49 309.4h2.3v2.3h-2.3zM71.2 309.3h2.3v2.3h-2.3zM57.8 306h2.3v2.3h-2.3zM71.6 313.3h2.3v2.3h-2.3zM60.5 315.9h2.3v2.3h-2.3zM70.7 323.4h2.3v2.3h-2.3zM58.4 312.1h2.3v2.3h-2.3zM48.7 309.9h2.3v2.3h-2.3zM58.1 308.5h2.3v2.3h-2.3zM53.6 317.9h2.3v2.3h-2.3zM53.6 316.3h2.3v2.3h-2.3zM62.3 306.8h2.3v2.3h-2.3zM64.2 307.9h2.3v2.3h-2.3zM70.7 323.9h2.3v2.3h-2.3zM50.8 320.8h2.3v2.3h-2.3zM47.7 321.1h2.3v2.3h-2.3zM52.3 310.3h2.3v2.3h-2.3zM65.5 311.1h2.3v2.3h-2.3zM68.1 318.2h2.3v2.3h-2.3zM62.9 305.9h2.3v2.3h-2.3zM62.3 319.7h2.3v2.3h-2.3zM55.1 313.7h2.3v2.3h-2.3zM71.3 312.2h2.3v2.3h-2.3zM60.4 309.7h2.3v2.3h-2.3zM59.6 318h2.3v2.3h-2.3zM74.7 314.9h2.3v2.3h-2.3zM55.3 314h2.3v2.3h-2.3zM50.2 317.3h2.3v2.3h-2.3zM66.6 321.8h2.3v2.3h-2.3zM61.5 314.7h2.3v2.3h-2.3zM57.7 312.3h2.3v2.3h-2.3zM58.3 313.1h2.3v2.3h-2.3zM54.3 312.8h2.3v2.3h-2.3zM48.6 321.2h2.3v2.3h-2.3zM64.4 317.1h2.3v2.3h-2.3zM71.7 311.6h2.3v2.3h-2.3zM48.3 318.1h2.3v2.3h-2.3zM69.5 323.9h2.3v2.3h-2.3zM61.7 308.3h2.3v2.3h-2.3zM54.5 310.1h2.3v2.3h-2.3zM46.8 318.3h2.3v2.3h-2.3zM63.5 311.9h2.3v2.3h-2.3zM67.5 306.9h2.3v2.3h-2.3zM54.4 316h2.3v2.3h-2.3zM53.5 306.6h2.3v2.3h-2.3zM47.1 313.1h2.3v2.3h-2.3zM60.3 321.6h2.3v2.3h-2.3zM52.8 315.2h2.3v2.3h-2.3zM55.1 313.4h2.3v2.3h-2.3zM67.3 317.4h2.3v2.3h-2.3zM69.3 320.1h2.3v2.3h-2.3zM56.2 321.3h2.3v2.3h-2.3zM53.5 312.7h2.3v2.3h-2.3zM73.7 312.6h2.3v2.3h-2.3zM54.9 321.3h2.3v2.3h-2.3zM72.5 316.4h2.3v2.3h-2.3zM59.5 322.1h2.3v2.3h-2.3zM65.5 315.9h2.3v2.3h-2.3zM61.7 310.6h2.3v2.3h-2.3zM53 316.1h2.3v2.3h-2.3zM72.3 312.4h2.3v2.3h-2.3zM53.1 312h2.3v2.3h-2.3zM74 315.7h2.3v2.3h-2.3zM73.9 317h2.3v2.3h-2.3zM67 320.4h2.3v2.3h-2.3zM59 317.6h2.3v2.3h-2.3zM59.2 310.2h2.3v2.3h-2.3zM67 323.6h2.3v2.3h-2.3zM74.7 314.8h2.3v2.3h-2.3zM68.4 311.9h2.3v2.3h-2.3zM62.6 315.4h2.3v2.3h-2.3zM74.3 319.5h2.3v2.3h-2.3zM64.6 311.7h2.3v2.3h-2.3zM72.5 312.9h2.3v2.3h-2.3zM71.9 323h2.3v2.3h-2.3zM55.1 312.5h2.3v2.3h-2.3zM63.3 317.1h2.3v2.3h-2.3zM73.8 312.2h2.3v2.3h-2.3zM63.8 310.9h2.3v2.3h-2.3zM59.5 309.7h2.3v2.3h-2.3zM61.6 320.4h2.3v2.3h-2.3zM53.1 315.6h2.3v2.3h-2.3zM62.8 313.7h2.3v2.3h-2.3zM64.1 321.9h2.3v2.3h-2.3zM56.8 315h2.3v2.3h-2.3zM61 309.2h2.3v2.3h-2.3zM71.9 319.9h2.3v2.3h-2.3zM55.1 318.1h2.3v2.3h-2.3zM71.5 310.7h2.3v2.3h-2.3zM70 315.6h2.3v2.3h-2.3zM69.4 313.8h2.3v2.3h-2.3zM67.9 320.3h2.3v2.3h-2.3zM63.3 308.9h2.3v2.3h-2.3zM67.3 319.9h2.3v2.3h-2.3zM53.1 312.4h2.3v2.3h-2.3zM66.7 312.1h2.3v2.3h-2.3zM67.7 311.4h2.3v2.3h-2.3zM73.9 313.6h2.3v2.3h-2.3zM69.2 311.5h2.3v2.3h-2.3zM68.5 321.6h2.3v2.3h-2.3zM74.2 317.9h2.3v2.3h-2.3zM56 319.2h2.3v2.3h-2.3zM61.5 312.9h2.3v2.3h-2.3zM60.2 313h2.3v2.3h-2.3zM62.5 314.8h2.3v2.3h-2.3zM55 312.7h2.3v2.3h-2.3zM57.4 321.5h2.3v2.3h-2.3zM72.5 314.3h2.3v2.3h-2.3zM73.3 319.9h2.3v2.3h-2.3zM67.3 319.3h2.3v2.3h-2.3zM62 311.8h2.3v2.3h-2.3zM42.9 270.1h2.3v2.3h-2.3zM60.6 275.2h2.3v2.3h-2.3zM41.6 278.2h2.3v2.3h-2.3zM44.1 277.8h2.3v2.3h-2.3zM44.1 281.2h2.3v2.3h-2.3zM66.5 280.8h2.3v2.3h-2.3zM77.5 282.9h2.3v2.3h-2.3zM48.6 283.2h2.3v2.3h-2.3zM41.2 285.4h2.3v2.3h-2.3zM48.1 287.5h2.3v2.3h-2.3zM57.1 288.2h2.3v2.3h-2.3zM51.2 290.5h2.3v2.3h-2.3zM67.5 291h2.3v2.3h-2.3zM42.1 293.1h2.3v2.3h-2.3zM46.1 292.6h2.3v2.3h-2.3zM44.6 296.1h2.3v2.3h-2.3zM49.1 297.7h2.3v2.3h-2.3zM58.4 295.6h2.3v2.3h-2.3zM59.4 296.7h2.3v2.3h-2.3zM64.4 298.5h2.3v2.3h-2.3zM80.6 297.2h2.3v2.3h-2.3zM44.6 296h2.3v2.3h-2.3zM49.5 298.7h2.3v2.3h-2.3zM43 303h2.3v2.3h-2.3zM46.8 303.5h2.3v2.3h-2.3zM50.6 304.6h2.3v2.3h-2.3zM47.9 307.8h2.3v2.3h-2.3zM51.1 308.9h2.3v2.3h-2.3zM43.6 314.8h2.3v2.3h-2.3zM46.2 313.2h2.3v2.3h-2.3zM42 319.1h2.3v2.3h-2.3zM58.6 296h2.3v2.3h-2.3zM65 299.2h2.3v2.3h-2.3zM68.2 300.2h2.3v2.3h-2.3zM68.2 305.1h2.3v2.3h-2.3zM80.1 302.4h2.3v2.3h-2.3zM80.1 297.1h2.3v2.3h-2.3zM76.8 310.5h2.3v2.3h-2.3zM82.1 310h2.3v2.3h-2.3zM80.2 302.7h2.3v2.3h-2.3zM44.9 301.4h2.3v2.3h-2.3zM42.4 304.9h2.3v2.3h-2.3zM46.9 310.9h2.3v2.3h-2.3zM51.9 314.9h2.3v2.3h-2.3zM93.7 320h3v3h-3zM101.4 318.9h3v3h-3zM85.8 319.9h3v3h-3zM108.9 320.5h3v3h-3zM110.9 324.3h3v3h-3zM105.9 313.7h3v3h-3zM102.2 321.3h3v3h-3zM85.9 324h3v3h-3zM88.1 321h3v3h-3zM109.7 322.6h3v3h-3zM90.9 320.7h3v3h-3zM95.9 321.8h3v3h-3zM74.5 316.7h3v3h-3zM111.8 322.7h3v3h-3zM107.3 316.8h3v3h-3zM98.5 319h3v3h-3zM78.6 321.5h3v3h-3zM89.1 323.8h3v3h-3zM98.4 321.4h3v3h-3zM95.3 321.1h3v3h-3zM89 325.9h3v3h-3zM102.2 319.4h3v3h-3zM74.7 316.1h3v3h-3zM109 319h3v3h-3zM113.4 326h3v3h-3zM102.2 318.7h3v3h-3zM81.2 318.3h3v3h-3zM110.2 322h3v3h-3zM77.5 324.2h3v3h-3zM90.1 319h3v3h-3zM109.6 319.2h3v3h-3zM92.1 320.1h3v3h-3zM104.8 319.9h3v3h-3zM93.5 319.4h3v3h-3zM87.1 322.9h3v3h-3zM84.9 318.7h3v3h-3zM79.7 323.7h3v3h-3zM111.2 319.9h3v3h-3zM99.5 319.4h3v3h-3zM100.4 318.6h3v3h-3zM94 321h3v3h-3zM102.5 320.5h3v3h-3zM86.4 322.1h3v3h-3zM95.9 318.8h3v3h-3zM105.8 319.4h3v3h-3zM107.8 320.4h3v3h-3zM75.1 317.5h3v3h-3zM95.7 319h3v3h-3zM99 319.7h3v3h-3zM84.3 316.9h3v3h-3zM75.1 324.9h3v3h-3zM80.4 317.4h3v3h-3zM78.2 318h3v3h-3zM83.3 321.8h3v3h-3zM106.3 318.6h3v3h-3zM116.1 320.8h3v3h-3zM94.4 322.4h3v3h-3zM76.2 323.4h3v3h-3zM104.8 322.8h3v3h-3zM98.1 317.8h3v3h-3zM75 315.9h3v3h-3zM97.4 320.9h3v3h-3zM90.4 319.3h3v3h-3zM105.3 323.9h3v3h-3zM114.7 324.5h3v3h-3zM110 317.6h3v3h-3zM103.2 322.9h3v3h-3zM83.9 320.1h3v3h-3zM80.5 318.5h3v3h-3zM97.1 317.9h3v3h-3zM94.5 319.3h3v3h-3zM82.6 313.8h3v3h-3zM104.5 322.7h3v3h-3zM111.6 321.1h3v3h-3zM74.5 316.6h3v3h-3zM109.4 319h3v3h-3zM86.5 318.8h3v3h-3zM77.8 320.1h3v3h-3zM82.9 316.3h3v3h-3zM111.6 319.5h3v3h-3zM88.9 320.4h3v3h-3zM85.1 319h3v3h-3zM105.9 319.3h3v3h-3zM107.6 322.5h3v3h-3zM85.6 317h3v3h-3zM106.9 321.2h3v3h-3zM77.3 321.5h3v3h-3zM89 321.7h3v3h-3zM104.3 318.7h3v3h-3zM89.6 320.6h3v3h-3zM88.9 325.8h3v3h-3zM78.1 321h3v3h-3zM76.9 319.3h3v3h-3zM83.6 319.2h3v3h-3zM103.4 321.8h3v3h-3zM92.1 322.2h3v3h-3zM91.4 323.1h3v3h-3zM75.3 322h3v3h-3zM114.9 319.8h3v3h-3zM93.7 317.9h3v3h-3zM94.7 319.5h3v3h-3zM106.7 317.9h3v3h-3zM74.6 319.9h3v3h-3zM101.6 319.9h3v3h-3zM90.4 321.7h3v3h-3zM106.5 323.5h3v3h-3zM107.7 318.3h3v3h-3zM79 321h3v3h-3z" fill="#0000ff"/>
</g>
<path d="M42.3 343.5v-4M42.3 260.7v4M56.1 343.5v-4M56.1 260.7v4M70 343.5v-4M70 260.7v4M83.8 343.5v-4M83.8 260.7v4M97.7 343.5v-4M97.7 260.7v4M111.5 343.5v-4M111.5 260.7v4M35.5 321.7h2M125.5 321.7h-2M35.5 309.5h4M125.5 309.5h-4M35.5 297.3h2M125.5 297.3h-2M35.5 285.1h4M125.5 285.1h-4M35.5 272.9h2M125.5 272.9h-2M35.5 333.9h4M125.5 333.9h-4" stroke="#5e5e5e" stroke-width="1" fill="none"/>
<path d="M35 260.7H126" stroke="#ababab" stroke-width="1.6"/>
<path d="M35.5 260.7V343.5H125.5V260.7" stroke="#5e5e5e" stroke-width="1" fill="none"/>
<text x="125.8" y="274.5" text-anchor="end" class="ttl">MEO  C35</text>
<path d="M137.5 333.5H225.7M137.5 321.5H225.7M137.5 309.5H225.7M137.5 297.5H225.7M137.5 284.5H225.7M137.5 272.5H225.7" stroke="#c6c6c6" stroke-width="1" stroke-dasharray="1.3 1.97" stroke-dashoffset="1" fill="none"/>
<clipPath id="kC36"><rect x="136.6" y="260.7" width="90.1" height="82.8"/></clipPath><g clip-path="url(#kC36)">
<path d="M173.6 315.1L176.9 317.7L180 317.5L183.2 317.3L186.5 319.1L188.6 317.8L191.8 320L196.1 318.6L199.4 322.3L202.6 322.1L205.8 317.6L209.1 315.2L211.2 315.2L213.4 320L216.6 318.8L218.2 319.8L218.2 326.2L216.6 326.3L213.4 325.9L211.2 323.8L209.1 323L205.8 324L202.6 326.9L199.4 328.4L196.1 327.4L191.8 326.6L188.6 325.3L186.5 325.2L183.2 323.9L180 324.4L176.9 325.1L173.6 324.5 Z" fill="#0000ff"/>
<path d="M199.5 318.7l3.8 3.8m0 -3.8l-3.8 3.8M203.4 322.5l3.8 3.8m0 -3.8l-3.8 3.8M207.4 311.6l3.8 3.8m0 -3.8l-3.8 3.8M197.3 325.9l3.8 3.8m0 -3.8l-3.8 3.8M208.6 309.4l3.8 3.8m0 -3.8l-3.8 3.8M195.4 327.8l3.8 3.8m0 -3.8l-3.8 3.8M179 313.5l3.8 3.8m0 -3.8l-3.8 3.8M183.4 323.6l3.8 3.8m0 -3.8l-3.8 3.8M173.2 311.2l3.8 3.8m0 -3.8l-3.8 3.8M213.2 325l3.8 3.8m0 -3.8l-3.8 3.8M214.9 315.1l3.8 3.8m0 -3.8l-3.8 3.8M201.5 324.9l3.8 3.8m0 -3.8l-3.8 3.8M201.8 318.2l3.8 3.8m0 -3.8l-3.8 3.8M189.9 325.2l3.8 3.8m0 -3.8l-3.8 3.8M184.4 314.8l3.8 3.8m0 -3.8l-3.8 3.8M189.7 324.6l3.8 3.8m0 -3.8l-3.8 3.8M210.2 311.6l3.8 3.8m0 -3.8l-3.8 3.8M173.9 323.9l3.8 3.8m0 -3.8l-3.8 3.8M205.1 313l3.8 3.8m0 -3.8l-3.8 3.8M178.1 322.8l3.8 3.8m0 -3.8l-3.8 3.8M213.1 315.2l3.8 3.8m0 -3.8l-3.8 3.8M201.7 324.9l3.8 3.8m0 -3.8l-3.8 3.8M191.6 313.9l3.8 3.8m0 -3.8l-3.8 3.8M209.2 323.1l3.8 3.8m0 -3.8l-3.8 3.8M190.8 315.3l3.8 3.8m0 -3.8l-3.8 3.8M187.5 323.5l3.8 3.8m0 -3.8l-3.8 3.8M187.7 313.1l3.8 3.8m0 -3.8l-3.8 3.8M191.7 326.5l3.8 3.8m0 -3.8l-3.8 3.8M207.7 310.2l3.8 3.8m0 -3.8l-3.8 3.8M173.9 323.8l3.8 3.8m0 -3.8l-3.8 3.8M196 317.5l3.8 3.8m0 -3.8l-3.8 3.8M209.6 323.3l3.8 3.8m0 -3.8l-3.8 3.8M190.1 316.7l3.8 3.8m0 -3.8l-3.8 3.8M210 324.1l3.8 3.8m0 -3.8l-3.8 3.8M209.9 311l3.8 3.8m0 -3.8l-3.8 3.8M211.9 325.3l3.8 3.8m0 -3.8l-3.8 3.8M193.4 314.4l3.8 3.8m0 -3.8l-3.8 3.8M208.2 322.3l3.8 3.8m0 -3.8l-3.8 3.8M199.9 320.2l3.8 3.8m0 -3.8l-3.8 3.8M179.4 323.6l3.8 3.8m0 -3.8l-3.8 3.8M188.7 314.7l3.8 3.8m0 -3.8l-3.8 3.8M196.5 325.9l3.8 3.8m0 -3.8l-3.8 3.8M202.1 318l3.8 3.8m0 -3.8l-3.8 3.8M196.4 326.5l3.8 3.8m0 -3.8l-3.8 3.8M183.7 313.7l3.8 3.8m0 -3.8l-3.8 3.8M213.3 325.3l3.8 3.8m0 -3.8l-3.8 3.8M142.9 317.1l3.8 3.8m0 -3.8l-3.8 3.8M144.4 301.1l3.8 3.8m0 -3.8l-3.8 3.8M145.9 319l3.8 3.8m0 -3.8l-3.8 3.8M144.5 302.1l3.8 3.8m0 -3.8l-3.8 3.8M145.7 305.3l3.8 3.8m0 -3.8l-3.8 3.8M144.9 300.8l3.8 3.8m0 -3.8l-3.8 3.8M152.9 313.8l3.8 3.8m0 -3.8l-3.8 3.8M153.8 306.3l3.8 3.8m0 -3.8l-3.8 3.8M154.7 314.4l3.8 3.8m0 -3.8l-3.8 3.8M167.4 311.8l3.8 3.8m0 -3.8l-3.8 3.8M155.8 317.2l3.8 3.8m0 -3.8l-3.8 3.8M170.7 316.1l3.8 3.8m0 -3.8l-3.8 3.8M162.4 309.5l3.8 3.8m0 -3.8l-3.8 3.8M153.5 316.3l3.8 3.8m0 -3.8l-3.8 3.8M167.5 313.6l3.8 3.8m0 -3.8l-3.8 3.8M160.3 309.2l3.8 3.8m0 -3.8l-3.8 3.8M156.5 311.9l3.8 3.8m0 -3.8l-3.8 3.8M153.1 311.8l3.8 3.8m0 -3.8l-3.8 3.8M158.7 306.8l3.8 3.8m0 -3.8l-3.8 3.8M169.3 311.3l3.8 3.8m0 -3.8l-3.8 3.8M156 313.4l3.8 3.8m0 -3.8l-3.8 3.8M171.2 310l3.8 3.8m0 -3.8l-3.8 3.8M151.7 310.8l3.8 3.8m0 -3.8l-3.8 3.8M154 306.1l3.8 3.8m0 -3.8l-3.8 3.8M168.6 309.7l3.8 3.8m0 -3.8l-3.8 3.8M153.8 312.8l3.8 3.8m0 -3.8l-3.8 3.8M156.8 311.9l3.8 3.8m0 -3.8l-3.8 3.8M159.3 308.6l3.8 3.8m0 -3.8l-3.8 3.8M162.3 312.6l3.8 3.8m0 -3.8l-3.8 3.8M165.1 312l3.8 3.8m0 -3.8l-3.8 3.8M163.6 316l3.8 3.8m0 -3.8l-3.8 3.8M158.1 314.9l3.8 3.8m0 -3.8l-3.8 3.8M151.5 307.1l3.8 3.8m0 -3.8l-3.8 3.8M164.7 308.9l3.8 3.8m0 -3.8l-3.8 3.8M171.6 309.2l3.8 3.8m0 -3.8l-3.8 3.8M169 307.7l3.8 3.8m0 -3.8l-3.8 3.8M158.5 306.7l3.8 3.8m0 -3.8l-3.8 3.8M161.5 312.8l3.8 3.8m0 -3.8l-3.8 3.8M164.4 321.1l3.8 3.8m0 -3.8l-3.8 3.8M169.3 319.9l3.8 3.8m0 -3.8l-3.8 3.8M158.4 306.9l3.8 3.8m0 -3.8l-3.8 3.8M155.1 309.9l3.8 3.8m0 -3.8l-3.8 3.8M165.8 319.1l3.8 3.8m0 -3.8l-3.8 3.8M160.6 318.6l3.8 3.8m0 -3.8l-3.8 3.8M151.7 308.8l3.8 3.8m0 -3.8l-3.8 3.8M151.7 310.6l3.8 3.8m0 -3.8l-3.8 3.8M169.8 313l3.8 3.8m0 -3.8l-3.8 3.8M161.8 317.5l3.8 3.8m0 -3.8l-3.8 3.8M156.2 308l3.8 3.8m0 -3.8l-3.8 3.8M151.8 314l3.8 3.8m0 -3.8l-3.8 3.8M159.7 309.5l3.8 3.8m0 -3.8l-3.8 3.8M166.8 315.1l3.8 3.8m0 -3.8l-3.8 3.8M156.8 308.3l3.8 3.8m0 -3.8l-3.8 3.8M153.7 315l3.8 3.8m0 -3.8l-3.8 3.8M167.2 308.9l3.8 3.8m0 -3.8l-3.8 3.8M159.2 311.4l3.8 3.8m0 -3.8l-3.8 3.8M163.9 321.5l3.8 3.8m0 -3.8l-3.8 3.8M167.3 312l3.8 3.8m0 -3.8l-3.8 3.8M162.1 310.9l3.8 3.8m0 -3.8l-3.8 3.8M166.5 311.7l3.8 3.8m0 -3.8l-3.8 3.8M160.9 318l3.8 3.8m0 -3.8l-3.8 3.8M166.1 321.4l3.8 3.8m0 -3.8l-3.8 3.8M168.7 321.8l3.8 3.8m0 -3.8l-3.8 3.8M167.2 321l3.8 3.8m0 -3.8l-3.8 3.8M162.6 318.8l3.8 3.8m0 -3.8l-3.8 3.8M159.5 314.7l3.8 3.8m0 -3.8l-3.8 3.8M164.3 318l3.8 3.8m0 -3.8l-3.8 3.8M159.2 317.9l3.8 3.8m0 -3.8l-3.8 3.8M170.7 318.1l3.8 3.8m0 -3.8l-3.8 3.8M161.4 311l3.8 3.8m0 -3.8l-3.8 3.8M164.8 318l3.8 3.8m0 -3.8l-3.8 3.8M162.2 311.6l3.8 3.8m0 -3.8l-3.8 3.8M167.2 318.7l3.8 3.8m0 -3.8l-3.8 3.8M162.2 317.2l3.8 3.8m0 -3.8l-3.8 3.8M158.6 317.5l3.8 3.8m0 -3.8l-3.8 3.8M163.2 318.4l3.8 3.8m0 -3.8l-3.8 3.8M169.2 321.3l3.8 3.8m0 -3.8l-3.8 3.8M155.3 312l3.8 3.8m0 -3.8l-3.8 3.8M160.6 310.5l3.8 3.8m0 -3.8l-3.8 3.8M168.8 315.9l3.8 3.8m0 -3.8l-3.8 3.8M166.3 315.5l3.8 3.8m0 -3.8l-3.8 3.8M166.7 318.8l3.8 3.8m0 -3.8l-3.8 3.8M166.6 321.3l3.8 3.8m0 -3.8l-3.8 3.8M162.1 317.7l3.8 3.8m0 -3.8l-3.8 3.8M166.2 319.8l3.8 3.8m0 -3.8l-3.8 3.8M155.6 315.9l3.8 3.8m0 -3.8l-3.8 3.8M166.8 310.8l3.8 3.8m0 -3.8l-3.8 3.8M162.1 318.7l3.8 3.8m0 -3.8l-3.8 3.8M168.6 314.9l3.8 3.8m0 -3.8l-3.8 3.8M166.4 319.3l3.8 3.8m0 -3.8l-3.8 3.8M160.3 317.7l3.8 3.8m0 -3.8l-3.8 3.8M170.1 313.2l3.8 3.8m0 -3.8l-3.8 3.8M156.9 317.5l3.8 3.8m0 -3.8l-3.8 3.8M162.6 259.4l3.8 3.8m0 -3.8l-3.8 3.8M182.2 259.4l3.8 3.8m0 -3.8l-3.8 3.8M191.6 275.9l3.8 3.8m0 -3.8l-3.8 3.8M149.2 266.7l3.8 3.8m0 -3.8l-3.8 3.8M147.6 274.2l3.8 3.8m0 -3.8l-3.8 3.8M151.1 275.3l3.8 3.8m0 -3.8l-3.8 3.8M141.1 281.8l3.8 3.8m0 -3.8l-3.8 3.8M158.6 280.5l3.8 3.8m0 -3.8l-3.8 3.8M144 286.3l3.8 3.8m0 -3.8l-3.8 3.8M144.3 289.3l3.8 3.8m0 -3.8l-3.8 3.8M148.6 285.5l3.8 3.8m0 -3.8l-3.8 3.8M151.3 284.5l3.8 3.8m0 -3.8l-3.8 3.8M150.8 287.2l3.8 3.8m0 -3.8l-3.8 3.8M151.9 286.6l3.8 3.8m0 -3.8l-3.8 3.8M151.3 292l3.8 3.8m0 -3.8l-3.8 3.8M143.2 295.2l3.8 3.8m0 -3.8l-3.8 3.8M145.9 296.3l3.8 3.8m0 -3.8l-3.8 3.8M152.9 297.4l3.8 3.8m0 -3.8l-3.8 3.8M159.7 294.7l3.8 3.8m0 -3.8l-3.8 3.8M143.8 298.9l3.8 3.8m0 -3.8l-3.8 3.8M152.9 298.4l3.8 3.8m0 -3.8l-3.8 3.8M147 302.2l3.8 3.8m0 -3.8l-3.8 3.8M149.7 301.1l3.8 3.8m0 -3.8l-3.8 3.8M159.4 301.1l3.8 3.8m0 -3.8l-3.8 3.8M159.9 295l3.8 3.8m0 -3.8l-3.8 3.8M154.6 304.9l3.8 3.8m0 -3.8l-3.8 3.8M166.4 303.2l3.8 3.8m0 -3.8l-3.8 3.8M178.2 304.3l3.8 3.8m0 -3.8l-3.8 3.8M141.6 307l3.8 3.8m0 -3.8l-3.8 3.8M142.7 310.2l3.8 3.8m0 -3.8l-3.8 3.8M176.1 310.2l3.8 3.8m0 -3.8l-3.8 3.8M143.2 315.6l3.8 3.8m0 -3.8l-3.8 3.8M148.6 319.4l3.8 3.8m0 -3.8l-3.8 3.8M143.8 321.5l3.8 3.8m0 -3.8l-3.8 3.8M147.6 329.1l3.8 3.8m0 -3.8l-3.8 3.8M153.5 319.9l3.8 3.8m0 -3.8l-3.8 3.8M163.2 324.2l3.8 3.8m0 -3.8l-3.8 3.8M179 304.3l3.8 3.8m0 -3.8l-3.8 3.8M145.1 308.6l3.8 3.8m0 -3.8l-3.8 3.8M148.1 312.1l3.8 3.8m0 -3.8l-3.8 3.8M144.1 313.1l3.8 3.8m0 -3.8l-3.8 3.8M176.1 309.5l3.8 3.8m0 -3.8l-3.8 3.8M186.8 312l3.8 3.8m0 -3.8l-3.8 3.8M194.1 312l3.8 3.8m0 -3.8l-3.8 3.8M208.1 309.5l3.8 3.8m0 -3.8l-3.8 3.8" stroke="#0000ff" stroke-width="0.85" fill="none"/>
<path d="M200.2 319.5h2.3v2.3h-2.3zM204.2 323.3h2.3v2.3h-2.3zM208.1 312.4h2.3v2.3h-2.3zM198.1 326.6h2.3v2.3h-2.3zM209.3 310.1h2.3v2.3h-2.3zM196.1 328.6h2.3v2.3h-2.3zM179.7 314.2h2.3v2.3h-2.3zM184.2 324.4h2.3v2.3h-2.3zM173.9 312h2.3v2.3h-2.3zM214 325.7h2.3v2.3h-2.3zM215.6 315.8h2.3v2.3h-2.3zM202.3 325.7h2.3v2.3h-2.3zM202.5 318.9h2.3v2.3h-2.3zM190.7 326h2.3v2.3h-2.3zM185.2 315.6h2.3v2.3h-2.3zM190.4 325.4h2.3v2.3h-2.3zM211 312.4h2.3v2.3h-2.3zM174.7 324.7h2.3v2.3h-2.3zM205.9 313.7h2.3v2.3h-2.3zM178.9 323.6h2.3v2.3h-2.3zM213.8 316h2.3v2.3h-2.3zM202.5 325.6h2.3v2.3h-2.3zM192.4 314.7h2.3v2.3h-2.3zM209.9 323.8h2.3v2.3h-2.3zM191.5 316h2.3v2.3h-2.3zM188.3 324.3h2.3v2.3h-2.3zM188.4 313.8h2.3v2.3h-2.3zM192.4 327.3h2.3v2.3h-2.3zM208.5 311h2.3v2.3h-2.3zM174.6 324.5h2.3v2.3h-2.3zM196.8 318.3h2.3v2.3h-2.3zM210.3 324.1h2.3v2.3h-2.3zM190.9 317.4h2.3v2.3h-2.3zM210.7 324.9h2.3v2.3h-2.3zM210.6 311.7h2.3v2.3h-2.3zM212.6 326h2.3v2.3h-2.3zM194.1 315.2h2.3v2.3h-2.3zM208.9 323h2.3v2.3h-2.3zM200.6 320.9h2.3v2.3h-2.3zM180.2 324.4h2.3v2.3h-2.3zM189.5 315.4h2.3v2.3h-2.3zM197.2 326.7h2.3v2.3h-2.3zM202.8 318.7h2.3v2.3h-2.3zM197.2 327.2h2.3v2.3h-2.3zM184.5 314.4h2.3v2.3h-2.3zM214.1 326.1h2.3v2.3h-2.3zM143.7 317.9h2.3v2.3h-2.3zM145.1 301.9h2.3v2.3h-2.3zM146.7 319.8h2.3v2.3h-2.3zM145.3 302.9h2.3v2.3h-2.3zM146.4 306.1h2.3v2.3h-2.3zM145.6 301.5h2.3v2.3h-2.3zM153.6 314.5h2.3v2.3h-2.3zM154.5 307.1h2.3v2.3h-2.3zM155.4 315.2h2.3v2.3h-2.3zM168.2 312.5h2.3v2.3h-2.3zM156.6 318h2.3v2.3h-2.3zM171.4 316.9h2.3v2.3h-2.3zM163.1 310.3h2.3v2.3h-2.3zM154.2 317.1h2.3v2.3h-2.3zM168.2 314.4h2.3v2.3h-2.3zM161 310h2.3v2.3h-2.3zM157.3 312.7h2.3v2.3h-2.3zM153.9 312.5h2.3v2.3h-2.3zM159.4 307.6h2.3v2.3h-2.3zM170 312h2.3v2.3h-2.3zM156.7 314.1h2.3v2.3h-2.3zM171.9 310.7h2.3v2.3h-2.3zM152.4 311.6h2.3v2.3h-2.3zM154.8 306.8h2.3v2.3h-2.3zM169.4 310.4h2.3v2.3h-2.3zM154.6 313.6h2.3v2.3h-2.3zM157.5 312.7h2.3v2.3h-2.3zM160 309.4h2.3v2.3h-2.3zM163.1 313.4h2.3v2.3h-2.3zM165.8 312.8h2.3v2.3h-2.3zM164.4 316.8h2.3v2.3h-2.3zM158.8 315.7h2.3v2.3h-2.3zM152.2 307.8h2.3v2.3h-2.3zM165.4 309.7h2.3v2.3h-2.3zM172.4 310h2.3v2.3h-2.3zM169.8 308.5h2.3v2.3h-2.3zM159.3 307.4h2.3v2.3h-2.3zM162.3 313.5h2.3v2.3h-2.3zM165.1 321.9h2.3v2.3h-2.3zM170.1 320.6h2.3v2.3h-2.3zM159.1 307.6h2.3v2.3h-2.3zM155.9 310.7h2.3v2.3h-2.3zM166.6 319.8h2.3v2.3h-2.3zM161.3 319.4h2.3v2.3h-2.3zM152.5 309.6h2.3v2.3h-2.3zM152.5 311.3h2.3v2.3h-2.3zM170.5 313.8h2.3v2.3h-2.3zM162.6 318.3h2.3v2.3h-2.3zM156.9 308.8h2.3v2.3h-2.3zM152.6 314.8h2.3v2.3h-2.3zM160.5 310.2h2.3v2.3h-2.3zM167.6 315.9h2.3v2.3h-2.3zM157.5 309.1h2.3v2.3h-2.3zM154.4 315.8h2.3v2.3h-2.3zM167.9 309.6h2.3v2.3h-2.3zM159.9 312.2h2.3v2.3h-2.3zM164.7 322.3h2.3v2.3h-2.3zM168 312.7h2.3v2.3h-2.3zM162.8 311.6h2.3v2.3h-2.3zM167.2 312.5h2.3v2.3h-2.3zM161.6 318.8h2.3v2.3h-2.3zM166.8 322.2h2.3v2.3h-2.3zM169.5 322.6h2.3v2.3h-2.3zM168 321.8h2.3v2.3h-2.3zM163.4 319.5h2.3v2.3h-2.3zM160.3 315.5h2.3v2.3h-2.3zM165 318.7h2.3v2.3h-2.3zM159.9 318.6h2.3v2.3h-2.3zM171.5 318.8h2.3v2.3h-2.3zM162.1 311.7h2.3v2.3h-2.3zM165.5 318.8h2.3v2.3h-2.3zM162.9 312.3h2.3v2.3h-2.3zM168 319.4h2.3v2.3h-2.3zM163 317.9h2.3v2.3h-2.3zM159.3 318.2h2.3v2.3h-2.3zM163.9 319.2h2.3v2.3h-2.3zM169.9 322h2.3v2.3h-2.3zM156.1 312.8h2.3v2.3h-2.3zM161.3 311.2h2.3v2.3h-2.3zM169.6 316.6h2.3v2.3h-2.3zM167.1 316.3h2.3v2.3h-2.3zM167.4 319.5h2.3v2.3h-2.3zM167.3 322h2.3v2.3h-2.3zM162.8 318.4h2.3v2.3h-2.3zM167 320.5h2.3v2.3h-2.3zM156.3 316.6h2.3v2.3h-2.3zM167.5 311.6h2.3v2.3h-2.3zM162.8 319.5h2.3v2.3h-2.3zM169.4 315.6h2.3v2.3h-2.3zM167.1 320h2.3v2.3h-2.3zM161.1 318.5h2.3v2.3h-2.3zM170.9 314h2.3v2.3h-2.3zM157.6 318.2h2.3v2.3h-2.3zM163.3 260.2h2.3v2.3h-2.3zM182.9 260.2h2.3v2.3h-2.3zM192.3 276.7h2.3v2.3h-2.3zM149.9 267.5h2.3v2.3h-2.3zM148.3 275h2.3v2.3h-2.3zM151.8 276.1h2.3v2.3h-2.3zM141.8 282.6h2.3v2.3h-2.3zM159.3 281.2h2.3v2.3h-2.3zM144.8 287.1h2.3v2.3h-2.3zM145 290.1h2.3v2.3h-2.3zM149.3 286.2h2.3v2.3h-2.3zM152 285.2h2.3v2.3h-2.3zM151.5 288h2.3v2.3h-2.3zM152.7 287.4h2.3v2.3h-2.3zM152 292.8h2.3v2.3h-2.3zM143.9 296h2.3v2.3h-2.3zM146.7 297.1h2.3v2.3h-2.3zM153.7 298.2h2.3v2.3h-2.3zM160.4 295.5h2.3v2.3h-2.3zM144.5 299.7h2.3v2.3h-2.3zM153.7 299.2h2.3v2.3h-2.3zM147.8 303h2.3v2.3h-2.3zM150.4 301.9h2.3v2.3h-2.3zM160.2 301.9h2.3v2.3h-2.3zM160.7 295.8h2.3v2.3h-2.3zM155.3 305.7h2.3v2.3h-2.3zM167.2 304h2.3v2.3h-2.3zM178.9 305.1h2.3v2.3h-2.3zM142.3 307.8h2.3v2.3h-2.3zM143.4 311h2.3v2.3h-2.3zM176.8 311h2.3v2.3h-2.3zM143.9 316.4h2.3v2.3h-2.3zM149.3 320.2h2.3v2.3h-2.3zM144.5 322.2h2.3v2.3h-2.3zM148.3 329.9h2.3v2.3h-2.3zM154.2 320.7h2.3v2.3h-2.3zM163.9 325h2.3v2.3h-2.3zM179.8 305.1h2.3v2.3h-2.3zM145.8 309.4h2.3v2.3h-2.3zM148.8 312.9h2.3v2.3h-2.3zM144.8 313.9h2.3v2.3h-2.3zM176.8 310.2h2.3v2.3h-2.3zM187.5 312.8h2.3v2.3h-2.3zM194.8 312.8h2.3v2.3h-2.3zM208.8 310.2h2.3v2.3h-2.3zM201.5 321h3v3h-3zM174.6 322.6h3v3h-3zM200.4 320.9h3v3h-3zM175.7 319.7h3v3h-3zM199.8 321.8h3v3h-3zM198.1 319.2h3v3h-3zM203.3 316.6h3v3h-3zM207.9 321.4h3v3h-3zM190.7 317.3h3v3h-3zM209.6 314.4h3v3h-3zM199.7 324.9h3v3h-3zM182.6 317.1h3v3h-3zM197.7 321.5h3v3h-3zM198.7 319.8h3v3h-3zM202.5 321.5h3v3h-3zM177.8 319.6h3v3h-3zM190.7 319.5h3v3h-3zM186.9 322.5h3v3h-3zM204.5 316.4h3v3h-3zM191.8 316.6h3v3h-3zM197.3 323.7h3v3h-3zM180.3 319h3v3h-3zM173 314.6h3v3h-3zM214.2 315.8h3v3h-3zM203.2 323.3h3v3h-3zM172.3 318.7h3v3h-3zM205 316.1h3v3h-3zM194.3 323.9h3v3h-3zM172.4 313.8h3v3h-3zM179.3 316.5h3v3h-3zM188.8 321.3h3v3h-3zM215.8 325.9h3v3h-3zM210.7 315h3v3h-3zM190.4 321.8h3v3h-3zM174.7 318.8h3v3h-3zM189.1 323.5h3v3h-3zM183.4 318.1h3v3h-3zM195.4 320.2h3v3h-3zM214.4 317.5h3v3h-3zM178.5 323h3v3h-3zM183.8 316.3h3v3h-3zM200.8 321.2h3v3h-3zM175.4 322.7h3v3h-3zM200.7 323.2h3v3h-3zM182.4 321.5h3v3h-3zM195.7 318.5h3v3h-3zM203.1 322.2h3v3h-3zM192.6 324.2h3v3h-3zM175.5 323.9h3v3h-3zM187.4 316.5h3v3h-3zM212.1 318h3v3h-3zM193.5 324.9h3v3h-3zM175.1 316.7h3v3h-3zM209.4 316.3h3v3h-3zM181.3 316.9h3v3h-3zM173.5 322h3v3h-3zM174.1 322.3h3v3h-3zM209.8 315.5h3v3h-3zM212.2 322.5h3v3h-3zM188.4 319h3v3h-3zM196.8 317.4h3v3h-3zM175.8 318.9h3v3h-3zM185.2 320.5h3v3h-3zM179 319h3v3h-3zM173 323.4h3v3h-3zM173.2 319.3h3v3h-3zM174.6 321.2h3v3h-3zM205 321.1h3v3h-3zM215.2 322.9h3v3h-3zM189.3 320.1h3v3h-3zM215.8 317.3h3v3h-3zM202.1 322.8h3v3h-3zM213.9 322.9h3v3h-3zM181.7 319.6h3v3h-3zM215.5 324.8h3v3h-3zM207.7 318.6h3v3h-3zM187.7 322.7h3v3h-3zM202.2 318.8h3v3h-3zM187.1 319.3h3v3h-3zM185.1 316.7h3v3h-3zM199.2 320.7h3v3h-3zM178 313.9h3v3h-3zM210 318h3v3h-3zM212.4 323h3v3h-3zM210.1 315.2h3v3h-3zM179.7 321.1h3v3h-3zM187.7 320.5h3v3h-3zM191.6 316.9h3v3h-3zM201.1 323.5h3v3h-3zM189.3 320.4h3v3h-3zM184.5 323.5h3v3h-3zM194.6 321.8h3v3h-3zM174.9 322.6h3v3h-3zM208.3 320.7h3v3h-3zM192.7 318.8h3v3h-3zM187.7 324.1h3v3h-3zM177.8 317.4h3v3h-3zM203 320.4h3v3h-3zM184.8 319.9h3v3h-3zM182.8 318.8h3v3h-3zM192.3 322.2h3v3h-3zM177.3 319.2h3v3h-3zM209.1 314.7h3v3h-3zM203.6 317.9h3v3h-3zM201.5 323.5h3v3h-3zM206.1 318.4h3v3h-3zM192 317.8h3v3h-3zM185.6 323h3v3h-3zM191 324.7h3v3h-3zM208.9 316.6h3v3h-3zM206.9 318.1h3v3h-3zM177.7 317.9h3v3h-3zM205.6 320.9h3v3h-3zM177 321.1h3v3h-3zM179.6 318.6h3v3h-3zM212.9 319.9h3v3h-3zM177.2 317.4h3v3h-3zM213.2 321.4h3v3h-3zM191.5 317.8h3v3h-3zM191.5 324.8h3v3h-3zM200 323.9h3v3h-3zM177.5 320.5h3v3h-3zM211.1 322.8h3v3h-3zM187.9 320.3h3v3h-3zM200.7 320.8h3v3h-3zM191.9 317.3h3v3h-3z" fill="#0000ff"/>
</g>
<path d="M143.4 343.5v-4M143.4 260.7v4M157.2 343.5v-4M157.2 260.7v4M171.1 343.5v-4M171.1 260.7v4M184.9 343.5v-4M184.9 260.7v4M198.8 343.5v-4M198.8 260.7v4M212.6 343.5v-4M212.6 260.7v4M136.6 321.7h2M226.7 321.7h-2M136.6 309.5h4M226.7 309.5h-4M136.6 297.3h2M226.7 297.3h-2M136.6 285.1h4M226.7 285.1h-4M136.6 272.9h2M226.7 272.9h-2M136.6 333.9h4M226.7 333.9h-4" stroke="#5e5e5e" stroke-width="1" fill="none"/>
<path d="M136.1 260.7H227.2" stroke="#ababab" stroke-width="1.6"/>
<path d="M136.6 260.7V343.5H226.7V260.7" stroke="#5e5e5e" stroke-width="1" fill="none"/>
<text x="227" y="274.5" text-anchor="end" class="ttl">MEO  C36</text>
<g class="lab" fill="#000" stroke="#000" stroke-width="0.22">
<text x="31.6" y="81.3" text-anchor="end">0.0</text>
<text x="31.6" y="57" text-anchor="end">0.5</text>
<text x="31.6" y="32.6" text-anchor="end">1.0</text>
<text x="31.6" y="8.3" text-anchor="end">1.5</text>
<text transform="translate(10.3 42.5) rotate(-90)" text-anchor="middle" class="yl">Stability (10<tspan class="sup" dy="-4.5">-13</tspan><tspan dy="4.5">s)</tspan></text>
<text x="31.6" y="167.5" text-anchor="end">0.0</text>
<text x="31.6" y="143.2" text-anchor="end">0.5</text>
<text x="31.6" y="119" text-anchor="end">1.0</text>
<text x="31.6" y="94.7" text-anchor="end">1.5</text>
<text transform="translate(10.3 128.8) rotate(-90)" text-anchor="middle" class="yl">Stability (10<tspan class="sup" dy="-4.5">-13</tspan><tspan dy="4.5">s)</tspan></text>
<text x="31.6" y="254.2" text-anchor="end">0.0</text>
<text x="31.6" y="229.9" text-anchor="end">0.5</text>
<text x="31.6" y="205.6" text-anchor="end">1.0</text>
<text x="31.6" y="181.3" text-anchor="end">1.5</text>
<text transform="translate(10.3 219.8) rotate(-90)" text-anchor="middle" class="yl">Stability (10<tspan class="sup" dy="-4.5">-13</tspan><tspan dy="4.5">s)</tspan></text>
<text x="31.6" y="340.7" text-anchor="end">0.0</text>
<text x="31.6" y="316.3" text-anchor="end">0.5</text>
<text x="31.6" y="291.9" text-anchor="end">1.0</text>
<text x="31.6" y="267.5" text-anchor="end">1.5</text>
<text transform="translate(10.3 309.9) rotate(-90)" text-anchor="middle" class="yl">Stability (10<tspan class="sup" dy="-4.5">-13</tspan><tspan dy="4.5">s)</tspan></text>
<text x="238.3" y="270.5" text-anchor="middle">0</text>
<text x="265.9" y="270.5" text-anchor="middle">200</text>
<text x="293.6" y="270.5" text-anchor="middle">400</text>
<text x="321.3" y="270.5" text-anchor="middle">600</text>
<text x="280.4" y="282.9" text-anchor="middle">DAY</text>
<text x="339.3" y="270.5" text-anchor="middle">0</text>
<text x="366.9" y="270.5" text-anchor="middle">200</text>
<text x="394.6" y="270.5" text-anchor="middle">400</text>
<text x="422.3" y="270.5" text-anchor="middle">600</text>
<text x="381.4" y="282.9" text-anchor="middle">DAY</text>
<text x="440.4" y="270.5" text-anchor="middle">0</text>
<text x="468" y="270.5" text-anchor="middle">200</text>
<text x="495.7" y="270.5" text-anchor="middle">400</text>
<text x="523.4" y="270.5" text-anchor="middle">600</text>
<text x="482.5" y="282.9" text-anchor="middle">DAY</text>
<text x="36.1" y="357.1" text-anchor="middle">0</text>
<text x="63.7" y="357.1" text-anchor="middle">200</text>
<text x="91.4" y="357.1" text-anchor="middle">400</text>
<text x="119.1" y="357.1" text-anchor="middle">600</text>
<text x="78.2" y="372.5" text-anchor="middle">DAY</text>
<text x="137.2" y="357.1" text-anchor="middle">0</text>
<text x="164.8" y="357.1" text-anchor="middle">200</text>
<text x="192.5" y="357.1" text-anchor="middle">400</text>
<text x="220.2" y="357.1" text-anchor="middle">600</text>
<text x="179.3" y="372.5" text-anchor="middle">DAY</text>
</g>
</svg>
</body></html>
